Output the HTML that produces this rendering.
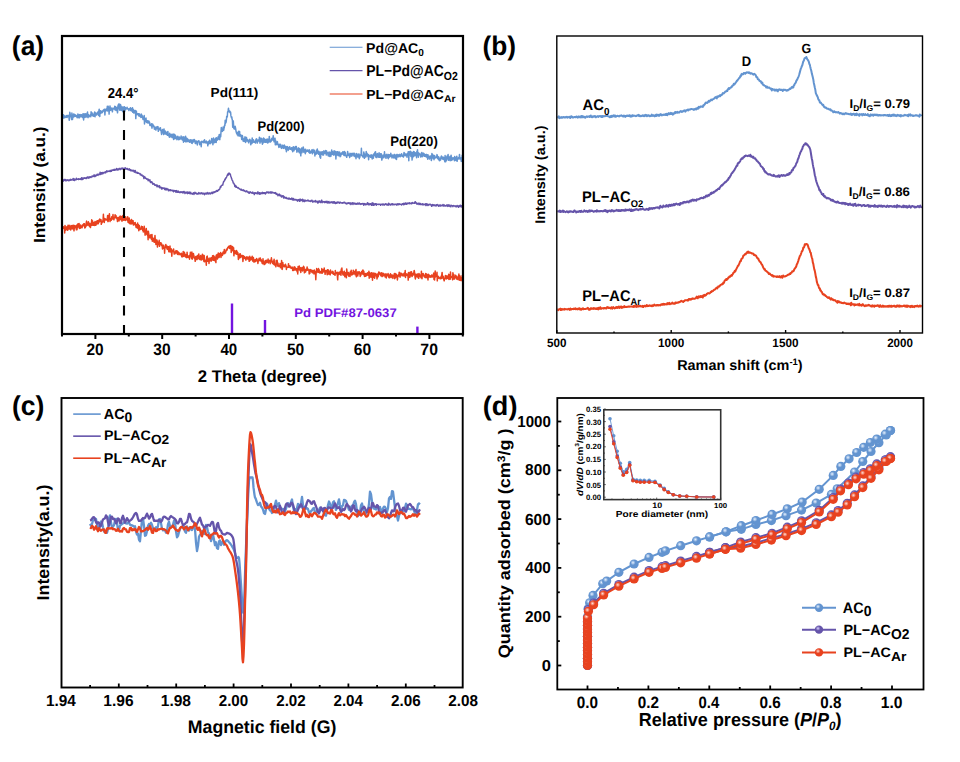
<!DOCTYPE html><html><head><meta charset="utf-8"><style>html,body{margin:0;padding:0;background:#fff;}svg{display:block;}text{font-family:"Liberation Sans",sans-serif;text-rendering:geometricPrecision;}</style></head><body>
<svg width="960" height="762" viewBox="0 0 960 762">
<rect width="960" height="762" fill="#fff"/>
<defs>
<radialGradient id="gb" cx="0.38" cy="0.35" r="0.65"><stop offset="0" stop-color="#e8f2ff"/><stop offset="0.42" stop-color="#6394d0"/><stop offset="1" stop-color="#6394d0"/></radialGradient>
<radialGradient id="gp" cx="0.38" cy="0.35" r="0.65"><stop offset="0" stop-color="#d8d0ff"/><stop offset="0.42" stop-color="#6554aa"/><stop offset="1" stop-color="#6554aa"/></radialGradient>
<radialGradient id="gr" cx="0.38" cy="0.35" r="0.65"><stop offset="0" stop-color="#ffe0d8"/><stop offset="0.42" stop-color="#e8421f"/><stop offset="1" stop-color="#e8421f"/></radialGradient>
</defs>
<path d="M62.6,117.36 L62.9,118.05 L63.2,117.78 L63.5,114.81 L63.8,118.1 L64.1,117.38 L64.4,115.88 L64.7,117.53 L65,117.18 L65.3,117.05 L65.6,116.67 L65.9,117.39 L66.2,115.44 L66.5,116.28 L66.8,115.78 L67.1,117.39 L67.4,116.53 L67.7,116.02 L68,115.27 L68.3,116.05 L68.6,116.43 L68.9,116 L69.2,120.29 L69.5,117.91 L69.8,112.33 L70.1,113.57 L70.4,116.14 L70.7,115.77 L71,116.72 L71.3,116.73 L71.6,119.58 L71.9,113.06 L72.2,115.83 L72.5,119.46 L72.8,117.37 L73.1,117.39 L73.4,115.63 L73.7,113.93 L74,116.65 L74.3,116.56 L74.6,114.56 L74.9,115.38 L75.2,116.29 L75.5,114.98 L75.8,116.25 L76.1,116.54 L76.4,116.45 L76.7,115.64 L77,117.29 L77.3,117.74 L77.6,116.88 L77.9,113.95 L78.2,117.5 L78.5,115.65 L78.8,117.72 L79.1,114.79 L79.4,117.77 L79.7,116.37 L80,114.53 L80.3,115.93 L80.6,116.47 L80.9,116.8 L81.2,114.9 L81.5,114.7 L81.8,116.65 L82.1,114.93 L82.4,116.66 L82.7,117.42 L83,113.79 L83.3,116.61 L83.6,119.88 L83.9,115.73 L84.2,113.71 L84.5,117.23 L84.8,116.45 L85.1,117.37 L85.4,115.47 L85.7,113.73 L86,115.74 L86.3,115.2 L86.6,116.99 L86.9,116.07 L87.2,113.29 L87.5,112.1 L87.8,116.97 L88.1,117.64 L88.4,114.59 L88.7,115.5 L89,116.12 L89.3,116.11 L89.6,116.68 L89.9,115.7 L90.2,115.13 L90.5,114.44 L90.8,116.75 L91.1,111.73 L91.4,114.84 L91.7,115.04 L92,112.79 L92.3,115.36 L92.6,113.82 L92.9,116.02 L93.2,114.46 L93.5,115.58 L93.8,116.33 L94.1,115 L94.4,113.03 L94.7,111.99 L95,116.81 L95.3,113.93 L95.6,112.98 L95.9,114.15 L96.2,113.56 L96.5,115.03 L96.8,113.72 L97.1,113.6 L97.4,112.42 L97.7,114.1 L98,111.76 L98.3,114.22 L98.6,115.41 L98.9,110.75 L99.2,109.24 L99.5,113.78 L99.8,116.58 L100.1,111.17 L100.4,110.7 L100.7,113.35 L101,111.1 L101.3,111.49 L101.6,111.61 L101.9,112.81 L102.2,111.28 L102.5,112.18 L102.8,111.37 L103.1,110.23 L103.4,110.89 L103.7,109.81 L104,111.11 L104.3,109.28 L104.6,109.19 L104.9,115.07 L105.2,110.4 L105.5,110.35 L105.8,111.08 L106.1,108.92 L106.4,109.72 L106.7,110.59 L107,110.26 L107.3,106.26 L107.6,110.88 L107.9,108.65 L108.2,106.28 L108.5,108.02 L108.8,108.71 L109.1,114.12 L109.4,107.42 L109.7,109.62 L110,105.89 L110.3,109.07 L110.6,110.39 L110.9,108.65 L111.2,108.04 L111.5,109.3 L111.8,109.97 L112.1,109.89 L112.4,111.83 L112.7,109.16 L113,107.93 L113.3,108.61 L113.6,108.66 L113.9,108.91 L114.2,108.68 L114.5,108.97 L114.8,106.18 L115.1,109.91 L115.4,107.78 L115.7,106.87 L116,109.57 L116.3,110.57 L116.6,109.32 L116.9,108.81 L117.2,107.16 L117.5,112.85 L117.8,109.86 L118.1,105.11 L118.4,107.35 L118.7,108.64 L119,103.84 L119.3,108.76 L119.6,107.81 L119.9,110.34 L120.2,109.94 L120.5,104.44 L120.8,108.57 L121.1,106.09 L121.4,110.19 L121.7,108.79 L122,109.37 L122.3,106.97 L122.6,111.33 L122.9,111.63 L123.2,107.03 L123.5,109.21 L123.8,107.66 L124.1,108.67 L124.4,106.83 L124.7,111.56 L125,107.34 L125.3,107.94 L125.6,109.62 L125.9,107.94 L126.2,108.59 L126.5,108.15 L126.8,108.83 L127.1,107.32 L127.4,108.47 L127.7,108.87 L128,108.73 L128.3,109.36 L128.6,108.89 L128.9,110.52 L129.2,108.96 L129.5,109.3 L129.8,108.56 L130.1,108.83 L130.4,107.81 L130.7,110.6 L131,108.24 L131.3,108.99 L131.6,110.82 L131.9,111.08 L132.2,109.48 L132.5,107.86 L132.8,112.37 L133.1,112.11 L133.4,109.44 L133.7,112.95 L134,110.96 L134.3,110.54 L134.6,112.58 L134.9,112.37 L135.2,113.13 L135.5,110.6 L135.8,118.62 L136.1,112.46 L136.4,111.24 L136.7,114.65 L137,113.37 L137.3,114.57 L137.6,113.75 L137.9,114.35 L138.2,114.99 L138.5,113.69 L138.8,116.02 L139.1,113.78 L139.4,114.09 L139.7,115.82 L140,116.47 L140.3,115.67 L140.6,114.94 L140.9,117.39 L141.2,114.04 L141.5,115.37 L141.8,117.22 L142.1,115.36 L142.4,117.68 L142.7,117.81 L143,119.49 L143.3,117.01 L143.6,117.7 L143.9,119.39 L144.2,115.45 L144.5,124.04 L144.8,118.59 L145.1,118.79 L145.4,121.42 L145.7,120.33 L146,117.97 L146.3,121.84 L146.6,122.44 L146.9,120.75 L147.2,121.26 L147.5,122.67 L147.8,120.84 L148.1,123.12 L148.4,123.01 L148.7,121.95 L149,121.13 L149.3,122.78 L149.6,122.38 L149.9,125.43 L150.2,124.37 L150.5,125.55 L150.8,124.79 L151.1,125.2 L151.4,123.85 L151.7,126.24 L152,128.12 L152.3,125.19 L152.6,124.08 L152.9,125.58 L153.2,125.53 L153.5,125.4 L153.8,126.85 L154.1,126.4 L154.4,129.19 L154.7,127.21 L155,127.89 L155.3,129.01 L155.6,127.31 L155.9,130.09 L156.2,127.17 L156.5,127.07 L156.8,127.91 L157.1,128.45 L157.4,126.69 L157.7,128.9 L158,126.62 L158.3,131.37 L158.6,129.32 L158.9,128.65 L159.2,128.41 L159.5,129.35 L159.8,129.76 L160.1,128.69 L160.4,127.66 L160.7,130.3 L161,129.96 L161.3,132.31 L161.6,134.47 L161.9,131.25 L162.2,132.09 L162.5,129.54 L162.8,132.65 L163.1,131.81 L163.4,132.73 L163.7,134.56 L164,128.89 L164.3,132.85 L164.6,130.96 L164.9,133.64 L165.2,130.93 L165.5,132.29 L165.8,133.48 L166.1,134.24 L166.4,133.57 L166.7,132.41 L167,132.07 L167.3,135.2 L167.6,133.99 L167.9,131.61 L168.2,135.53 L168.5,135.02 L168.8,135.83 L169.1,134.14 L169.4,137.25 L169.7,133.29 L170,135.85 L170.3,134.38 L170.6,136.24 L170.9,136.85 L171.2,134.35 L171.5,135.49 L171.8,135.79 L172.1,137.57 L172.4,136.96 L172.7,134.17 L173,136.8 L173.3,137.33 L173.6,139.51 L173.9,133.91 L174.2,135.72 L174.5,138.63 L174.8,134.7 L175.1,135.03 L175.4,137.71 L175.7,138.56 L176,136.12 L176.3,138.03 L176.6,137.49 L176.9,139.69 L177.2,137.5 L177.5,139.08 L177.8,136.33 L178.1,137.49 L178.4,137.71 L178.7,139.65 L179,138.9 L179.3,136.98 L179.6,139.22 L179.9,139.43 L180.2,138.19 L180.5,138.04 L180.8,138.22 L181.1,136.04 L181.4,138.94 L181.7,139.09 L182,137.51 L182.3,140 L182.6,136.9 L182.9,138.2 L183.2,138.39 L183.5,142.16 L183.8,136.85 L184.1,140.16 L184.4,140.79 L184.7,140.02 L185,141.29 L185.3,138.08 L185.6,136.23 L185.9,142.01 L186.2,137.98 L186.5,139.35 L186.8,138.13 L187.1,141.54 L187.4,141.32 L187.7,139 L188,141.49 L188.3,140.38 L188.6,140.04 L188.9,140.39 L189.2,140.06 L189.5,142.26 L189.8,140.93 L190.1,139.99 L190.4,142.08 L190.7,139.71 L191,141.11 L191.3,141.36 L191.6,143 L191.9,140.08 L192.2,143.51 L192.5,141.21 L192.8,140.42 L193.1,140.05 L193.4,141.99 L193.7,141.24 L194,139.57 L194.3,139.58 L194.6,140.49 L194.9,140.36 L195.2,143.06 L195.5,143.53 L195.8,142.82 L196.1,142.63 L196.4,140.96 L196.7,141.72 L197,143.01 L197.3,144.91 L197.6,143.12 L197.9,141.36 L198.2,141.86 L198.5,141.1 L198.8,140.68 L199.1,141.59 L199.4,142.17 L199.7,144.65 L200,141.98 L200.3,143.94 L200.6,144.56 L200.9,142.03 L201.2,146.74 L201.5,143 L201.8,141.3 L202.1,142.33 L202.4,141.97 L202.7,141.6 L203,141.65 L203.3,142.17 L203.6,142.61 L203.9,140.63 L204.2,141.95 L204.5,139.68 L204.8,142.36 L205.1,142.91 L205.4,142.22 L205.7,142.84 L206,142.87 L206.3,140.99 L206.6,141.63 L206.9,142.76 L207.2,143.49 L207.5,142.59 L207.8,145.82 L208.1,141.86 L208.4,143.5 L208.7,143.9 L209,141.8 L209.3,140.77 L209.6,140.23 L209.9,142.24 L210.2,143.66 L210.5,142.39 L210.8,142.21 L211.1,141.34 L211.4,142.7 L211.7,138.59 L212,142.06 L212.3,141.67 L212.6,139.48 L212.9,144.7 L213.2,139.25 L213.5,137.99 L213.8,139.3 L214.1,142.65 L214.4,139.52 L214.7,141.73 L215,142.36 L215.3,140.85 L215.6,138.34 L215.9,139.2 L216.2,142.43 L216.5,137.76 L216.8,138.21 L217.1,138.96 L217.4,140.14 L217.7,139.02 L218,139.45 L218.3,136.41 L218.6,139.09 L218.9,138.17 L219.2,134.56 L219.5,138.88 L219.8,139.61 L220.1,134.61 L220.4,135.36 L220.7,136.82 L221,131.88 L221.3,127.47 L221.6,130.78 L221.9,131.14 L222.2,130.36 L222.5,131.37 L222.8,130.1 L223.1,127.08 L223.4,129.04 L223.7,130.23 L224,128.42 L224.3,127.29 L224.6,125 L224.9,125.6 L225.2,120.35 L225.5,123.47 L225.8,121.3 L226.1,122.17 L226.4,120.02 L226.7,116.36 L227,116.76 L227.3,116.94 L227.6,112.01 L227.9,111.58 L228.2,110.16 L228.5,108.24 L228.8,111.44 L229.1,111.89 L229.4,111.4 L229.7,111.11 L230,111.42 L230.3,112.75 L230.6,112.25 L230.9,115.64 L231.2,116.83 L231.5,117.82 L231.8,116.94 L232.1,119.24 L232.4,120.24 L232.7,127.14 L233,123.17 L233.3,121.08 L233.6,125.49 L233.9,128.67 L234.2,127.8 L234.5,128.98 L234.8,128.55 L235.1,126.33 L235.4,127.29 L235.7,128.8 L236,131.06 L236.3,132.25 L236.6,133.33 L236.9,132.28 L237.2,134.7 L237.5,132.88 L237.8,133.09 L238.1,135.82 L238.4,132.18 L238.7,131.18 L239,132.43 L239.3,136.05 L239.6,131.56 L239.9,135.89 L240.2,135.65 L240.5,134.71 L240.8,134.82 L241.1,136.54 L241.4,136.58 L241.7,139.46 L242,138.29 L242.3,135.5 L242.6,136.73 L242.9,139.21 L243.2,141.12 L243.5,138.98 L243.8,138.99 L244.1,141.44 L244.4,138.73 L244.7,138.42 L245,136.88 L245.3,138.35 L245.6,142.5 L245.9,137.22 L246.2,139.5 L246.5,137.47 L246.8,140.08 L247.1,141.13 L247.4,139.54 L247.7,141.11 L248,141.19 L248.3,140.87 L248.6,142.86 L248.9,141.54 L249.2,139.98 L249.5,139.49 L249.8,139.3 L250.1,141.33 L250.4,140.18 L250.7,144.81 L251,143.52 L251.3,140.48 L251.6,140.36 L251.9,143.43 L252.2,138.12 L252.5,140.31 L252.8,142.45 L253.1,139.7 L253.4,139.68 L253.7,140.62 L254,142.18 L254.3,141.43 L254.6,141.86 L254.9,142.18 L255.2,141.37 L255.5,143.02 L255.8,140.29 L256.1,139.26 L256.4,138.77 L256.7,139.03 L257,140.66 L257.3,143.05 L257.6,141.79 L257.9,140.64 L258.2,139.95 L258.5,140.78 L258.8,140.98 L259.1,140.74 L259.4,137.3 L259.7,140.89 L260,143.13 L260.3,138.34 L260.6,141.23 L260.9,138.39 L261.2,141.83 L261.5,140.41 L261.8,138.38 L262.1,141.63 L262.4,144.17 L262.7,141.57 L263,143.11 L263.3,141.21 L263.6,138.04 L263.9,141.96 L264.2,139.93 L264.5,138.94 L264.8,142.26 L265.1,141.46 L265.4,140.2 L265.7,142.24 L266,139.58 L266.3,141.81 L266.6,139.38 L266.9,142.35 L267.2,139.06 L267.5,142.91 L267.8,141.02 L268.1,142.75 L268.4,139.34 L268.7,139.84 L269,141.79 L269.3,136.4 L269.6,138.9 L269.9,142.05 L270.2,141.2 L270.5,141.98 L270.8,140.07 L271.1,141.42 L271.4,139.52 L271.7,138.61 L272,138.18 L272.3,139.96 L272.6,140.04 L272.9,139.99 L273.2,135.7 L273.5,138.11 L273.8,140.4 L274.1,141.73 L274.4,139.66 L274.7,140.18 L275,138.14 L275.3,144.76 L275.6,140.23 L275.9,144.6 L276.2,144.63 L276.5,142.94 L276.8,141.94 L277.1,143.27 L277.4,141.62 L277.7,144.43 L278,143.95 L278.3,145.02 L278.6,145.93 L278.9,147.38 L279.2,144.45 L279.5,146.83 L279.8,144.29 L280.1,144.32 L280.4,144.9 L280.7,144.53 L281,147.64 L281.3,147.72 L281.6,148.41 L281.9,146.62 L282.2,147.22 L282.5,145.22 L282.8,145.37 L283.1,147.9 L283.4,148.16 L283.7,145.81 L284,148.46 L284.3,145.08 L284.6,147.52 L284.9,145.98 L285.2,147.16 L285.5,146.4 L285.8,149.53 L286.1,149.02 L286.4,151.78 L286.7,148.49 L287,146.41 L287.3,147.85 L287.6,146.69 L287.9,149.2 L288.2,150.39 L288.5,149.11 L288.8,147.77 L289.1,148.16 L289.4,149.07 L289.7,146.64 L290,149.08 L290.3,149.2 L290.6,148.13 L290.9,148.36 L291.2,149.28 L291.5,147.84 L291.8,147.87 L292.1,150.32 L292.4,149.52 L292.7,151.75 L293,147.79 L293.3,146.64 L293.6,150.77 L293.9,150.83 L294.2,148.33 L294.5,147.28 L294.8,149.46 L295.1,146.95 L295.4,149.11 L295.7,146.4 L296,148.96 L296.3,146.58 L296.6,149.45 L296.9,152.13 L297.2,149.5 L297.5,151.11 L297.8,149.04 L298.1,148.71 L298.4,147.85 L298.7,151.7 L299,150.1 L299.3,152.67 L299.6,148.51 L299.9,149.99 L300.2,150.49 L300.5,152.53 L300.8,155.86 L301.1,149.53 L301.4,148.85 L301.7,147.99 L302,152.64 L302.3,150.34 L302.6,149.74 L302.9,150.68 L303.2,146.96 L303.5,148.25 L303.8,152.28 L304.1,151.51 L304.4,151.17 L304.7,149.48 L305,151.9 L305.3,153.72 L305.6,149.25 L305.9,151.15 L306.2,150.5 L306.5,151.73 L306.8,151.24 L307.1,151.03 L307.4,149.96 L307.7,151.29 L308,150.43 L308.3,151.16 L308.6,151.14 L308.9,152.42 L309.2,149.64 L309.5,150.45 L309.8,153.14 L310.1,151.23 L310.4,151.2 L310.7,152.91 L311,152.05 L311.3,151.81 L311.6,152.03 L311.9,149.87 L312.2,152.45 L312.5,153.78 L312.8,152.69 L313.1,149.51 L313.4,152.3 L313.7,150.54 L314,151.59 L314.3,152.28 L314.6,150.19 L314.9,155.95 L315.2,151.93 L315.5,153.25 L315.8,153.04 L316.1,154.13 L316.4,153.93 L316.7,149.96 L317,152.26 L317.3,149.02 L317.6,151.58 L317.9,153.34 L318.2,153.67 L318.5,154.26 L318.8,151.17 L319.1,152.86 L319.4,152.55 L319.7,154.33 L320,157.17 L320.3,151.94 L320.6,158.18 L320.9,152.52 L321.2,152 L321.5,154.32 L321.8,153.73 L322.1,153.44 L322.4,151.67 L322.7,154.88 L323,152.77 L323.3,155.02 L323.6,154.83 L323.9,150.85 L324.2,151.32 L324.5,151.31 L324.8,153.21 L325.1,152.99 L325.4,153.28 L325.7,150.43 L326,153.57 L326.3,155.05 L326.6,150.97 L326.9,152.7 L327.2,153.39 L327.5,152.84 L327.8,152.76 L328.1,155.73 L328.4,155.02 L328.7,154.39 L329,152 L329.3,156.53 L329.6,153.73 L329.9,152.34 L330.2,152.72 L330.5,152.51 L330.8,156.45 L331.1,153.6 L331.4,153.41 L331.7,150.11 L332,154.46 L332.3,151.79 L332.6,151.71 L332.9,154.34 L333.2,152.15 L333.5,154.72 L333.8,155.17 L334.1,150.83 L334.4,153.33 L334.7,151.2 L335,153.49 L335.3,154.97 L335.6,151.58 L335.9,159.04 L336.2,153.21 L336.5,151.92 L336.8,153.53 L337.1,154.93 L337.4,151.7 L337.7,153.79 L338,151.75 L338.3,155.64 L338.6,154.09 L338.9,153.24 L339.2,155.46 L339.5,152 L339.8,153.36 L340.1,156.75 L340.4,153.82 L340.7,156.06 L341,154.34 L341.3,153.03 L341.6,153.73 L341.9,154.24 L342.2,153.53 L342.5,152.94 L342.8,151.82 L343.1,152 L343.4,154.41 L343.7,154.86 L344,155.42 L344.3,151.61 L344.6,155.55 L344.9,154.34 L345.2,152.25 L345.5,154.68 L345.8,155.66 L346.1,155.25 L346.4,155.58 L346.7,157.32 L347,155.88 L347.3,154.51 L347.6,151.46 L347.9,153.47 L348.2,155.17 L348.5,153.95 L348.8,155.71 L349.1,155.9 L349.4,154.8 L349.7,157.57 L350,153.31 L350.3,156.19 L350.6,154.11 L350.9,153.67 L351.2,155.74 L351.5,153.96 L351.8,156.19 L352.1,153.18 L352.4,155 L352.7,153.71 L353,154.64 L353.3,154.46 L353.6,153.35 L353.9,156.04 L354.2,153.22 L354.5,153.64 L354.8,156.46 L355.1,156.61 L355.4,156.17 L355.7,155.7 L356,158.63 L356.3,153.42 L356.6,154.14 L356.9,153.79 L357.2,156.65 L357.5,155.75 L357.8,157 L358.1,156.82 L358.4,154.68 L358.7,154.17 L359,153.93 L359.3,158.75 L359.6,156.9 L359.9,157.23 L360.2,154.98 L360.5,155.21 L360.8,155.01 L361.1,155.06 L361.4,148.33 L361.7,155.49 L362,155.03 L362.3,156.06 L362.6,155.96 L362.9,156.95 L363.2,155.67 L363.5,156.9 L363.8,151.88 L364.1,154.09 L364.4,158.35 L364.7,153.95 L365,154.94 L365.3,156.88 L365.6,154.51 L365.9,156.94 L366.2,151.56 L366.5,153.01 L366.8,153.9 L367.1,153.43 L367.4,155.9 L367.7,155.46 L368,156.44 L368.3,154.4 L368.6,159.78 L368.9,155.83 L369.2,155.81 L369.5,156.66 L369.8,155.61 L370.1,155.03 L370.4,156.11 L370.7,157.36 L371,156.98 L371.3,157.39 L371.6,155.13 L371.9,154.82 L372.2,158.99 L372.5,155.62 L372.8,156.7 L373.1,157.09 L373.4,158.11 L373.7,153.96 L374,155.26 L374.3,155.33 L374.6,155.53 L374.9,152.36 L375.2,155.84 L375.5,151.64 L375.8,156.86 L376.1,157.58 L376.4,156.88 L376.7,154.18 L377,157.42 L377.3,153.38 L377.6,154.14 L377.9,154.52 L378.2,154.71 L378.5,156.25 L378.8,157.22 L379.1,152.83 L379.4,155.18 L379.7,157.34 L380,156.29 L380.3,156.75 L380.6,153.74 L380.9,157.42 L381.2,153.65 L381.5,156.29 L381.8,160.08 L382.1,158.82 L382.4,156.77 L382.7,157.32 L383,155.09 L383.3,155.28 L383.6,157.75 L383.9,156 L384.2,155.81 L384.5,151.77 L384.8,156.23 L385.1,156.97 L385.4,154.81 L385.7,155.24 L386,158.37 L386.3,156.26 L386.6,155.56 L386.9,154.28 L387.2,155.05 L387.5,155.6 L387.8,158.03 L388.1,155.05 L388.4,158.65 L388.7,154.56 L389,155.41 L389.3,157.2 L389.6,155.57 L389.9,154.67 L390.2,155.71 L390.5,156.57 L390.8,153.31 L391.1,155.5 L391.4,155.53 L391.7,155.24 L392,158.04 L392.3,154.97 L392.6,155.27 L392.9,155.85 L393.2,156.88 L393.5,155.44 L393.8,158.03 L394.1,154.38 L394.4,157.65 L394.7,154.42 L395,155.45 L395.3,156.22 L395.6,158.74 L395.9,156.99 L396.2,155.02 L396.5,159.51 L396.8,155.27 L397.1,154.39 L397.4,156.23 L397.7,155.68 L398,156.95 L398.3,154.68 L398.6,156.63 L398.9,156.42 L399.2,155.87 L399.5,155.39 L399.8,154.37 L400.1,156.75 L400.4,155.58 L400.7,156.09 L401,154.8 L401.3,155.31 L401.6,153.71 L401.9,155.49 L402.2,156.35 L402.5,155.3 L402.8,156.41 L403.1,156.02 L403.4,157.09 L403.7,154.72 L404,152.5 L404.3,155.57 L404.6,154.63 L404.9,153.37 L405.2,155.77 L405.5,155.14 L405.8,155.37 L406.1,154.16 L406.4,154.91 L406.7,155.34 L407,157.2 L407.3,153.47 L407.6,154.44 L407.9,154.96 L408.2,151.79 L408.5,151.94 L408.8,160.81 L409.1,151.63 L409.4,155.11 L409.7,152.95 L410,153.06 L410.3,151.2 L410.6,152.8 L410.9,156.48 L411.2,152.02 L411.5,154.97 L411.8,154.52 L412.1,160.09 L412.4,152.59 L412.7,157.78 L413,155.3 L413.3,153.52 L413.6,151.44 L413.9,156.19 L414.2,151.87 L414.5,153.19 L414.8,155.23 L415.1,155.57 L415.4,152.64 L415.7,153.87 L416,153.55 L416.3,155.74 L416.6,157.75 L416.9,151.29 L417.2,155.44 L417.5,149.83 L417.8,154.18 L418.1,152.55 L418.4,157.26 L418.7,154.58 L419,153.28 L419.3,153.7 L419.6,153.65 L419.9,154.86 L420.2,154.4 L420.5,155.68 L420.8,157.07 L421.1,155.88 L421.4,153.05 L421.7,152.51 L422,153.87 L422.3,156.64 L422.6,154.62 L422.9,153.18 L423.2,155.46 L423.5,153.2 L423.8,153.69 L424.1,156.24 L424.4,155.09 L424.7,154.27 L425,156.18 L425.3,154.91 L425.6,154.83 L425.9,155.25 L426.2,156.92 L426.5,156.19 L426.8,154.38 L427.1,155.79 L427.4,157.29 L427.7,159.2 L428,154.74 L428.3,157.03 L428.6,156.19 L428.9,157.87 L429.2,158.04 L429.5,158.94 L429.8,157.55 L430.1,155.99 L430.4,156.04 L430.7,157.49 L431,157.51 L431.3,160.54 L431.6,159.49 L431.9,153.49 L432.2,157.57 L432.5,155.08 L432.8,154.62 L433.1,158.25 L433.4,157.99 L433.7,155.63 L434,159.68 L434.3,155.78 L434.6,155.52 L434.9,158.28 L435.2,157.65 L435.5,157.11 L435.8,157.27 L436.1,157.73 L436.4,157.21 L436.7,157.19 L437,154.62 L437.3,155.48 L437.6,158.43 L437.9,156.48 L438.2,158.37 L438.5,159.43 L438.8,157.06 L439.1,158.04 L439.4,160.75 L439.7,158.69 L440,160.43 L440.3,159.98 L440.6,159.96 L440.9,157.38 L441.2,156.47 L441.5,156.08 L441.8,158.49 L442.1,158.48 L442.4,157.53 L442.7,159.08 L443,156.91 L443.3,159.5 L443.6,157.91 L443.9,157.8 L444.2,157.87 L444.5,157.59 L444.8,161.63 L445.1,155.49 L445.4,158.18 L445.7,161.66 L446,159.01 L446.3,157.49 L446.6,160.57 L446.9,156.36 L447.2,156.02 L447.5,158.84 L447.8,155.81 L448.1,154.44 L448.4,159.34 L448.7,160.31 L449,159.13 L449.3,157.31 L449.6,158.33 L449.9,156.61 L450.2,160.67 L450.5,159.27 L450.8,159.2 L451.1,155.17 L451.4,159.32 L451.7,160.36 L452,159.95 L452.3,159.32 L452.6,158.14 L452.9,157.64 L453.2,159.06 L453.5,158.74 L453.8,158.53 L454.1,157.72 L454.4,160.71 L454.7,156.44 L455,158.17 L455.3,157.34 L455.6,159.76 L455.9,160.37 L456.2,160.09 L456.5,159.37 L456.8,156.13 L457.1,161.37 L457.4,159.02 L457.7,158.09 L458,158.29 L458.3,157.75 L458.6,158.9 L458.9,158.74 L459.2,157.74 L459.5,154.42 L459.8,158.23 L460.1,159 L460.4,159.08 L460.7,158.06 L461,158.97 L461.3,161.38 L461.6,157.59 L461.9,160.5 L462.2,155.37 L462.5,156.41" fill="none" stroke="#6394d0" stroke-width="1.5" stroke-linejoin="round"/>
<path d="M62.6,179.96 L62.9,180.15 L63.2,181.33 L63.5,180.44 L63.8,180.05 L64.1,179.39 L64.4,180.4 L64.7,179.62 L65,180.23 L65.3,179.84 L65.6,179.46 L65.9,180.95 L66.2,180.14 L66.5,180.59 L66.8,180.5 L67.1,179.82 L67.4,180.18 L67.7,179.96 L68,180.54 L68.3,180.29 L68.6,179.92 L68.9,180.81 L69.2,180.28 L69.5,180.24 L69.8,179.66 L70.1,180.18 L70.4,179.32 L70.7,180.17 L71,179.52 L71.3,180 L71.6,179.78 L71.9,179.98 L72.2,180.02 L72.5,179.8 L72.8,179.78 L73.1,178.44 L73.4,178.9 L73.7,180.29 L74,179.95 L74.3,179 L74.6,180.49 L74.9,179.28 L75.2,179.8 L75.5,179.73 L75.8,179.56 L76.1,179.75 L76.4,178.2 L76.7,179.39 L77,179.14 L77.3,179.38 L77.6,179.18 L77.9,178.97 L78.2,178.9 L78.5,179.59 L78.8,178.77 L79.1,179.28 L79.4,179.23 L79.7,178.99 L80,179.19 L80.3,179.2 L80.6,178.68 L80.9,179.03 L81.2,179.7 L81.5,177.83 L81.8,178.61 L82.1,178.36 L82.4,179.55 L82.7,177.98 L83,178.57 L83.3,178.94 L83.6,178.08 L83.9,178.36 L84.2,178.05 L84.5,177.71 L84.8,178.23 L85.1,178.43 L85.4,177.97 L85.7,178.17 L86,178.35 L86.3,178.52 L86.6,177.37 L86.9,178.14 L87.2,177.52 L87.5,176.89 L87.8,177.33 L88.1,177.9 L88.4,177.69 L88.7,177 L89,178.15 L89.3,177.54 L89.6,177.26 L89.9,176.73 L90.2,177.34 L90.5,176.91 L90.8,177.52 L91.1,177.07 L91.4,177.13 L91.7,176.63 L92,176.02 L92.3,176.84 L92.6,176.06 L92.9,176.38 L93.2,176.32 L93.5,175.89 L93.8,176.55 L94.1,174.77 L94.4,176.62 L94.7,175.59 L95,176.62 L95.3,176.24 L95.6,175.17 L95.9,175.13 L96.2,175.78 L96.5,175.34 L96.8,175.19 L97.1,174.24 L97.4,174.22 L97.7,175.33 L98,175.4 L98.3,174.33 L98.6,174.17 L98.9,174.55 L99.2,174.56 L99.5,174.51 L99.8,173.97 L100.1,172.33 L100.4,174.63 L100.7,173.43 L101,174.34 L101.3,172.79 L101.6,173.75 L101.9,173.26 L102.2,172.41 L102.5,173.71 L102.8,173.75 L103.1,172.81 L103.4,173.26 L103.7,172.39 L104,172.49 L104.3,172.55 L104.6,172.4 L104.9,173.03 L105.2,171.82 L105.5,172.69 L105.8,172.59 L106.1,171.96 L106.4,171.43 L106.7,170.8 L107,171.74 L107.3,171.35 L107.6,171.62 L107.9,171.02 L108.2,171.4 L108.5,171.25 L108.8,171.23 L109.1,171.27 L109.4,171.32 L109.7,171.41 L110,170.55 L110.3,171.47 L110.6,170.82 L110.9,170.49 L111.2,170.16 L111.5,171.18 L111.8,170.68 L112.1,170.16 L112.4,170.36 L112.7,170.26 L113,169.96 L113.3,169.51 L113.6,170.13 L113.9,169.93 L114.2,169.81 L114.5,170.31 L114.8,169.23 L115.1,169.33 L115.4,169.84 L115.7,170.01 L116,169.85 L116.3,169.85 L116.6,168.49 L116.9,169.64 L117.2,169.55 L117.5,169.92 L117.8,168.95 L118.1,169.42 L118.4,169.58 L118.7,169.79 L119,169.13 L119.3,168.36 L119.6,168.92 L119.9,169.13 L120.2,169.01 L120.5,169.59 L120.8,168.6 L121.1,168.19 L121.4,168.32 L121.7,168.87 L122,168.19 L122.3,168.06 L122.6,168.14 L122.9,169.04 L123.2,168.61 L123.5,168.37 L123.8,168.91 L124.1,168.86 L124.4,168.16 L124.7,169.37 L125,168.78 L125.3,167.81 L125.6,168.25 L125.9,168.96 L126.2,169.12 L126.5,168.85 L126.8,168.6 L127.1,169.23 L127.4,168.39 L127.7,169.53 L128,169.29 L128.3,169.43 L128.6,169.24 L128.9,169.98 L129.2,168.65 L129.5,169.39 L129.8,170.11 L130.1,169.62 L130.4,170.67 L130.7,170.29 L131,169.85 L131.3,170.77 L131.6,170.34 L131.9,170.73 L132.2,170.3 L132.5,170.41 L132.8,171.1 L133.1,170.94 L133.4,170.67 L133.7,170.35 L134,171.53 L134.3,172.14 L134.6,171.11 L134.9,171.9 L135.2,170.44 L135.5,171.24 L135.8,172.29 L136.1,172.83 L136.4,172.28 L136.7,172.64 L137,172.65 L137.3,173.12 L137.6,172.34 L137.9,173.24 L138.2,172.92 L138.5,173.11 L138.8,173.4 L139.1,173.47 L139.4,173.37 L139.7,173.75 L140,173.6 L140.3,174.84 L140.6,174.66 L140.9,174.34 L141.2,175.41 L141.5,175.47 L141.8,175.3 L142.1,175.05 L142.4,175.6 L142.7,175.95 L143,176.53 L143.3,176.05 L143.6,176.09 L143.9,178.63 L144.2,177.41 L144.5,177.16 L144.8,176.85 L145.1,177.7 L145.4,178.22 L145.7,178.29 L146,178.56 L146.3,178.45 L146.6,179.17 L146.9,178.63 L147.2,178.94 L147.5,179.15 L147.8,179.31 L148.1,180.7 L148.4,179.3 L148.7,180.52 L149,180.07 L149.3,180.17 L149.6,180.99 L149.9,179.78 L150.2,181.32 L150.5,182.59 L150.8,181.71 L151.1,182.21 L151.4,181.85 L151.7,182.67 L152,182.01 L152.3,182.98 L152.6,183.06 L152.9,184.31 L153.2,183.52 L153.5,183.61 L153.8,183.74 L154.1,183.66 L154.4,184.75 L154.7,185.25 L155,184.63 L155.3,185.31 L155.6,185.01 L155.9,185.52 L156.2,185.72 L156.5,185.03 L156.8,185.47 L157.1,186.8 L157.4,185.23 L157.7,186.22 L158,186.18 L158.3,186.04 L158.6,186.6 L158.9,186.83 L159.2,187.04 L159.5,185.73 L159.8,187.77 L160.1,186.9 L160.4,187.68 L160.7,187.26 L161,187.15 L161.3,187.48 L161.6,189.02 L161.9,189.1 L162.2,187.63 L162.5,187.97 L162.8,188.46 L163.1,188.31 L163.4,188.17 L163.7,188.06 L164,187.83 L164.3,188.74 L164.6,189.48 L164.9,189.58 L165.2,188.17 L165.5,189.04 L165.8,188.82 L166.1,190.06 L166.4,188.97 L166.7,188.53 L167,188.43 L167.3,189.6 L167.6,189.44 L167.9,189.96 L168.2,189.3 L168.5,190.8 L168.8,189.4 L169.1,190.03 L169.4,190.07 L169.7,190.47 L170,189.98 L170.3,189.72 L170.6,189.77 L170.9,190.66 L171.2,190.42 L171.5,190.6 L171.8,190.15 L172.1,190.66 L172.4,190.76 L172.7,191.01 L173,190.14 L173.3,190.52 L173.6,191.71 L173.9,190.82 L174.2,191.01 L174.5,190.93 L174.8,190.49 L175.1,190.73 L175.4,191.44 L175.7,190.71 L176,192.28 L176.3,190.74 L176.6,190.59 L176.9,191.33 L177.2,191.01 L177.5,192.22 L177.8,191.44 L178.1,191.91 L178.4,191.08 L178.7,192.35 L179,192.08 L179.3,192.39 L179.6,191.97 L179.9,192.37 L180.2,192.02 L180.5,192.4 L180.8,191.83 L181.1,192.3 L181.4,191.83 L181.7,192.44 L182,192.03 L182.3,191.9 L182.6,191.92 L182.9,192.92 L183.2,191.59 L183.5,191.66 L183.8,192.65 L184.1,191.49 L184.4,192.22 L184.7,192.01 L185,193.52 L185.3,192.23 L185.6,192.24 L185.9,192.43 L186.2,192.74 L186.5,192.9 L186.8,192.06 L187.1,193.16 L187.4,193.68 L187.7,192.03 L188,193.14 L188.3,193.27 L188.6,193.1 L188.9,192.91 L189.2,191.98 L189.5,193.62 L189.8,192.97 L190.1,193.06 L190.4,193.74 L190.7,192.17 L191,193.22 L191.3,193.55 L191.6,193.64 L191.9,193.62 L192.2,194.29 L192.5,193.52 L192.8,193.88 L193.1,193.78 L193.4,192.79 L193.7,193.12 L194,194.42 L194.3,193.37 L194.6,193.47 L194.9,192.31 L195.2,193.35 L195.5,192.91 L195.8,193.23 L196.1,193.75 L196.4,193.13 L196.7,193.22 L197,194.1 L197.3,193.71 L197.6,193.73 L197.9,193.95 L198.2,193.25 L198.5,193.32 L198.8,192.57 L199.1,193.83 L199.4,193.41 L199.7,193.5 L200,193.01 L200.3,193.78 L200.6,193.78 L200.9,193.58 L201.2,192.78 L201.5,193.12 L201.8,193.48 L202.1,193.12 L202.4,193.67 L202.7,193.95 L203,193.16 L203.3,193.42 L203.6,193.19 L203.9,193.96 L204.2,193.9 L204.5,194.7 L204.8,193.5 L205.1,193.08 L205.4,193.68 L205.7,193.39 L206,193.57 L206.3,194.03 L206.6,193.33 L206.9,193.76 L207.2,192.46 L207.5,193.87 L207.8,193.43 L208.1,193.23 L208.4,193.08 L208.7,193.91 L209,193.01 L209.3,193.77 L209.6,192.94 L209.9,193.17 L210.2,193.24 L210.5,193.95 L210.8,193.22 L211.1,193.05 L211.4,192.87 L211.7,192.72 L212,192.26 L212.3,193.56 L212.6,193.35 L212.9,192.31 L213.2,192.61 L213.5,191.91 L213.8,192.77 L214.1,192.55 L214.4,192.18 L214.7,191.64 L215,192.22 L215.3,192.01 L215.6,191.51 L215.9,191.77 L216.2,190.68 L216.5,190.85 L216.8,190.52 L217.1,190.82 L217.4,191.34 L217.7,190.45 L218,190.72 L218.3,189.98 L218.6,189.57 L218.9,189.93 L219.2,189.42 L219.5,189.49 L219.8,188.94 L220.1,187.77 L220.4,186.61 L220.7,187.42 L221,186.41 L221.3,185.88 L221.6,185.42 L221.9,185.36 L222.2,185.11 L222.5,184.7 L222.8,185.06 L223.1,183.01 L223.4,182.93 L223.7,181.19 L224,181.21 L224.3,181.04 L224.6,180.55 L224.9,179.16 L225.2,179.65 L225.5,178.14 L225.8,178.46 L226.1,177.5 L226.4,177.45 L226.7,176.76 L227,175.84 L227.3,175.65 L227.6,174.33 L227.9,173.88 L228.2,173.9 L228.5,174.96 L228.8,173.14 L229.1,173.06 L229.4,174.07 L229.7,173.57 L230,174.01 L230.3,174.19 L230.6,175.47 L230.9,176.56 L231.2,177.16 L231.5,178.39 L231.8,178.99 L232.1,179.99 L232.4,180.57 L232.7,180.84 L233,182 L233.3,183.13 L233.6,183.14 L233.9,183.11 L234.2,184.35 L234.5,184.71 L234.8,186.42 L235.1,185.95 L235.4,185.44 L235.7,186.16 L236,187.19 L236.3,186.28 L236.6,186.84 L236.9,187.31 L237.2,187.47 L237.5,187.49 L237.8,188.02 L238.1,187.52 L238.4,188.08 L238.7,187.97 L239,188.55 L239.3,188.71 L239.6,188.99 L239.9,188.99 L240.2,189.1 L240.5,189.74 L240.8,189.96 L241.1,190.11 L241.4,189.27 L241.7,190.02 L242,190.35 L242.3,189.99 L242.6,190.43 L242.9,190.21 L243.2,190.58 L243.5,189.82 L243.8,190.81 L244.1,190.48 L244.4,190.46 L244.7,190.76 L245,191.43 L245.3,191.52 L245.6,191.32 L245.9,191.71 L246.2,191.25 L246.5,190.99 L246.8,190.83 L247.1,191.77 L247.4,191.83 L247.7,192.02 L248,192.14 L248.3,192.76 L248.6,191.88 L248.9,192.03 L249.2,193.32 L249.5,192.86 L249.8,192.43 L250.1,191.68 L250.4,192.25 L250.7,192.5 L251,192.65 L251.3,192.81 L251.6,192.65 L251.9,193.3 L252.2,192.27 L252.5,192.71 L252.8,192.23 L253.1,193.23 L253.4,192.99 L253.7,193.29 L254,192.99 L254.3,194.66 L254.6,193.32 L254.9,192.68 L255.2,193.03 L255.5,192.87 L255.8,193.41 L256.1,193.52 L256.4,193.27 L256.7,193.03 L257,192.83 L257.3,193.86 L257.6,193.65 L257.9,191.84 L258.2,193.2 L258.5,192.8 L258.8,193.01 L259.1,193.95 L259.4,192.68 L259.7,192.72 L260,194.3 L260.3,192.98 L260.6,193.08 L260.9,193.69 L261.2,192.93 L261.5,193.16 L261.8,193.24 L262.1,193.74 L262.4,192.35 L262.7,192.68 L263,192.97 L263.3,193.4 L263.6,192.67 L263.9,193.14 L264.2,192.66 L264.5,192.68 L264.8,193.4 L265.1,192.68 L265.4,194.08 L265.7,192.88 L266,193.19 L266.3,192.98 L266.6,191.91 L266.9,191.89 L267.2,192.77 L267.5,192.03 L267.8,192.25 L268.1,192.32 L268.4,192.04 L268.7,192.97 L269,192.77 L269.3,192.49 L269.6,192.66 L269.9,191.99 L270.2,192.79 L270.5,192.02 L270.8,193.11 L271.1,192.12 L271.4,191.94 L271.7,192.98 L272,192.77 L272.3,192.07 L272.6,192.79 L272.9,192.55 L273.2,192.59 L273.5,192.89 L273.8,192.92 L274.1,193.14 L274.4,193.16 L274.7,192.91 L275,192.76 L275.3,193.53 L275.6,192.59 L275.9,193.91 L276.2,194.16 L276.5,194.31 L276.8,193.43 L277.1,194.62 L277.4,194.38 L277.7,194.54 L278,195.74 L278.3,194.65 L278.6,194.92 L278.9,194.3 L279.2,194.05 L279.5,195.36 L279.8,195.59 L280.1,195.87 L280.4,195.84 L280.7,194.96 L281,196.19 L281.3,196.68 L281.6,197.04 L281.9,196.06 L282.2,195.84 L282.5,196.17 L282.8,196.65 L283.1,195.62 L283.4,196.9 L283.7,198.05 L284,196.51 L284.3,196.73 L284.6,197.55 L284.9,197.54 L285.2,198.16 L285.5,197.6 L285.8,197.94 L286.1,197.34 L286.4,197.73 L286.7,198.58 L287,198.37 L287.3,198.36 L287.6,198.69 L287.9,198.15 L288.2,198.6 L288.5,198.75 L288.8,199.25 L289.1,197.92 L289.4,198.68 L289.7,199.09 L290,198.69 L290.3,199.04 L290.6,199.36 L290.9,199.32 L291.2,198.38 L291.5,198.66 L291.8,197.98 L292.1,199.59 L292.4,199.44 L292.7,200 L293,199.46 L293.3,198.44 L293.6,200 L293.9,198.96 L294.2,199.6 L294.5,199.45 L294.8,200.02 L295.1,200.12 L295.4,199.55 L295.7,199.45 L296,199.79 L296.3,199.59 L296.6,200.31 L296.9,200.08 L297.2,200.57 L297.5,201.15 L297.8,199.61 L298.1,199.76 L298.4,200.48 L298.7,200.44 L299,199.95 L299.3,199.36 L299.6,201.31 L299.9,200.22 L300.2,199.68 L300.5,199.15 L300.8,200.89 L301.1,200.43 L301.4,200.31 L301.7,199.86 L302,200.31 L302.3,200.2 L302.6,199.27 L302.9,201.64 L303.2,200.65 L303.5,200.32 L303.8,200.06 L304.1,200.25 L304.4,201.64 L304.7,200.75 L305,199.99 L305.3,201.03 L305.6,200.87 L305.9,200.91 L306.2,200.64 L306.5,200.65 L306.8,200.85 L307.1,200.68 L307.4,200.16 L307.7,200.37 L308,200.86 L308.3,200.15 L308.6,200.84 L308.9,200.78 L309.2,201.29 L309.5,201.05 L309.8,200.87 L310.1,200.9 L310.4,201.25 L310.7,201.51 L311,200.62 L311.3,200.44 L311.6,200.82 L311.9,200.13 L312.2,200.85 L312.5,201.61 L312.8,202.14 L313.1,201.98 L313.4,201.33 L313.7,201.4 L314,201.08 L314.3,201.14 L314.6,201.53 L314.9,201.84 L315.2,201.64 L315.5,200.55 L315.8,201.94 L316.1,201.52 L316.4,201.27 L316.7,201.63 L317,201.99 L317.3,201.73 L317.6,201.3 L317.9,203.17 L318.2,201.38 L318.5,201.9 L318.8,202.28 L319.1,200.94 L319.4,202 L319.7,200.99 L320,201.67 L320.3,201.47 L320.6,202.63 L320.9,201.23 L321.2,202.1 L321.5,201.9 L321.8,200.1 L322.1,202.71 L322.4,201.69 L322.7,201.84 L323,202.08 L323.3,201.59 L323.6,201.67 L323.9,202.02 L324.2,201.65 L324.5,202.12 L324.8,202.66 L325.1,201.65 L325.4,201.41 L325.7,202.08 L326,202.34 L326.3,202.48 L326.6,201.7 L326.9,201.14 L327.2,202.63 L327.5,202.88 L327.8,202.95 L328.1,201.84 L328.4,202.55 L328.7,202.77 L329,201.49 L329.3,202.82 L329.6,203.01 L329.9,202.64 L330.2,202.64 L330.5,202.74 L330.8,202.18 L331.1,201.79 L331.4,202.04 L331.7,202.39 L332,202.1 L332.3,202.97 L332.6,202.33 L332.9,202.48 L333.2,201.75 L333.5,202.74 L333.8,202.26 L334.1,203.28 L334.4,201.83 L334.7,202.77 L335,202.46 L335.3,202.49 L335.6,203.44 L335.9,203.12 L336.2,202.32 L336.5,203.35 L336.8,202.44 L337.1,203.11 L337.4,201.98 L337.7,202.63 L338,202.66 L338.3,202.66 L338.6,202.1 L338.9,201.98 L339.2,202.84 L339.5,203.14 L339.8,202.9 L340.1,202.74 L340.4,202.23 L340.7,202.8 L341,202.69 L341.3,202.63 L341.6,203.05 L341.9,203.06 L342.2,203.18 L342.5,202.9 L342.8,202.65 L343.1,202.96 L343.4,202.77 L343.7,202.33 L344,202.93 L344.3,202.36 L344.6,202.23 L344.9,202.76 L345.2,202.86 L345.5,203.48 L345.8,203.04 L346.1,203.43 L346.4,203.86 L346.7,203.28 L347,203.41 L347.3,202.94 L347.6,203.64 L347.9,203.31 L348.2,203.33 L348.5,202.8 L348.8,202.9 L349.1,203.04 L349.4,203.4 L349.7,203.86 L350,202.7 L350.3,203.23 L350.6,203.27 L350.9,204.45 L351.2,203.25 L351.5,203.21 L351.8,203.8 L352.1,202.98 L352.4,203.74 L352.7,202.75 L353,204.43 L353.3,203.51 L353.6,203.35 L353.9,202.96 L354.2,203.5 L354.5,203.62 L354.8,203.27 L355.1,204.14 L355.4,203.47 L355.7,203.67 L356,203.77 L356.3,204.27 L356.6,203.5 L356.9,203.71 L357.2,203.82 L357.5,203.98 L357.8,202.89 L358.1,204.24 L358.4,203.68 L358.7,203.42 L359,203.74 L359.3,202.9 L359.6,203.43 L359.9,203.87 L360.2,204.41 L360.5,203.77 L360.8,204 L361.1,203.69 L361.4,204.23 L361.7,203.67 L362,204.06 L362.3,203.72 L362.6,203.44 L362.9,203.44 L363.2,203.61 L363.5,204.43 L363.8,205.36 L364.1,203.74 L364.4,203.61 L364.7,204.19 L365,204.18 L365.3,203.73 L365.6,204.84 L365.9,204.38 L366.2,204.43 L366.5,204.04 L366.8,204.08 L367.1,204.47 L367.4,202.79 L367.7,203.69 L368,204.1 L368.3,203.41 L368.6,204.82 L368.9,203.53 L369.2,203.91 L369.5,204.26 L369.8,204.8 L370.1,204.11 L370.4,203.8 L370.7,203.73 L371,204.27 L371.3,203.91 L371.6,205.25 L371.9,204.76 L372.2,202.77 L372.5,203.79 L372.8,204.38 L373.1,205.27 L373.4,203.33 L373.7,204.04 L374,205.34 L374.3,203.95 L374.6,204.3 L374.9,204.05 L375.2,204.59 L375.5,203.8 L375.8,204.31 L376.1,203.65 L376.4,205.2 L376.7,204.6 L377,204.32 L377.3,204.36 L377.6,204.36 L377.9,204.19 L378.2,204.43 L378.5,204.53 L378.8,204.34 L379.1,204.11 L379.4,204.21 L379.7,204.19 L380,204.61 L380.3,204.48 L380.6,205.3 L380.9,204.34 L381.2,204.46 L381.5,204.15 L381.8,204.48 L382.1,204.24 L382.4,204.06 L382.7,204.52 L383,205.17 L383.3,204.07 L383.6,204.17 L383.9,204.45 L384.2,204.58 L384.5,205.06 L384.8,204.19 L385.1,204.42 L385.4,204.12 L385.7,203.69 L386,204.27 L386.3,203.98 L386.6,204.69 L386.9,204.96 L387.2,204.26 L387.5,204.17 L387.8,205.09 L388.1,204.39 L388.4,205.16 L388.7,203.19 L389,204.33 L389.3,204.03 L389.6,204 L389.9,204.85 L390.2,204.97 L390.5,204.4 L390.8,204.9 L391.1,203.97 L391.4,204.6 L391.7,204.4 L392,203.7 L392.3,204.87 L392.6,203.84 L392.9,204.64 L393.2,204.1 L393.5,204.58 L393.8,204.71 L394.1,204.42 L394.4,204.2 L394.7,204.68 L395,204.5 L395.3,204.2 L395.6,204.4 L395.9,204.34 L396.2,204.21 L396.5,204.76 L396.8,205.13 L397.1,204.11 L397.4,204.27 L397.7,203.89 L398,203.71 L398.3,204.8 L398.6,203.98 L398.9,204.42 L399.2,203.65 L399.5,203.96 L399.8,204.45 L400.1,204.44 L400.4,204.31 L400.7,204.38 L401,204.28 L401.3,204.62 L401.6,204.92 L401.9,204.4 L402.2,204.08 L402.5,203.65 L402.8,203.88 L403.1,203.94 L403.4,204.72 L403.7,203.36 L404,203.68 L404.3,203.56 L404.6,204.4 L404.9,203.68 L405.2,203.15 L405.5,203.04 L405.8,204.08 L406.1,203.18 L406.4,204.38 L406.7,204.33 L407,203.31 L407.3,203.63 L407.6,203.76 L407.9,203.04 L408.2,203.11 L408.5,203.34 L408.8,203.57 L409.1,203.67 L409.4,202.66 L409.7,203.57 L410,203.3 L410.3,203.12 L410.6,203.13 L410.9,203.76 L411.2,203.96 L411.5,203.02 L411.8,203.11 L412.1,202.44 L412.4,202.94 L412.7,203.4 L413,203.02 L413.3,203.2 L413.6,202.98 L413.9,203.05 L414.2,203.3 L414.5,203.33 L414.8,202.11 L415.1,202.89 L415.4,201.68 L415.7,203.01 L416,202.78 L416.3,202.78 L416.6,203.78 L416.9,203.27 L417.2,204.16 L417.5,203.47 L417.8,203.99 L418.1,203.17 L418.4,203.22 L418.7,203.34 L419,204.54 L419.3,203.3 L419.6,203.58 L419.9,204.24 L420.2,204.51 L420.5,203.52 L420.8,204.59 L421.1,204.08 L421.4,204.58 L421.7,204.26 L422,204.4 L422.3,203.77 L422.6,204.8 L422.9,203.9 L423.2,204.3 L423.5,204.8 L423.8,204.21 L424.1,204.45 L424.4,204.44 L424.7,204.54 L425,204.77 L425.3,203.85 L425.6,204.32 L425.9,205.51 L426.2,203.72 L426.5,204.34 L426.8,205.01 L427.1,203.84 L427.4,204.31 L427.7,204.35 L428,205.44 L428.3,204.37 L428.6,205.06 L428.9,204.52 L429.2,204.82 L429.5,204.33 L429.8,204.2 L430.1,204.67 L430.4,204.28 L430.7,204.75 L431,204.98 L431.3,205.13 L431.6,206.34 L431.9,205.62 L432.2,204.5 L432.5,204.68 L432.8,205.79 L433.1,205.02 L433.4,204.89 L433.7,205.56 L434,204.81 L434.3,205.53 L434.6,204.99 L434.9,205.72 L435.2,205.09 L435.5,205.54 L435.8,205.66 L436.1,205.93 L436.4,204.86 L436.7,205.06 L437,204.61 L437.3,204.49 L437.6,205.05 L437.9,205.36 L438.2,205.87 L438.5,205.13 L438.8,206.2 L439.1,205.52 L439.4,205.76 L439.7,205.27 L440,204.83 L440.3,206.13 L440.6,205.3 L440.9,205.95 L441.2,205.3 L441.5,205.74 L441.8,205.42 L442.1,205.35 L442.4,205.39 L442.7,205.85 L443,204.47 L443.3,205.13 L443.6,206.03 L443.9,205.27 L444.2,205.7 L444.5,205.03 L444.8,205.55 L445.1,206.16 L445.4,205.72 L445.7,205.79 L446,205.53 L446.3,205.77 L446.6,204.94 L446.9,205.02 L447.2,205.95 L447.5,204.99 L447.8,206.39 L448.1,206.19 L448.4,205.29 L448.7,204.86 L449,204.77 L449.3,206.01 L449.6,205.84 L449.9,206.51 L450.2,206.13 L450.5,206.63 L450.8,206.72 L451.1,205.1 L451.4,205.89 L451.7,205.61 L452,205.86 L452.3,205.78 L452.6,205.92 L452.9,206.65 L453.2,205.81 L453.5,205.53 L453.8,205.8 L454.1,205.88 L454.4,205.85 L454.7,206.05 L455,205.95 L455.3,206.66 L455.6,206.58 L455.9,205.84 L456.2,206.64 L456.5,206.84 L456.8,206.23 L457.1,205.47 L457.4,206.45 L457.7,206.23 L458,206.43 L458.3,205.82 L458.6,207.25 L458.9,206.23 L459.2,206.57 L459.5,205.81 L459.8,206.43 L460.1,205.34 L460.4,205.8 L460.7,205.29 L461,206.86 L461.3,205.8 L461.6,205.74 L461.9,206.96 L462.2,206.25 L462.5,206.41" fill="none" stroke="#6554aa" stroke-width="1.45" stroke-linejoin="round"/>
<path d="M62.6,226.62 L62.9,227.35 L63.2,226.74 L63.5,228.18 L63.8,228.63 L64.1,228.69 L64.4,226.92 L64.7,232.98 L65,225.51 L65.3,227.14 L65.6,230.15 L65.9,228.89 L66.2,228.83 L66.5,229.64 L66.8,226.86 L67.1,227.65 L67.4,229.4 L67.7,230.23 L68,225.25 L68.3,226.55 L68.6,227.45 L68.9,228.98 L69.2,225.31 L69.5,229.02 L69.8,226.23 L70.1,228.67 L70.4,227.81 L70.7,229.9 L71,225.59 L71.3,228.31 L71.6,226.82 L71.9,226.1 L72.2,228.9 L72.5,225.61 L72.8,228.51 L73.1,225.46 L73.4,225.18 L73.7,228.37 L74,230.85 L74.3,227.94 L74.6,225.5 L74.9,227.67 L75.2,226.55 L75.5,225.91 L75.8,227.39 L76.1,227.91 L76.4,229.79 L76.7,225.19 L77,229.71 L77.3,226.38 L77.6,224.12 L77.9,225.39 L78.2,227.01 L78.5,223.86 L78.8,227.08 L79.1,223.62 L79.4,228.42 L79.7,226.93 L80,226.15 L80.3,228.23 L80.6,224.9 L80.9,226.19 L81.2,227.41 L81.5,226.99 L81.8,226.38 L82.1,227.71 L82.4,225.26 L82.7,226.05 L83,224.51 L83.3,225.81 L83.6,223.86 L83.9,223.76 L84.2,225.58 L84.5,223.84 L84.8,228.05 L85.1,227.06 L85.4,227.25 L85.7,226.51 L86,226.01 L86.3,222.47 L86.6,221.13 L86.9,225.42 L87.2,222.92 L87.5,223.51 L87.8,224.51 L88.1,225.02 L88.4,221.71 L88.7,224.35 L89,225.68 L89.3,224.78 L89.6,226.61 L89.9,223.18 L90.2,226.08 L90.5,227.51 L90.8,224.97 L91.1,225.37 L91.4,225.32 L91.7,219.82 L92,222.25 L92.3,225.22 L92.6,221.12 L92.9,223.72 L93.2,224.06 L93.5,225.21 L93.8,222.75 L94.1,224.38 L94.4,222.79 L94.7,225.43 L95,221.57 L95.3,221.67 L95.6,223.18 L95.9,225.27 L96.2,222.78 L96.5,222.22 L96.8,221.13 L97.1,223.9 L97.4,220.86 L97.7,221.53 L98,220.86 L98.3,223.69 L98.6,220.26 L98.9,220.21 L99.2,221.9 L99.5,221.55 L99.8,218.88 L100.1,219.81 L100.4,220.15 L100.7,221.23 L101,219.65 L101.3,224.36 L101.6,221.39 L101.9,222.9 L102.2,221.33 L102.5,221.1 L102.8,221.86 L103.1,219.95 L103.4,214.23 L103.7,221.12 L104,219.02 L104.3,222.45 L104.6,218.6 L104.9,220.32 L105.2,220.03 L105.5,218.93 L105.8,219.17 L106.1,219.44 L106.4,219.97 L106.7,220.02 L107,219.59 L107.3,219.41 L107.6,215.56 L107.9,221.62 L108.2,221.47 L108.5,216.96 L108.8,216.13 L109.1,215.32 L109.4,213.84 L109.7,218 L110,221.55 L110.3,218.89 L110.6,218.91 L110.9,218.57 L111.2,220.31 L111.5,218.17 L111.8,216.72 L112.1,217.02 L112.4,219.09 L112.7,217.15 L113,214.48 L113.3,218.58 L113.6,217.96 L113.9,219.78 L114.2,217.63 L114.5,217.44 L114.8,217.21 L115.1,214.69 L115.4,217.87 L115.7,216.55 L116,215.72 L116.3,217.35 L116.6,217.75 L116.9,218.89 L117.2,218.89 L117.5,221.55 L117.8,217.45 L118.1,220.29 L118.4,218.1 L118.7,218.39 L119,221.01 L119.3,216.88 L119.6,218.28 L119.9,219.64 L120.2,216.07 L120.5,216.98 L120.8,217.86 L121.1,218.62 L121.4,220.02 L121.7,216.57 L122,221.16 L122.3,220.02 L122.6,219.9 L122.9,215.56 L123.2,219.51 L123.5,217.67 L123.8,220.29 L124.1,218.94 L124.4,218.42 L124.7,217.65 L125,218.46 L125.3,220.5 L125.6,216.66 L125.9,218.26 L126.2,219.21 L126.5,219.41 L126.8,219.07 L127.1,220.32 L127.4,220.26 L127.7,216.69 L128,222.14 L128.3,218.13 L128.6,222.68 L128.9,222.16 L129.2,217.99 L129.5,221.32 L129.8,223.6 L130.1,223.79 L130.4,221.88 L130.7,220.4 L131,223.92 L131.3,219.45 L131.6,219.62 L131.9,223.63 L132.2,220.39 L132.5,223.55 L132.8,220.94 L133.1,220.76 L133.4,225.05 L133.7,223.11 L134,224.49 L134.3,223.24 L134.6,222.95 L134.9,222.71 L135.2,222.49 L135.5,225.58 L135.8,225.17 L136.1,227.41 L136.4,225.24 L136.7,224.49 L137,225.97 L137.3,227.76 L137.6,223.04 L137.9,228.52 L138.2,224.49 L138.5,224.7 L138.8,230.65 L139.1,228.33 L139.4,225.75 L139.7,228.35 L140,229.41 L140.3,228.49 L140.6,229.41 L140.9,228.4 L141.2,228.91 L141.5,226.34 L141.8,226.79 L142.1,229.14 L142.4,226.8 L142.7,230.51 L143,229.51 L143.3,231.95 L143.6,231.75 L143.9,229.84 L144.2,226.26 L144.5,228.68 L144.8,231.44 L145.1,235.23 L145.4,232.09 L145.7,233.36 L146,232.6 L146.3,228.45 L146.6,234.32 L146.9,233.17 L147.2,231.34 L147.5,235.38 L147.8,234.41 L148.1,239.8 L148.4,231.29 L148.7,233.99 L149,235.71 L149.3,235.25 L149.6,237.27 L149.9,237.93 L150.2,237.48 L150.5,237.03 L150.8,234.8 L151.1,237.71 L151.4,239.16 L151.7,238.09 L152,234.55 L152.3,241.22 L152.6,237.74 L152.9,240.31 L153.2,238.2 L153.5,241.11 L153.8,238.94 L154.1,242.26 L154.4,242.17 L154.7,239.07 L155,235.42 L155.3,241.19 L155.6,239.14 L155.9,244.38 L156.2,241.89 L156.5,240.83 L156.8,240.06 L157.1,240.44 L157.4,247.09 L157.7,243.94 L158,242.14 L158.3,243.27 L158.6,244.49 L158.9,242.82 L159.2,240.27 L159.5,246.37 L159.8,243.2 L160.1,242.92 L160.4,244.21 L160.7,242.74 L161,242.72 L161.3,245.15 L161.6,243.76 L161.9,245.89 L162.2,246.05 L162.5,248.92 L162.8,245.29 L163.1,246.08 L163.4,245.19 L163.7,248.32 L164,247.3 L164.3,247.29 L164.6,253.27 L164.9,247.47 L165.2,247.6 L165.5,245.06 L165.8,244.47 L166.1,246.72 L166.4,247.91 L166.7,246.02 L167,246.39 L167.3,249.44 L167.6,246.39 L167.9,247.43 L168.2,247.97 L168.5,246.82 L168.8,251.78 L169.1,251.38 L169.4,250.85 L169.7,251.82 L170,245.98 L170.3,251.01 L170.6,249.19 L170.9,252.08 L171.2,248.77 L171.5,251.39 L171.8,256.25 L172.1,251.32 L172.4,250.64 L172.7,250.27 L173,251.58 L173.3,250.49 L173.6,248.96 L173.9,252.14 L174.2,254.04 L174.5,252.02 L174.8,253.31 L175.1,253.68 L175.4,251.8 L175.7,251.74 L176,250.61 L176.3,252.5 L176.6,253.08 L176.9,250.75 L177.2,251.97 L177.5,254.38 L177.8,251.57 L178.1,254.08 L178.4,253.57 L178.7,252.52 L179,254.68 L179.3,254.32 L179.6,253.28 L179.9,253.66 L180.2,254.27 L180.5,254.56 L180.8,254.56 L181.1,255.14 L181.4,253.19 L181.7,256.65 L182,254.09 L182.3,253.9 L182.6,256.7 L182.9,256.29 L183.2,251.54 L183.5,254.93 L183.8,256.22 L184.1,255.94 L184.4,252.28 L184.7,254.03 L185,254.01 L185.3,256.5 L185.6,257.01 L185.9,256.24 L186.2,255.74 L186.5,254.44 L186.8,257.73 L187.1,252.26 L187.4,257.01 L187.7,257.2 L188,256.78 L188.3,256.33 L188.6,256.65 L188.9,257.62 L189.2,255.43 L189.5,259.24 L189.8,256.69 L190.1,256.91 L190.4,252.28 L190.7,254.6 L191,256.53 L191.3,254.83 L191.6,258.56 L191.9,252.11 L192.2,259.16 L192.5,258.52 L192.8,257.57 L193.1,256.41 L193.4,253.43 L193.7,255.26 L194,256.14 L194.3,257.38 L194.6,258.58 L194.9,258.69 L195.2,261.29 L195.5,259.3 L195.8,256.42 L196.1,256.73 L196.4,259.5 L196.7,256.35 L197,259.49 L197.3,257.89 L197.6,255.5 L197.9,258.64 L198.2,258.31 L198.5,255.34 L198.8,253.95 L199.1,258.54 L199.4,258.86 L199.7,259.56 L200,258.92 L200.3,257.05 L200.6,255.48 L200.9,258.16 L201.2,260.09 L201.5,258.35 L201.8,256.51 L202.1,255.81 L202.4,254.26 L202.7,259.13 L203,259.65 L203.3,255.27 L203.6,257.99 L203.9,261.5 L204.2,255.54 L204.5,261.75 L204.8,261.25 L205.1,260.8 L205.4,260.23 L205.7,260.29 L206,260.55 L206.3,265.22 L206.6,257.63 L206.9,256.52 L207.2,256.15 L207.5,259.89 L207.8,261.23 L208.1,258.24 L208.4,260.15 L208.7,259.75 L209,263.43 L209.3,260.54 L209.6,259.96 L209.9,258.05 L210.2,258.47 L210.5,260.57 L210.8,259.27 L211.1,261.16 L211.4,257.79 L211.7,260.41 L212,258.4 L212.3,259.36 L212.6,255.66 L212.9,259.66 L213.2,255.47 L213.5,260.35 L213.8,259.71 L214.1,256.13 L214.4,260.57 L214.7,260.54 L215,260.84 L215.3,259.88 L215.6,257.07 L215.9,262.62 L216.2,255.36 L216.5,256.8 L216.8,257.8 L217.1,254.38 L217.4,259.01 L217.7,257.89 L218,256.48 L218.3,252.93 L218.6,254.29 L218.9,257.61 L219.2,257.19 L219.5,254.4 L219.8,253.57 L220.1,255.63 L220.4,253.43 L220.7,252.43 L221,257.39 L221.3,254.69 L221.6,255.02 L221.9,253.69 L222.2,255.43 L222.5,255.14 L222.8,252.92 L223.1,252.14 L223.4,251.87 L223.7,253.75 L224,252.14 L224.3,249.59 L224.6,253.56 L224.9,251.06 L225.2,251.57 L225.5,252.83 L225.8,250.94 L226.1,251.12 L226.4,249.23 L226.7,250.02 L227,250.17 L227.3,248.97 L227.6,247.82 L227.9,247.38 L228.2,246.95 L228.5,247.6 L228.8,246.19 L229.1,247.82 L229.4,246.05 L229.7,248.51 L230,247.08 L230.3,245.88 L230.6,247.82 L230.9,245.42 L231.2,252.47 L231.5,246.47 L231.8,247.5 L232.1,250.46 L232.4,246.58 L232.7,247.05 L233,247.21 L233.3,251.07 L233.6,247.68 L233.9,255.83 L234.2,251.63 L234.5,250.82 L234.8,253.61 L235.1,252.24 L235.4,252.26 L235.7,251.04 L236,251.08 L236.3,254.16 L236.6,250.6 L236.9,251.61 L237.2,251.87 L237.5,254.54 L237.8,252.51 L238.1,254.7 L238.4,259.42 L238.7,255.38 L239,258.44 L239.3,255.9 L239.6,253.93 L239.9,254.98 L240.2,253.81 L240.5,257.62 L240.8,257.48 L241.1,256.76 L241.4,255.93 L241.7,255.41 L242,256.16 L242.3,255.49 L242.6,255.77 L242.9,261.4 L243.2,258.84 L243.5,255.69 L243.8,257.59 L244.1,258.24 L244.4,257.7 L244.7,256.73 L245,258.57 L245.3,258.28 L245.6,258.96 L245.9,260.12 L246.2,257.39 L246.5,258.71 L246.8,256.74 L247.1,257.07 L247.4,257.67 L247.7,258.99 L248,257.74 L248.3,257.13 L248.6,257.57 L248.9,259.09 L249.2,261.29 L249.5,261.11 L249.8,256.34 L250.1,258.51 L250.4,260.05 L250.7,258.42 L251,258.9 L251.3,257.62 L251.6,259.5 L251.9,259.04 L252.2,256.34 L252.5,260.22 L252.8,261.13 L253.1,260.24 L253.4,257.56 L253.7,260.36 L254,262.13 L254.3,261.49 L254.6,261.69 L254.9,261.3 L255.2,259.48 L255.5,261.52 L255.8,261.1 L256.1,260.2 L256.4,260.64 L256.7,258.46 L257,260.77 L257.3,259.61 L257.6,260.19 L257.9,263.38 L258.2,261.31 L258.5,261.2 L258.8,259.7 L259.1,258.33 L259.4,258.85 L259.7,260.36 L260,260.57 L260.3,257.97 L260.6,259.88 L260.9,261.03 L261.2,259.69 L261.5,260.44 L261.8,261.29 L262.1,263.15 L262.4,261.69 L262.7,263.69 L263,258.85 L263.3,263.33 L263.6,260.89 L263.9,262.86 L264.2,264.54 L264.5,262.82 L264.8,261.95 L265.1,263.92 L265.4,260.46 L265.7,263.02 L266,261.94 L266.3,261.95 L266.6,260.31 L266.9,262.42 L267.2,261.96 L267.5,261.28 L267.8,261.94 L268.1,259.08 L268.4,263 L268.7,260.58 L269,261.89 L269.3,260.45 L269.6,260.95 L269.9,260.48 L270.2,263.7 L270.5,260.27 L270.8,260.47 L271.1,261.5 L271.4,257.79 L271.7,260.28 L272,262.45 L272.3,262.7 L272.6,263.59 L272.9,263.2 L273.2,261.13 L273.5,260.96 L273.8,264.55 L274.1,259.28 L274.4,263.31 L274.7,264.3 L275,265.23 L275.3,265.64 L275.6,265.25 L275.9,266.75 L276.2,260.62 L276.5,263.24 L276.8,264.4 L277.1,260.13 L277.4,262.74 L277.7,266.07 L278,263.09 L278.3,265.97 L278.6,265.45 L278.9,266.46 L279.2,265.96 L279.5,265.57 L279.8,265.89 L280.1,263.38 L280.4,267.74 L280.7,264.63 L281,263.76 L281.3,265.96 L281.6,260.62 L281.9,268.85 L282.2,269.44 L282.5,267.55 L282.8,262.55 L283.1,266.49 L283.4,266.29 L283.7,265.02 L284,265.5 L284.3,266.83 L284.6,265.32 L284.9,266.19 L285.2,266.4 L285.5,264.29 L285.8,265.94 L286.1,265.87 L286.4,269.39 L286.7,266.98 L287,267.53 L287.3,267.3 L287.6,266.97 L287.9,267.2 L288.2,266.94 L288.5,263.67 L288.8,267.34 L289.1,266.3 L289.4,266.92 L289.7,265.88 L290,266.02 L290.3,267.78 L290.6,266.92 L290.9,267.85 L291.2,268.22 L291.5,267.88 L291.8,268.15 L292.1,267.03 L292.4,267.72 L292.7,270.4 L293,267.92 L293.3,270.39 L293.6,268.45 L293.9,270.12 L294.2,266.84 L294.5,269 L294.8,270.01 L295.1,267.36 L295.4,269.34 L295.7,269.34 L296,268.62 L296.3,270.44 L296.6,269.52 L296.9,268.6 L297.2,271.99 L297.5,269.74 L297.8,273.9 L298.1,266.59 L298.4,269.94 L298.7,269.26 L299,269.38 L299.3,266.07 L299.6,269.63 L299.9,268.58 L300.2,270.77 L300.5,267.79 L300.8,272.52 L301.1,269.63 L301.4,268.93 L301.7,270.32 L302,267.4 L302.3,268.13 L302.6,270.89 L302.9,269.43 L303.2,270.12 L303.5,266.24 L303.8,267.75 L304.1,267.21 L304.4,272.86 L304.7,269.84 L305,272.28 L305.3,269.7 L305.6,271.93 L305.9,269.29 L306.2,269.44 L306.5,270 L306.8,270.41 L307.1,266.91 L307.4,270.13 L307.7,268.73 L308,269.19 L308.3,269.88 L308.6,269.7 L308.9,270.29 L309.2,273.88 L309.5,272.31 L309.8,273.4 L310.1,269.39 L310.4,270.34 L310.7,270.05 L311,269.83 L311.3,271.63 L311.6,271.89 L311.9,270.5 L312.2,270.96 L312.5,272.82 L312.8,270.54 L313.1,272.65 L313.4,270.85 L313.7,271.66 L314,274 L314.3,270.03 L314.6,271.57 L314.9,273.1 L315.2,271.55 L315.5,273.28 L315.8,279.72 L316.1,273.5 L316.4,271.06 L316.7,268.6 L317,271.55 L317.3,270.31 L317.6,269.97 L317.9,272.5 L318.2,272.4 L318.5,268.57 L318.8,270.47 L319.1,269.64 L319.4,272.49 L319.7,272.83 L320,273.02 L320.3,271.42 L320.6,272.37 L320.9,272.69 L321.2,271.47 L321.5,273.05 L321.8,268.58 L322.1,273.32 L322.4,269.4 L322.7,271.06 L323,272.1 L323.3,271.94 L323.6,269.42 L323.9,271.81 L324.2,268.09 L324.5,271.39 L324.8,271.02 L325.1,274.34 L325.4,271.34 L325.7,270.63 L326,270.71 L326.3,270.49 L326.6,271.92 L326.9,272.32 L327.2,274.71 L327.5,269.87 L327.8,274.01 L328.1,269.73 L328.4,271.62 L328.7,274.02 L329,274.21 L329.3,273.64 L329.6,271.29 L329.9,273.88 L330.2,274.84 L330.5,270.03 L330.8,271.46 L331.1,272.56 L331.4,272.86 L331.7,273.01 L332,272.17 L332.3,271.44 L332.6,273.45 L332.9,271.38 L333.2,272.35 L333.5,274.27 L333.8,273.45 L334.1,274.19 L334.4,274.29 L334.7,273.96 L335,275.36 L335.3,270.62 L335.6,273.23 L335.9,273.69 L336.2,272.56 L336.5,272.96 L336.8,273.62 L337.1,272.45 L337.4,276.45 L337.7,279.86 L338,272.3 L338.3,274.86 L338.6,274.56 L338.9,273.56 L339.2,272.88 L339.5,274.07 L339.8,273.49 L340.1,271.59 L340.4,274.73 L340.7,273.56 L341,275.15 L341.3,269.1 L341.6,272 L341.9,268.11 L342.2,272.63 L342.5,271.4 L342.8,274.29 L343.1,275.02 L343.4,273.51 L343.7,274.87 L344,272.19 L344.3,271.3 L344.6,275.68 L344.9,276.8 L345.2,274.62 L345.5,272.85 L345.8,275.13 L346.1,274.46 L346.4,277.83 L346.7,269 L347,271.42 L347.3,274.89 L347.6,274.72 L347.9,274.03 L348.2,273.19 L348.5,272.4 L348.8,276.26 L349.1,275.43 L349.4,274.1 L349.7,275.01 L350,276.4 L350.3,271.89 L350.6,271.64 L350.9,273.38 L351.2,270.2 L351.5,275.06 L351.8,274.79 L352.1,274.83 L352.4,273.23 L352.7,272.64 L353,274.33 L353.3,270.14 L353.6,271.06 L353.9,271.94 L354.2,271.32 L354.5,273.74 L354.8,271.73 L355.1,274.78 L355.4,273.49 L355.7,270.9 L356,269.54 L356.3,276.81 L356.6,274.2 L356.9,274.42 L357.2,272.87 L357.5,272.06 L357.8,275.96 L358.1,271.74 L358.4,273.03 L358.7,273.74 L359,272.27 L359.3,271.91 L359.6,272.86 L359.9,272.94 L360.2,276.39 L360.5,273.95 L360.8,275.48 L361.1,272.35 L361.4,272.91 L361.7,271.7 L362,271.21 L362.3,273.9 L362.6,271.5 L362.9,269.92 L363.2,273.93 L363.5,274.45 L363.8,271.25 L364.1,274.24 L364.4,276.02 L364.7,276.48 L365,275.59 L365.3,273.56 L365.6,276.25 L365.9,273.64 L366.2,273.63 L366.5,275.8 L366.8,274.82 L367.1,275.06 L367.4,272.84 L367.7,273.81 L368,274.83 L368.3,275.2 L368.6,275.28 L368.9,271.36 L369.2,278.18 L369.5,275.77 L369.8,273.05 L370.1,276.46 L370.4,274.28 L370.7,273.87 L371,277.32 L371.3,272.69 L371.6,272.89 L371.9,273.15 L372.2,273.66 L372.5,280.16 L372.8,273.93 L373.1,273.01 L373.4,275.03 L373.7,277.34 L374,276.92 L374.3,273.35 L374.6,278.15 L374.9,275.52 L375.2,273.41 L375.5,273.58 L375.8,275.73 L376.1,274.96 L376.4,274.23 L376.7,275.23 L377,278.96 L377.3,277.47 L377.6,274.19 L377.9,273.84 L378.2,276.76 L378.5,273.28 L378.8,271.96 L379.1,273.46 L379.4,272.85 L379.7,272.58 L380,274.7 L380.3,273.75 L380.6,274.53 L380.9,275.73 L381.2,274.23 L381.5,272.66 L381.8,273.56 L382.1,276.6 L382.4,273.32 L382.7,273.23 L383,275.88 L383.3,273.58 L383.6,273.58 L383.9,275.61 L384.2,274.96 L384.5,274.24 L384.8,274.49 L385.1,277.02 L385.4,275.76 L385.7,274.01 L386,273.75 L386.3,277.9 L386.6,274.82 L386.9,275.8 L387.2,275.73 L387.5,274.35 L387.8,275.5 L388.1,273.61 L388.4,274.77 L388.7,277.2 L389,274.95 L389.3,277.84 L389.6,275.58 L389.9,276.11 L390.2,275.45 L390.5,273.74 L390.8,277.06 L391.1,277.65 L391.4,275.76 L391.7,275.26 L392,274.83 L392.3,276.09 L392.6,277.07 L392.9,278.37 L393.2,275.7 L393.5,275.29 L393.8,275.49 L394.1,274.98 L394.4,273.43 L394.7,278.68 L395,273.86 L395.3,273.63 L395.6,277.66 L395.9,276.08 L396.2,276.16 L396.5,274.34 L396.8,275.21 L397.1,276.56 L397.4,279.94 L397.7,277.1 L398,275.47 L398.3,276.37 L398.6,275.32 L398.9,273.91 L399.2,272.2 L399.5,276.08 L399.8,272.76 L400.1,277.25 L400.4,274.31 L400.7,274.41 L401,273.15 L401.3,273.34 L401.6,274.03 L401.9,275.64 L402.2,274.28 L402.5,274.82 L402.8,274.15 L403.1,275.92 L403.4,275.71 L403.7,275.82 L404,273.27 L404.3,273.64 L404.6,272.75 L404.9,276.15 L405.2,270.46 L405.5,277.5 L405.8,274.39 L406.1,273.78 L406.4,275.17 L406.7,274.39 L407,274.21 L407.3,275.46 L407.6,275.79 L407.9,273.89 L408.2,280.11 L408.5,272.51 L408.8,276.18 L409.1,275.49 L409.4,272.95 L409.7,277.51 L410,276.9 L410.3,271.98 L410.6,275.65 L410.9,274.46 L411.2,275 L411.5,271.76 L411.8,275.63 L412.1,276.57 L412.4,275.05 L412.7,273.4 L413,273.97 L413.3,275.09 L413.6,274.19 L413.9,272.21 L414.2,270.43 L414.5,271.99 L414.8,274.58 L415.1,277.64 L415.4,278.95 L415.7,274.14 L416,274.2 L416.3,276.15 L416.6,275.74 L416.9,276.75 L417.2,275.39 L417.5,274 L417.8,275.71 L418.1,277.73 L418.4,275.25 L418.7,278.34 L419,273.39 L419.3,274.41 L419.6,275.37 L419.9,274.84 L420.2,276.63 L420.5,275.66 L420.8,276.29 L421.1,277.77 L421.4,271.19 L421.7,274.83 L422,278.75 L422.3,274.84 L422.6,273.64 L422.9,274.07 L423.2,273.58 L423.5,275.01 L423.8,276.05 L424.1,276.22 L424.4,276.97 L424.7,275.15 L425,277.13 L425.3,277.67 L425.6,273.43 L425.9,274.15 L426.2,276.65 L426.5,273.89 L426.8,277.74 L427.1,274.92 L427.4,274.89 L427.7,276.23 L428,279.97 L428.3,274.13 L428.6,275.85 L428.9,274.82 L429.2,277.09 L429.5,275.89 L429.8,276.06 L430.1,276.97 L430.4,275.81 L430.7,276.29 L431,277.14 L431.3,276.23 L431.6,275.88 L431.9,274.85 L432.2,277.07 L432.5,276.6 L432.8,276.17 L433.1,275.36 L433.4,275.63 L433.7,273.12 L434,279.49 L434.3,277.58 L434.6,279.94 L434.9,273.64 L435.2,271.11 L435.5,277.09 L435.8,276.3 L436.1,275.84 L436.4,275.62 L436.7,276.23 L437,272.31 L437.3,280.85 L437.6,276.16 L437.9,276.39 L438.2,278.37 L438.5,276.49 L438.8,277.36 L439.1,278.03 L439.4,278.16 L439.7,277.78 L440,278.76 L440.3,278.81 L440.6,277.18 L440.9,277.91 L441.2,276.12 L441.5,278.4 L441.8,274.85 L442.1,272.42 L442.4,275.78 L442.7,277.95 L443,276.13 L443.3,276.58 L443.6,279.27 L443.9,279.95 L444.2,280.89 L444.5,279.1 L444.8,278.38 L445.1,278.15 L445.4,275.46 L445.7,277.56 L446,277.13 L446.3,279.11 L446.6,278.25 L446.9,275.77 L447.2,276.85 L447.5,278.28 L447.8,277.67 L448.1,276.34 L448.4,278.83 L448.7,274.2 L449,279.44 L449.3,275.93 L449.6,274.87 L449.9,276.8 L450.2,279.28 L450.5,272.1 L450.8,277.06 L451.1,277.35 L451.4,276.6 L451.7,276.66 L452,277.16 L452.3,277.71 L452.6,279.84 L452.9,272.74 L453.2,278.26 L453.5,278.89 L453.8,274.43 L454.1,278.47 L454.4,279.04 L454.7,276.73 L455,277.85 L455.3,276.42 L455.6,275.33 L455.9,276.51 L456.2,276.28 L456.5,279.02 L456.8,276.37 L457.1,278.58 L457.4,278.97 L457.7,279.48 L458,277.63 L458.3,278.34 L458.6,276.15 L458.9,274.06 L459.2,280.19 L459.5,279.31 L459.8,275.78 L460.1,276.04 L460.4,280.4 L460.7,278.01 L461,279.5 L461.3,280.05 L461.6,277.27 L461.9,280.65 L462.2,275.55 L462.5,277.46" fill="none" stroke="#e8421f" stroke-width="1.5" stroke-linejoin="round"/>
<line x1="124" y1="110.5" x2="124" y2="333" stroke="#000" stroke-width="2.1" stroke-dasharray="10,9.5"/>
<line x1="232" y1="303.5" x2="232" y2="333" stroke="#7314e0" stroke-width="2.4"/>
<line x1="265" y1="320" x2="265" y2="333" stroke="#7314e0" stroke-width="2.4"/>
<line x1="417.4" y1="326.6" x2="417.4" y2="333" stroke="#7314e0" stroke-width="2.4"/>
<rect x="62" y="36" width="401" height="298" fill="none" stroke="#000" stroke-width="2.2"/>
<line x1="62" y1="334" x2="62" y2="336.5" stroke="#000" stroke-width="2"/>
<line x1="95.4" y1="334" x2="95.4" y2="339" stroke="#000" stroke-width="2"/>
<line x1="128.8" y1="334" x2="128.8" y2="336.5" stroke="#000" stroke-width="2"/>
<line x1="162.2" y1="334" x2="162.2" y2="339" stroke="#000" stroke-width="2"/>
<line x1="195.6" y1="334" x2="195.6" y2="336.5" stroke="#000" stroke-width="2"/>
<line x1="229" y1="334" x2="229" y2="339" stroke="#000" stroke-width="2"/>
<line x1="262.4" y1="334" x2="262.4" y2="336.5" stroke="#000" stroke-width="2"/>
<line x1="295.8" y1="334" x2="295.8" y2="339" stroke="#000" stroke-width="2"/>
<line x1="329.2" y1="334" x2="329.2" y2="336.5" stroke="#000" stroke-width="2"/>
<line x1="362.6" y1="334" x2="362.6" y2="339" stroke="#000" stroke-width="2"/>
<line x1="396" y1="334" x2="396" y2="336.5" stroke="#000" stroke-width="2"/>
<line x1="429.4" y1="334" x2="429.4" y2="339" stroke="#000" stroke-width="2"/>
<line x1="462.8" y1="334" x2="462.8" y2="336.5" stroke="#000" stroke-width="2"/>
<line x1="329.7" y1="47.2" x2="362.5" y2="47.2" stroke="#6394d0" stroke-width="1.1"/>
<line x1="329.7" y1="70.6" x2="362.5" y2="70.6" stroke="#6554aa" stroke-width="1.1"/>
<line x1="329.7" y1="94" x2="362.5" y2="94" stroke="#e8421f" stroke-width="1.1"/>
<path d="M557.3,117.58 L557.8,117.24 L558.3,117.28 L558.8,116.35 L559.3,118.24 L559.8,117.93 L560.3,117.26 L560.8,117.74 L561.3,117.5 L561.8,117.11 L562.3,117.78 L562.8,117.19 L563.3,117.17 L563.8,116.94 L564.3,117.49 L564.8,117.23 L565.3,117.5 L565.8,116.97 L566.3,117.29 L566.8,116.81 L567.3,117.58 L567.8,117.27 L568.3,117.32 L568.8,117.34 L569.3,116.69 L569.8,117.48 L570.3,118.04 L570.8,116.37 L571.3,116.31 L571.8,116.4 L572.3,117.44 L572.8,117.11 L573.3,117.52 L573.8,117.35 L574.3,117.1 L574.8,117.12 L575.3,116.91 L575.8,117.36 L576.3,116.45 L576.8,116.75 L577.3,117.04 L577.8,117.73 L578.3,116.56 L578.8,116.41 L579.3,116.63 L579.8,117.3 L580.3,116.75 L580.8,117.44 L581.3,115.99 L581.8,117.32 L582.3,117.27 L582.8,116.15 L583.3,116.85 L583.8,117.31 L584.3,116.79 L584.8,117.19 L585.3,117.8 L585.8,116.84 L586.3,116.58 L586.8,116.34 L587.3,116.97 L587.8,116.58 L588.3,116.57 L588.8,116.6 L589.3,116.92 L589.8,116.14 L590.3,115.92 L590.8,115.5 L591.3,117.12 L591.8,116.61 L592.3,117.24 L592.8,116.54 L593.3,116.2 L593.8,116.74 L594.3,116.48 L594.8,115.94 L595.3,116.09 L595.8,117.28 L596.3,116.63 L596.8,116.65 L597.3,116.32 L597.8,116.13 L598.3,116.83 L598.8,116.37 L599.3,116.06 L599.8,116.33 L600.3,115.97 L600.8,116.46 L601.3,116.87 L601.8,115.97 L602.3,116.98 L602.8,116.03 L603.3,116.39 L603.8,115.93 L604.3,116.2 L604.8,116.31 L605.3,116.08 L605.8,115.95 L606.3,115.95 L606.8,115.88 L607.3,115.53 L607.8,116.11 L608.3,116.4 L608.8,116.62 L609.3,116.49 L609.8,117.29 L610.3,116.32 L610.8,115.96 L611.3,117 L611.8,115.68 L612.3,116.58 L612.8,115.7 L613.3,116.28 L613.8,115.23 L614.3,116.51 L614.8,116.02 L615.3,115.65 L615.8,116.83 L616.3,116.41 L616.8,116.08 L617.3,115.72 L617.8,116.02 L618.3,115.96 L618.8,116.35 L619.3,116.38 L619.8,115.71 L620.3,115.76 L620.8,115.76 L621.3,115.39 L621.8,115.72 L622.3,115.94 L622.8,116.29 L623.3,116.56 L623.8,115.6 L624.3,116.21 L624.8,115.75 L625.3,116.88 L625.8,115.92 L626.3,116.16 L626.8,115.51 L627.3,115.56 L627.8,116.01 L628.3,115.74 L628.8,116.07 L629.3,115.2 L629.8,116.2 L630.3,115.49 L630.8,116.66 L631.3,115.75 L631.8,116.37 L632.3,115.25 L632.8,116.06 L633.3,115.46 L633.8,115.64 L634.3,115.86 L634.8,115.7 L635.3,115.96 L635.8,116.17 L636.3,116.12 L636.8,115.79 L637.3,115.21 L637.8,115.45 L638.3,115.72 L638.8,114.85 L639.3,116.13 L639.8,115.68 L640.3,115.67 L640.8,116.2 L641.3,116.07 L641.8,115.86 L642.3,115.3 L642.8,115.88 L643.3,115.89 L643.8,115.33 L644.3,116.19 L644.8,115.94 L645.3,114.82 L645.8,115.75 L646.3,115.11 L646.8,116.19 L647.3,116.03 L647.8,115.16 L648.3,115.25 L648.8,115.68 L649.3,115.51 L649.8,116.3 L650.3,115.93 L650.8,115.46 L651.3,115.83 L651.8,114.65 L652.3,115.69 L652.8,115.92 L653.3,115.44 L653.8,115.19 L654.3,115.75 L654.8,116.35 L655.3,115.54 L655.8,114.92 L656.3,116.05 L656.8,114.52 L657.3,115.56 L657.8,115.03 L658.3,115.67 L658.8,114.83 L659.3,115.76 L659.8,115.26 L660.3,114.29 L660.8,114.13 L661.3,114.82 L661.8,115.49 L662.3,114.91 L662.8,114.82 L663.3,114.62 L663.8,115 L664.3,114.77 L664.8,114.66 L665.3,114.03 L665.8,114.93 L666.3,114.94 L666.8,113.67 L667.3,115.22 L667.8,114.44 L668.3,113.82 L668.8,113.11 L669.3,114.18 L669.8,114.06 L670.3,113.47 L670.8,112.85 L671.3,114.09 L671.8,113.24 L672.3,113.22 L672.8,114.63 L673.3,114.23 L673.8,113.63 L674.3,112.92 L674.8,113.33 L675.3,111.93 L675.8,112.91 L676.3,112.43 L676.8,112.09 L677.3,111.86 L677.8,112.71 L678.3,112.4 L678.8,112.33 L679.3,112.53 L679.8,111.66 L680.3,111.37 L680.8,111.01 L681.3,111.55 L681.8,111.92 L682.3,111.4 L682.8,111.64 L683.3,110.7 L683.8,110.91 L684.3,110.66 L684.8,110.33 L685.3,111.62 L685.8,111.05 L686.3,110.22 L686.8,110.11 L687.3,110.32 L687.8,109.59 L688.3,110.34 L688.8,109.46 L689.3,109.79 L689.8,109.41 L690.3,109.57 L690.8,109.1 L691.3,108.91 L691.8,109.11 L692.3,109.16 L692.8,109.25 L693.3,109.33 L693.8,109.9 L694.3,109.5 L694.8,108.93 L695.3,109.27 L695.8,108.53 L696.3,109.39 L696.8,108.87 L697.3,107.89 L697.8,108.71 L698.3,108.6 L698.8,106.88 L699.3,107.57 L699.8,107.48 L700.3,106.57 L700.8,106.67 L701.3,106.41 L701.8,106.73 L702.3,106.28 L702.8,106.95 L703.3,105.2 L703.8,105.5 L704.3,104.61 L704.8,104.29 L705.3,103.23 L705.8,102.49 L706.3,102.61 L706.8,102.91 L707.3,102.91 L707.8,102.12 L708.3,101.75 L708.8,100.84 L709.3,101.63 L709.8,101.27 L710.3,100.16 L710.8,100.12 L711.3,99.45 L711.8,100.32 L712.3,99.6 L712.8,99.15 L713.3,99.15 L713.8,98.94 L714.3,98.33 L714.8,97.73 L715.3,97.49 L715.8,97.06 L716.3,97.82 L716.8,98.38 L717.3,96.38 L717.8,96.97 L718.3,96.84 L718.8,95.96 L719.3,96.23 L719.8,95.37 L720.3,96.12 L720.8,95.01 L721.3,95.01 L721.8,94.95 L722.3,94.1 L722.8,93.12 L723.3,93.3 L723.8,93.49 L724.3,92.7 L724.8,92.42 L725.3,91.41 L725.8,91.53 L726.3,91.36 L726.8,90.62 L727.3,91.03 L727.8,89.65 L728.3,88.85 L728.8,88.16 L729.3,88.97 L729.8,87.99 L730.3,88.03 L730.8,87.34 L731.3,87.42 L731.8,86.8 L732.3,85.61 L732.8,85.44 L733.3,85.33 L733.8,83.81 L734.3,84.53 L734.8,83.93 L735.3,83.32 L735.8,82.28 L736.3,81.98 L736.8,80.78 L737.3,80.68 L737.8,79.71 L738.3,79.32 L738.8,78.34 L739.3,77.98 L739.8,77.7 L740.3,75.92 L740.8,76.31 L741.3,74.46 L741.8,73.92 L742.3,74.46 L742.8,74.24 L743.3,74.17 L743.8,72.97 L744.3,73.44 L744.8,73.3 L745.3,73.61 L745.8,72.83 L746.3,72.98 L746.8,72.21 L747.3,72.52 L747.8,72.4 L748.3,72.95 L748.8,72.23 L749.3,72.37 L749.8,73.09 L750.3,73.74 L750.8,73.22 L751.3,73.32 L751.8,73.17 L752.3,73.98 L752.8,73.9 L753.3,74.61 L753.8,74.17 L754.3,73.86 L754.8,74.41 L755.3,74.71 L755.8,75.15 L756.3,76.91 L756.8,77.38 L757.3,77.17 L757.8,79.24 L758.3,79.25 L758.8,79.39 L759.3,80.64 L759.8,81.01 L760.3,81.21 L760.8,81.2 L761.3,82.62 L761.8,83.27 L762.3,82.5 L762.8,84.42 L763.3,84.94 L763.8,84.92 L764.3,85.63 L764.8,85.85 L765.3,85.97 L765.8,86.5 L766.3,87.53 L766.8,86.51 L767.3,87.5 L767.8,87.7 L768.3,87.52 L768.8,87.85 L769.3,87.62 L769.8,88.06 L770.3,88.64 L770.8,88.96 L771.3,88.57 L771.8,90.51 L772.3,89.02 L772.8,89.47 L773.3,89.44 L773.8,89.47 L774.3,90.34 L774.8,89.62 L775.3,90.51 L775.8,90.48 L776.3,89.53 L776.8,90.5 L777.3,89.78 L777.8,91.34 L778.3,89.96 L778.8,89.74 L779.3,89.33 L779.8,89.64 L780.3,89.98 L780.8,89.82 L781.3,89.74 L781.8,90 L782.3,90.24 L782.8,91 L783.3,89.59 L783.8,90.12 L784.3,89.95 L784.8,89.71 L785.3,89.83 L785.8,89.99 L786.3,90.72 L786.8,90.27 L787.3,90.02 L787.8,90.38 L788.3,90.03 L788.8,89.55 L789.3,89.53 L789.8,88.66 L790.3,88.96 L790.8,88.51 L791.3,87.72 L791.8,86.94 L792.3,87.75 L792.8,86.67 L793.3,87.46 L793.8,85.16 L794.3,85.12 L794.8,83.75 L795.3,83.2 L795.8,82.55 L796.3,80.85 L796.8,80.16 L797.3,79.24 L797.8,78.13 L798.3,77.06 L798.8,75.82 L799.3,74.21 L799.8,72.38 L800.3,70.56 L800.8,68.72 L801.3,67.54 L801.8,66.23 L802.3,65.25 L802.8,63.21 L803.3,61.3 L803.8,60.75 L804.3,58.92 L804.8,58.05 L805.3,57.79 L805.8,58.04 L806.3,57 L806.8,58.09 L807.3,59.36 L807.8,59.95 L808.3,60.65 L808.8,61.75 L809.3,63.84 L809.8,64.59 L810.3,66.99 L810.8,69.1 L811.3,70.75 L811.8,73.39 L812.3,75.19 L812.8,77.3 L813.3,79.47 L813.8,82.95 L814.3,85 L814.8,87.49 L815.3,89.61 L815.8,93.03 L816.3,94.23 L816.8,95.28 L817.3,96.36 L817.8,97.21 L818.3,99.16 L818.8,100.17 L819.3,100.3 L819.8,102.24 L820.3,102.75 L820.8,102.59 L821.3,103.37 L821.8,103.98 L822.3,104.76 L822.8,105.11 L823.3,104.89 L823.8,106.72 L824.3,106.6 L824.8,107.4 L825.3,107.75 L825.8,107.42 L826.3,107.98 L826.8,108.47 L827.3,108.78 L827.8,108.66 L828.3,108.74 L828.8,109.32 L829.3,109.22 L829.8,109.6 L830.3,109.19 L830.8,110.4 L831.3,110.14 L831.8,110.58 L832.3,111.03 L832.8,111.41 L833.3,112.32 L833.8,111.75 L834.3,111.2 L834.8,112.06 L835.3,111.89 L835.8,112.47 L836.3,112.11 L836.8,112.21 L837.3,112.39 L837.8,112.42 L838.3,111.97 L838.8,112.57 L839.3,112.94 L839.8,113.57 L840.3,112.97 L840.8,113.01 L841.3,113.51 L841.8,113.56 L842.3,114.1 L842.8,113.71 L843.3,113.5 L843.8,114.17 L844.3,114.31 L844.8,113.46 L845.3,113.8 L845.8,113.03 L846.3,113.67 L846.8,113.48 L847.3,113.83 L847.8,113.76 L848.3,113.94 L848.8,114.01 L849.3,114.32 L849.8,114.24 L850.3,113.91 L850.8,113.62 L851.3,114.79 L851.8,114.9 L852.3,114.09 L852.8,114.57 L853.3,113.66 L853.8,113.67 L854.3,114.27 L854.8,115.08 L855.3,113.97 L855.8,114.09 L856.3,115.21 L856.8,113.65 L857.3,114.82 L857.8,114.77 L858.3,114.47 L858.8,114.67 L859.3,115.79 L859.8,114.12 L860.3,114.5 L860.8,114.56 L861.3,114.37 L861.8,114.1 L862.3,115.43 L862.8,114.83 L863.3,113.96 L863.8,114.45 L864.3,114.97 L864.8,114.99 L865.3,114.17 L865.8,114.79 L866.3,114.97 L866.8,115.04 L867.3,115.06 L867.8,114.08 L868.3,115.74 L868.8,115.02 L869.3,115.75 L869.8,116.24 L870.3,114.9 L870.8,114.43 L871.3,115.38 L871.8,114.93 L872.3,114.82 L872.8,114.57 L873.3,115.8 L873.8,114.86 L874.3,114.44 L874.8,114.88 L875.3,114.57 L875.8,115.17 L876.3,114.92 L876.8,114.65 L877.3,115.4 L877.8,114.85 L878.3,115.48 L878.8,115.73 L879.3,115.01 L879.8,114.89 L880.3,115.28 L880.8,115.6 L881.3,115.2 L881.8,115.28 L882.3,115.21 L882.8,115.37 L883.3,115.52 L883.8,114.92 L884.3,115.03 L884.8,115.28 L885.3,114.96 L885.8,115.33 L886.3,115.52 L886.8,115.27 L887.3,115.01 L887.8,114.94 L888.3,116.08 L888.8,115.7 L889.3,114.8 L889.8,114.93 L890.3,116.16 L890.8,116 L891.3,115.38 L891.8,115.85 L892.3,114.67 L892.8,115.34 L893.3,115.68 L893.8,114.51 L894.3,115 L894.8,115.71 L895.3,115.87 L895.8,115.1 L896.3,115.5 L896.8,116.1 L897.3,115.21 L897.8,114.78 L898.3,115.36 L898.8,115.21 L899.3,115.98 L899.8,115.47 L900.3,115.04 L900.8,116.49 L901.3,115.19 L901.8,115.63 L902.3,115.72 L902.8,115.78 L903.3,115.5 L903.8,115.69 L904.3,115.4 L904.8,114.8 L905.3,115.34 L905.8,115.35 L906.3,115.37 L906.8,115.51 L907.3,115.17 L907.8,116.05 L908.3,116.16 L908.8,114.47 L909.3,115.47 L909.8,115.15 L910.3,114.3 L910.8,115.66 L911.3,115.2 L911.8,115.31 L912.3,115.19 L912.8,115.97 L913.3,116.04 L913.8,115.61 L914.3,115.8 L914.8,115.44 L915.3,115.55 L915.8,115.16 L916.3,115.51 L916.8,115.17 L917.3,115.66 L917.8,115.87 L918.3,115.64 L918.8,116.03 L919.3,116.71 L919.8,114.55 L920.3,115.51 L920.8,115.24 L921.3,115.29 L921.8,114.89" fill="none" stroke="#6394d0" stroke-width="2" stroke-linejoin="round"/>
<path d="M557.3,211.62 L557.8,211.48 L558.3,211.31 L558.8,211.48 L559.3,211.33 L559.8,210.54 L560.3,212.08 L560.8,211.46 L561.3,211.17 L561.8,211.73 L562.3,211.29 L562.8,210.61 L563.3,211.98 L563.8,210.83 L564.3,211.48 L564.8,211.63 L565.3,212.18 L565.8,212.11 L566.3,211.64 L566.8,211.22 L567.3,211.37 L567.8,212.05 L568.3,212.36 L568.8,211.79 L569.3,211.25 L569.8,212 L570.3,211.37 L570.8,211.35 L571.3,211.4 L571.8,211.79 L572.3,211.64 L572.8,211.96 L573.3,212.09 L573.8,211.73 L574.3,210.44 L574.8,210.72 L575.3,211.55 L575.8,211.45 L576.3,212.44 L576.8,211.45 L577.3,211.39 L577.8,211.88 L578.3,211.92 L578.8,211.33 L579.3,211.65 L579.8,210.92 L580.3,210.99 L580.8,211.97 L581.3,210.77 L581.8,211.81 L582.3,211.7 L582.8,211.73 L583.3,211.79 L583.8,211.62 L584.3,210.4 L584.8,210.9 L585.3,211.08 L585.8,211.75 L586.3,210.82 L586.8,211.01 L587.3,211.15 L587.8,211.9 L588.3,210.65 L588.8,210.68 L589.3,211.57 L589.8,210.32 L590.3,211.42 L590.8,211.06 L591.3,210.54 L591.8,211.06 L592.3,210.79 L592.8,211.3 L593.3,211.38 L593.8,211.88 L594.3,211.2 L594.8,211.24 L595.3,210.93 L595.8,211.17 L596.3,211.64 L596.8,210.29 L597.3,211.45 L597.8,210.9 L598.3,211.17 L598.8,211.27 L599.3,211.49 L599.8,211.21 L600.3,210.91 L600.8,211.22 L601.3,211.07 L601.8,210.96 L602.3,211.13 L602.8,211.42 L603.3,211.08 L603.8,211.07 L604.3,210.41 L604.8,210.92 L605.3,210.13 L605.8,211.27 L606.3,210.51 L606.8,211.5 L607.3,212.25 L607.8,210.71 L608.3,211.48 L608.8,211.04 L609.3,210.6 L609.8,210.45 L610.3,211.07 L610.8,211.43 L611.3,210.94 L611.8,210.08 L612.3,210.28 L612.8,210.63 L613.3,211.32 L613.8,210.82 L614.3,210.82 L614.8,211.2 L615.3,210.55 L615.8,210.58 L616.3,210.52 L616.8,209.78 L617.3,210.78 L617.8,210.73 L618.3,210.97 L618.8,209.97 L619.3,210.12 L619.8,210.89 L620.3,210.59 L620.8,211.04 L621.3,210.02 L621.8,210.47 L622.3,210.06 L622.8,210.48 L623.3,210.1 L623.8,210.54 L624.3,210.76 L624.8,210.56 L625.3,209.42 L625.8,210.63 L626.3,210.39 L626.8,209.69 L627.3,209.74 L627.8,210.12 L628.3,210.35 L628.8,209.86 L629.3,209.31 L629.8,210.15 L630.3,210.07 L630.8,211.07 L631.3,209.37 L631.8,211.06 L632.3,210.68 L632.8,210.01 L633.3,210.59 L633.8,209.86 L634.3,210.23 L634.8,209.44 L635.3,209.78 L635.8,209.26 L636.3,208.98 L636.8,209.54 L637.3,209.33 L637.8,209.86 L638.3,210.14 L638.8,209.46 L639.3,209.53 L639.8,209.56 L640.3,208.68 L640.8,209.53 L641.3,209.37 L641.8,209.31 L642.3,208.8 L642.8,208.37 L643.3,209.11 L643.8,209.33 L644.3,209.75 L644.8,209.61 L645.3,209.72 L645.8,209.19 L646.3,209.5 L646.8,208.84 L647.3,209.17 L647.8,209.26 L648.3,210.01 L648.8,208.86 L649.3,208.13 L649.8,209.27 L650.3,208.25 L650.8,208.52 L651.3,208.37 L651.8,208.04 L652.3,208.99 L652.8,208.6 L653.3,208 L653.8,208.25 L654.3,207.97 L654.8,208.38 L655.3,207.86 L655.8,207.61 L656.3,207.59 L656.8,207.59 L657.3,207.83 L657.8,207.2 L658.3,207.48 L658.8,207.62 L659.3,208.38 L659.8,207.61 L660.3,205.78 L660.8,206.79 L661.3,206.74 L661.8,206.96 L662.3,207.43 L662.8,206.95 L663.3,205.48 L663.8,206.56 L664.3,206.38 L664.8,206.42 L665.3,206.76 L665.8,205.57 L666.3,206.47 L666.8,205.14 L667.3,205.82 L667.8,205.88 L668.3,206.66 L668.8,205.23 L669.3,204.7 L669.8,205.68 L670.3,204.99 L670.8,205.91 L671.3,204.8 L671.8,204.64 L672.3,205.51 L672.8,204.9 L673.3,205.23 L673.8,204.04 L674.3,205.34 L674.8,204.24 L675.3,204.79 L675.8,203.87 L676.3,203.53 L676.8,204.02 L677.3,204.12 L677.8,204.65 L678.3,204 L678.8,204.06 L679.3,203.93 L679.8,204.93 L680.3,203.06 L680.8,203.88 L681.3,203.14 L681.8,203.21 L682.3,202.74 L682.8,203.4 L683.3,202.2 L683.8,202.05 L684.3,202.44 L684.8,201.9 L685.3,202.62 L685.8,202.6 L686.3,201.73 L686.8,202.31 L687.3,201.54 L687.8,201.7 L688.3,201.6 L688.8,202.33 L689.3,201.36 L689.8,200.84 L690.3,200.72 L690.8,201.55 L691.3,200.15 L691.8,200.58 L692.3,200.51 L692.8,199.47 L693.3,200.25 L693.8,200.81 L694.3,200.35 L694.8,199.73 L695.3,200.34 L695.8,200.15 L696.3,200.72 L696.8,199.36 L697.3,199.4 L697.8,199.47 L698.3,199.27 L698.8,199.24 L699.3,199.02 L699.8,198.62 L700.3,198.07 L700.8,198.39 L701.3,197.86 L701.8,197.86 L702.3,197.92 L702.8,198.22 L703.3,198.19 L703.8,197.14 L704.3,197.54 L704.8,197.55 L705.3,196.94 L705.8,195.98 L706.3,195.5 L706.8,196.57 L707.3,196.36 L707.8,195.8 L708.3,194.92 L708.8,195.76 L709.3,195.36 L709.8,194.5 L710.3,194.11 L710.8,193.02 L711.3,193.93 L711.8,192.55 L712.3,193.26 L712.8,192.96 L713.3,192.35 L713.8,192.69 L714.3,191.51 L714.8,191.59 L715.3,191.35 L715.8,190.76 L716.3,190.1 L716.8,190.48 L717.3,189.74 L717.8,189.07 L718.3,188.69 L718.8,188.42 L719.3,188.97 L719.8,187.57 L720.3,186.99 L720.8,186.18 L721.3,185.68 L721.8,184.93 L722.3,185.44 L722.8,184.89 L723.3,183.94 L723.8,183.26 L724.3,183.3 L724.8,182.71 L725.3,181.83 L725.8,182.04 L726.3,181.43 L726.8,180.78 L727.3,180.57 L727.8,179.33 L728.3,179.59 L728.8,177.85 L729.3,177.84 L729.8,177.16 L730.3,176.01 L730.8,175.53 L731.3,174.02 L731.8,173.15 L732.3,172.96 L732.8,171.96 L733.3,171.79 L733.8,170.75 L734.3,170.2 L734.8,169.23 L735.3,168.34 L735.8,167.44 L736.3,166.38 L736.8,165.5 L737.3,165.8 L737.8,163.29 L738.3,163.23 L738.8,163.03 L739.3,162.07 L739.8,161.86 L740.3,160.87 L740.8,159.45 L741.3,159.28 L741.8,158.23 L742.3,158.77 L742.8,158.5 L743.3,157.23 L743.8,157.34 L744.3,156.65 L744.8,155.93 L745.3,156.14 L745.8,155.41 L746.3,155.67 L746.8,155.87 L747.3,155.98 L747.8,156.18 L748.3,155.43 L748.8,155.73 L749.3,155.91 L749.8,156.1 L750.3,154.73 L750.8,155.87 L751.3,156.81 L751.8,156.21 L752.3,157.1 L752.8,157.67 L753.3,156.75 L753.8,157.84 L754.3,158.37 L754.8,158.6 L755.3,158.25 L755.8,159.52 L756.3,159.61 L756.8,160.79 L757.3,161.22 L757.8,161.42 L758.3,162.42 L758.8,162.71 L759.3,163.4 L759.8,163.68 L760.3,164.95 L760.8,166.05 L761.3,166.33 L761.8,166.86 L762.3,167.21 L762.8,167.9 L763.3,169.13 L763.8,168.79 L764.3,171.05 L764.8,170.74 L765.3,172.37 L765.8,172.51 L766.3,172.35 L766.8,173.37 L767.3,173.59 L767.8,174.06 L768.3,174.51 L768.8,174.13 L769.3,174.27 L769.8,174.53 L770.3,174.27 L770.8,174.92 L771.3,175.29 L771.8,175.45 L772.3,175.55 L772.8,175.41 L773.3,176.06 L773.8,174.89 L774.3,175.72 L774.8,175.83 L775.3,176.45 L775.8,176.41 L776.3,176.51 L776.8,176.18 L777.3,176.62 L777.8,175.74 L778.3,176.21 L778.8,175.21 L779.3,176.91 L779.8,176.83 L780.3,175.81 L780.8,175.65 L781.3,175.04 L781.8,175.25 L782.3,175.93 L782.8,175.74 L783.3,175.08 L783.8,175.44 L784.3,175.28 L784.8,175.71 L785.3,175.72 L785.8,175.21 L786.3,175.25 L786.8,175.09 L787.3,174.04 L787.8,174.93 L788.3,174.6 L788.8,174.67 L789.3,173.13 L789.8,173.85 L790.3,172.71 L790.8,172.55 L791.3,172.35 L791.8,170.47 L792.3,169.84 L792.8,170.13 L793.3,168.41 L793.8,167.7 L794.3,167.6 L794.8,166.42 L795.3,166.01 L795.8,164.77 L796.3,163.44 L796.8,162.6 L797.3,161.77 L797.8,159.33 L798.3,158.63 L798.8,157.1 L799.3,155.35 L799.8,154.32 L800.3,152.62 L800.8,151.63 L801.3,150.86 L801.8,149.52 L802.3,148.95 L802.8,146.67 L803.3,146.1 L803.8,145.06 L804.3,144.55 L804.8,144.61 L805.3,143.25 L805.8,144.14 L806.3,143.63 L806.8,144.04 L807.3,145.05 L807.8,145.01 L808.3,146.07 L808.8,146.54 L809.3,147.2 L809.8,148.25 L810.3,149.56 L810.8,152.51 L811.3,155.77 L811.8,158.72 L812.3,160.75 L812.8,164.42 L813.3,166.92 L813.8,168.88 L814.3,171.8 L814.8,175.2 L815.3,176.66 L815.8,179.28 L816.3,181.32 L816.8,182.78 L817.3,184.24 L817.8,185.79 L818.3,186.53 L818.8,187.87 L819.3,190.13 L819.8,189.61 L820.3,190.99 L820.8,192.12 L821.3,192.56 L821.8,194.09 L822.3,194.17 L822.8,194.99 L823.3,193.95 L823.8,196.11 L824.3,196.51 L824.8,196.04 L825.3,197.34 L825.8,197.21 L826.3,197.83 L826.8,198.53 L827.3,198.05 L827.8,197.82 L828.3,198.53 L828.8,198.21 L829.3,198.67 L829.8,198.92 L830.3,199.18 L830.8,200.25 L831.3,200.32 L831.8,199.76 L832.3,200.88 L832.8,199.82 L833.3,200.48 L833.8,200.9 L834.3,201.69 L834.8,201.66 L835.3,201.71 L835.8,202.25 L836.3,202.14 L836.8,202.58 L837.3,201.75 L837.8,201.48 L838.3,202.18 L838.8,202.85 L839.3,202.71 L839.8,203.1 L840.3,203.12 L840.8,203.14 L841.3,203.38 L841.8,202.79 L842.3,203.7 L842.8,202.85 L843.3,203.35 L843.8,202.86 L844.3,203.81 L844.8,202.97 L845.3,204.39 L845.8,203.23 L846.3,204.04 L846.8,203.93 L847.3,203.68 L847.8,204.71 L848.3,204.03 L848.8,204.95 L849.3,203.89 L849.8,204.05 L850.3,203.58 L850.8,204.78 L851.3,205 L851.8,204.74 L852.3,204.62 L852.8,204.33 L853.3,205.84 L853.8,205.16 L854.3,204.03 L854.8,204.76 L855.3,203.76 L855.8,205.68 L856.3,205.9 L856.8,205.7 L857.3,205.05 L857.8,204.84 L858.3,204.51 L858.8,205.42 L859.3,204.87 L859.8,205.07 L860.3,204.99 L860.8,205.17 L861.3,205.74 L861.8,206.13 L862.3,205.47 L862.8,205.44 L863.3,204.95 L863.8,204.93 L864.3,205.03 L864.8,205.94 L865.3,205.68 L865.8,206.03 L866.3,205.81 L866.8,205.47 L867.3,205.11 L867.8,205.53 L868.3,205.08 L868.8,206.65 L869.3,205.9 L869.8,205.63 L870.3,206.72 L870.8,205.67 L871.3,206.12 L871.8,205.81 L872.3,206.07 L872.8,205.76 L873.3,206.18 L873.8,206.62 L874.3,205.42 L874.8,205.01 L875.3,206.64 L875.8,206.12 L876.3,206.46 L876.8,205.95 L877.3,206.8 L877.8,206.94 L878.3,205.6 L878.8,206.46 L879.3,205.89 L879.8,205.45 L880.3,206.06 L880.8,206.47 L881.3,205.6 L881.8,205.65 L882.3,206.81 L882.8,206.27 L883.3,206.45 L883.8,205.76 L884.3,205.99 L884.8,206.35 L885.3,206.39 L885.8,206.38 L886.3,207.05 L886.8,206.41 L887.3,205.64 L887.8,205.95 L888.3,206.33 L888.8,206.94 L889.3,206.05 L889.8,206.19 L890.3,206.37 L890.8,206.06 L891.3,206.01 L891.8,206.29 L892.3,206.85 L892.8,206.63 L893.3,206.28 L893.8,206.6 L894.3,205.84 L894.8,206.89 L895.3,206.78 L895.8,206.58 L896.3,205.71 L896.8,207.38 L897.3,205.13 L897.8,206.02 L898.3,206.06 L898.8,206.8 L899.3,205.81 L899.8,206.6 L900.3,206.43 L900.8,206.37 L901.3,206.9 L901.8,207.17 L902.3,206.7 L902.8,206.4 L903.3,205.5 L903.8,207.21 L904.3,206.41 L904.8,205.71 L905.3,206.63 L905.8,207.22 L906.3,206.5 L906.8,206.04 L907.3,207.6 L907.8,206.86 L908.3,206.74 L908.8,207.05 L909.3,205.61 L909.8,206.57 L910.3,206.53 L910.8,207.64 L911.3,206.36 L911.8,206.37 L912.3,205.99 L912.8,206.25 L913.3,206.53 L913.8,206.75 L914.3,206.54 L914.8,207.55 L915.3,206.86 L915.8,206.93 L916.3,207.27 L916.8,206.93 L917.3,206.41 L917.8,205.94 L918.3,206.81 L918.8,206.27 L919.3,207.25 L919.8,206.3 L920.3,205.64 L920.8,206.67 L921.3,207.15 L921.8,206.56" fill="none" stroke="#6554aa" stroke-width="2" stroke-linejoin="round"/>
<path d="M557.3,309.54 L557.8,309.51 L558.3,310.22 L558.8,309.57 L559.3,309.4 L559.8,309.13 L560.3,308.65 L560.8,310.04 L561.3,309.91 L561.8,308.94 L562.3,309.64 L562.8,309.5 L563.3,309.17 L563.8,309.19 L564.3,309.67 L564.8,308.76 L565.3,309.07 L565.8,309.26 L566.3,309.28 L566.8,309.18 L567.3,309.36 L567.8,309.49 L568.3,308.83 L568.8,309.26 L569.3,308.97 L569.8,309.89 L570.3,308.55 L570.8,309.07 L571.3,309.49 L571.8,309.02 L572.3,308.99 L572.8,308.88 L573.3,309.26 L573.8,308.57 L574.3,309.05 L574.8,309.03 L575.3,308.4 L575.8,309.18 L576.3,308.83 L576.8,309.17 L577.3,309.4 L577.8,309.16 L578.3,308.45 L578.8,309.12 L579.3,308.23 L579.8,308.59 L580.3,309.69 L580.8,308.92 L581.3,309.61 L581.8,308.8 L582.3,308.88 L582.8,308.35 L583.3,309.27 L583.8,308.74 L584.3,309.1 L584.8,309 L585.3,309.03 L585.8,308.92 L586.3,308.74 L586.8,308.74 L587.3,308.41 L587.8,307.74 L588.3,308.92 L588.8,309.63 L589.3,309.15 L589.8,309.71 L590.3,308.85 L590.8,308.18 L591.3,308.15 L591.8,308.93 L592.3,308.73 L592.8,308.48 L593.3,308.88 L593.8,308.12 L594.3,308.74 L594.8,308.36 L595.3,308.54 L595.8,308.99 L596.3,308.37 L596.8,309.04 L597.3,309 L597.8,308.03 L598.3,309.42 L598.8,307.78 L599.3,308.28 L599.8,308.64 L600.3,307.24 L600.8,308.73 L601.3,308.76 L601.8,308.16 L602.3,308.32 L602.8,308.27 L603.3,308.05 L603.8,308.61 L604.3,307.93 L604.8,308.06 L605.3,308.22 L605.8,308.42 L606.3,308.51 L606.8,307.31 L607.3,307.03 L607.8,307.87 L608.3,307.88 L608.8,307.39 L609.3,307.99 L609.8,308.11 L610.3,307.98 L610.8,308.53 L611.3,307.28 L611.8,307.73 L612.3,308.58 L612.8,307.98 L613.3,307.13 L613.8,307.71 L614.3,308.13 L614.8,308.51 L615.3,307.83 L615.8,308.04 L616.3,306.97 L616.8,307.34 L617.3,307.97 L617.8,306.95 L618.3,307.34 L618.8,306.48 L619.3,307.98 L619.8,307.22 L620.3,307.51 L620.8,306.54 L621.3,306.6 L621.8,308 L622.3,306.98 L622.8,306.86 L623.3,307.32 L623.8,307.31 L624.3,306.13 L624.8,306.56 L625.3,307 L625.8,306.95 L626.3,307.08 L626.8,306.7 L627.3,306.74 L627.8,306.94 L628.3,306.5 L628.8,306.4 L629.3,306.51 L629.8,306.73 L630.3,306.63 L630.8,306.46 L631.3,306.53 L631.8,306.6 L632.3,306.74 L632.8,306.74 L633.3,305.96 L633.8,306.96 L634.3,305.76 L634.8,306.72 L635.3,306.12 L635.8,306.68 L636.3,306.88 L636.8,305.51 L637.3,306.62 L637.8,306.45 L638.3,306.09 L638.8,306.45 L639.3,306.03 L639.8,306.29 L640.3,305.74 L640.8,306.55 L641.3,306.44 L641.8,306.49 L642.3,305.83 L642.8,306.94 L643.3,306.98 L643.8,306.02 L644.3,305.85 L644.8,305.83 L645.3,306.3 L645.8,306.43 L646.3,305.6 L646.8,305 L647.3,306.1 L647.8,305.85 L648.3,305.92 L648.8,306.05 L649.3,305.28 L649.8,305.79 L650.3,305.59 L650.8,305.87 L651.3,306.22 L651.8,305.64 L652.3,305.22 L652.8,306.14 L653.3,305.86 L653.8,305.41 L654.3,304.65 L654.8,305.03 L655.3,305.45 L655.8,305.6 L656.3,305.07 L656.8,305.46 L657.3,304.93 L657.8,304.98 L658.3,305.37 L658.8,304.95 L659.3,305.09 L659.8,305.37 L660.3,305.43 L660.8,304.6 L661.3,304.7 L661.8,304.16 L662.3,304.11 L662.8,304.78 L663.3,304.35 L663.8,303.69 L664.3,304.7 L664.8,304.02 L665.3,304.19 L665.8,304.46 L666.3,304.39 L666.8,304.11 L667.3,303.17 L667.8,304.26 L668.3,303.66 L668.8,303.22 L669.3,302.79 L669.8,304.31 L670.3,303.71 L670.8,303.62 L671.3,303.77 L671.8,303.38 L672.3,302.67 L672.8,303.57 L673.3,303.63 L673.8,303.33 L674.3,303.71 L674.8,303.8 L675.3,302.49 L675.8,302.57 L676.3,303.08 L676.8,302.68 L677.3,302.61 L677.8,302.85 L678.3,302.67 L678.8,302.03 L679.3,302.19 L679.8,301.7 L680.3,301.82 L680.8,301.29 L681.3,300.79 L681.8,301.33 L682.3,301.16 L682.8,301.7 L683.3,301.88 L683.8,301.05 L684.3,301.12 L684.8,300.48 L685.3,300.22 L685.8,300.37 L686.3,300.23 L686.8,300.36 L687.3,300.14 L687.8,300.7 L688.3,299.73 L688.8,298.95 L689.3,299.62 L689.8,299.14 L690.3,299.4 L690.8,299.7 L691.3,298.78 L691.8,298.92 L692.3,299.07 L692.8,298.3 L693.3,298.72 L693.8,298.75 L694.3,298.76 L694.8,298.78 L695.3,298.43 L695.8,298.24 L696.3,297.33 L696.8,296.63 L697.3,297.28 L697.8,298.24 L698.3,297.53 L698.8,296.33 L699.3,297.02 L699.8,297.24 L700.3,296.1 L700.8,297.05 L701.3,296.12 L701.8,296.95 L702.3,296.32 L702.8,297.53 L703.3,295.35 L703.8,295.88 L704.3,294.89 L704.8,295.85 L705.3,295.17 L705.8,295.29 L706.3,294.68 L706.8,293.85 L707.3,293.83 L707.8,293.3 L708.3,293.11 L708.8,293.36 L709.3,293.49 L709.8,293.1 L710.3,292.65 L710.8,291.86 L711.3,292.03 L711.8,291.1 L712.3,291.26 L712.8,291.22 L713.3,290.44 L713.8,289.98 L714.3,289.67 L714.8,289.81 L715.3,289.06 L715.8,288.21 L716.3,288.31 L716.8,287.65 L717.3,288.42 L717.8,287.37 L718.3,286.3 L718.8,286.68 L719.3,286.47 L719.8,285.9 L720.3,285.14 L720.8,284.94 L721.3,284.56 L721.8,284.44 L722.3,283.71 L722.8,284.11 L723.3,282.54 L723.8,282.86 L724.3,281.73 L724.8,280.49 L725.3,280.27 L725.8,279.51 L726.3,279.09 L726.8,279.94 L727.3,278.64 L727.8,278.74 L728.3,277.62 L728.8,277.57 L729.3,276.66 L729.8,277.08 L730.3,276.13 L730.8,275.59 L731.3,275.25 L731.8,275.82 L732.3,274.55 L732.8,274.21 L733.3,272.74 L733.8,272.44 L734.3,272.27 L734.8,270.68 L735.3,271.43 L735.8,270.17 L736.3,269.16 L736.8,268.14 L737.3,267.14 L737.8,266 L738.3,265.83 L738.8,264.52 L739.3,263.8 L739.8,262.2 L740.3,261.1 L740.8,261.22 L741.3,259.18 L741.8,258.56 L742.3,258.28 L742.8,257.61 L743.3,255.76 L743.8,255.53 L744.3,255.06 L744.8,254.5 L745.3,253.79 L745.8,254.11 L746.3,253.22 L746.8,253.04 L747.3,251.87 L747.8,252.62 L748.3,251.67 L748.8,252.81 L749.3,252.75 L749.8,252.36 L750.3,252.77 L750.8,252.89 L751.3,252.95 L751.8,253.38 L752.3,253.39 L752.8,253.49 L753.3,253.62 L753.8,255.01 L754.3,254.65 L754.8,254.86 L755.3,255.54 L755.8,255.5 L756.3,256.08 L756.8,257.21 L757.3,258.1 L757.8,258.72 L758.3,258.56 L758.8,260.07 L759.3,260.83 L759.8,261.81 L760.3,261.94 L760.8,262.64 L761.3,263.87 L761.8,264.36 L762.3,265.12 L762.8,266.41 L763.3,267.69 L763.8,268.14 L764.3,269.35 L764.8,269.13 L765.3,270.54 L765.8,270.8 L766.3,270.9 L766.8,271.55 L767.3,271.79 L767.8,272.5 L768.3,272.68 L768.8,273.97 L769.3,273.62 L769.8,273.51 L770.3,274.39 L770.8,274.96 L771.3,274.93 L771.8,275.7 L772.3,275.14 L772.8,275.35 L773.3,276.61 L773.8,276.01 L774.3,276.35 L774.8,276.42 L775.3,276.55 L775.8,276.4 L776.3,276.38 L776.8,277.02 L777.3,276.39 L777.8,276.72 L778.3,277.03 L778.8,276.6 L779.3,276.14 L779.8,277.06 L780.3,277.36 L780.8,277.01 L781.3,276.15 L781.8,277.16 L782.3,277.7 L782.8,276.08 L783.3,275.46 L783.8,276.43 L784.3,276.43 L784.8,276.58 L785.3,276.42 L785.8,275.9 L786.3,275.88 L786.8,275.56 L787.3,275.23 L787.8,274.9 L788.3,274.6 L788.8,274.72 L789.3,274.31 L789.8,273.67 L790.3,274.06 L790.8,272.93 L791.3,272.77 L791.8,272.52 L792.3,271.16 L792.8,271.32 L793.3,271.31 L793.8,270.7 L794.3,269.18 L794.8,268.67 L795.3,267.81 L795.8,267.24 L796.3,266.21 L796.8,264.3 L797.3,263.81 L797.8,262.3 L798.3,260.81 L798.8,259.13 L799.3,257.96 L799.8,255.96 L800.3,255.62 L800.8,254.37 L801.3,252.98 L801.8,251.26 L802.3,251.13 L802.8,249.92 L803.3,247.54 L803.8,247.59 L804.3,246.49 L804.8,244.28 L805.3,244.75 L805.8,244.19 L806.3,244.02 L806.8,244.03 L807.3,244.29 L807.8,245.27 L808.3,246.87 L808.8,248.45 L809.3,249.1 L809.8,250.59 L810.3,252.41 L810.8,252.81 L811.3,255.82 L811.8,257.57 L812.3,258.87 L812.8,262.39 L813.3,263.88 L813.8,266.82 L814.3,269.41 L814.8,270.82 L815.3,273.5 L815.8,276.65 L816.3,278.37 L816.8,281.67 L817.3,283.25 L817.8,284.99 L818.3,285.02 L818.8,287.1 L819.3,288.31 L819.8,288.33 L820.3,290.44 L820.8,290.28 L821.3,291.72 L821.8,291.74 L822.3,293.24 L822.8,294.15 L823.3,293.9 L823.8,294.32 L824.3,295.29 L824.8,294.9 L825.3,295.47 L825.8,296.14 L826.3,296.29 L826.8,297.09 L827.3,297.21 L827.8,297.81 L828.3,297.22 L828.8,297.99 L829.3,297.4 L829.8,298.42 L830.3,299.06 L830.8,299.59 L831.3,298.27 L831.8,299.01 L832.3,299.66 L832.8,299.21 L833.3,300.09 L833.8,300.33 L834.3,300.11 L834.8,300.32 L835.3,300.37 L835.8,301.11 L836.3,301.73 L836.8,301.49 L837.3,302.75 L837.8,301.04 L838.3,301.57 L838.8,302.25 L839.3,301.57 L839.8,302.34 L840.3,302.65 L840.8,302.48 L841.3,302.41 L841.8,303.03 L842.3,302.9 L842.8,303.13 L843.3,303.15 L843.8,302.71 L844.3,302.61 L844.8,303.02 L845.3,303.35 L845.8,303.27 L846.3,303.86 L846.8,303.63 L847.3,304.02 L847.8,303.72 L848.3,303.43 L848.8,304.19 L849.3,304.11 L849.8,303.58 L850.3,303.84 L850.8,305.32 L851.3,302.65 L851.8,304.7 L852.3,304.29 L852.8,304.29 L853.3,304.24 L853.8,304.2 L854.3,305.52 L854.8,304.33 L855.3,304.44 L855.8,304.97 L856.3,304.83 L856.8,304.62 L857.3,304.62 L857.8,304.19 L858.3,305.3 L858.8,304.39 L859.3,303.82 L859.8,305.4 L860.3,305.31 L860.8,305.16 L861.3,304.82 L861.8,305.61 L862.3,304.64 L862.8,304.18 L863.3,305.26 L863.8,305.59 L864.3,305.54 L864.8,306.22 L865.3,305.71 L865.8,305.27 L866.3,305.32 L866.8,305.84 L867.3,305.44 L867.8,305.45 L868.3,304.75 L868.8,305.43 L869.3,305.02 L869.8,305.74 L870.3,305.72 L870.8,306.01 L871.3,306.52 L871.8,305.67 L872.3,306.43 L872.8,305.3 L873.3,305.91 L873.8,306.29 L874.3,306.77 L874.8,305.42 L875.3,305.83 L875.8,306.03 L876.3,305.94 L876.8,305.58 L877.3,305.3 L877.8,305.5 L878.3,306.03 L878.8,305.49 L879.3,306.9 L879.8,306.68 L880.3,305.29 L880.8,305.93 L881.3,306.76 L881.8,306.83 L882.3,306.7 L882.8,305.56 L883.3,306.05 L883.8,306.8 L884.3,306.28 L884.8,306.04 L885.3,306.47 L885.8,306.69 L886.3,306.32 L886.8,306.37 L887.3,306.74 L887.8,306 L888.3,305.85 L888.8,306.6 L889.3,305.72 L889.8,306.48 L890.3,305.93 L890.8,306.63 L891.3,305.72 L891.8,306.77 L892.3,306.38 L892.8,306.12 L893.3,305.87 L893.8,306.19 L894.3,305.84 L894.8,305.72 L895.3,306.74 L895.8,306.52 L896.3,306.81 L896.8,305.65 L897.3,305.38 L897.8,305.54 L898.3,306.55 L898.8,306.61 L899.3,305.42 L899.8,306.71 L900.3,306.05 L900.8,305.71 L901.3,306.21 L901.8,306.5 L902.3,306.15 L902.8,306.17 L903.3,305.87 L903.8,305.61 L904.3,306.08 L904.8,305.51 L905.3,306.51 L905.8,305.86 L906.3,306.83 L906.8,305.53 L907.3,306.87 L907.8,305.84 L908.3,305.84 L908.8,306.37 L909.3,306.64 L909.8,306.22 L910.3,306.07 L910.8,307.13 L911.3,306.46 L911.8,305.69 L912.3,306.11 L912.8,306.99 L913.3,306.38 L913.8,306.6 L914.3,307.14 L914.8,305.96 L915.3,306.39 L915.8,305.92 L916.3,306.22 L916.8,306.46 L917.3,305.62 L917.8,306.28 L918.3,306.28 L918.8,306.69 L919.3,305.94 L919.8,305.63 L920.3,306.38 L920.8,305.7 L921.3,306.28 L921.8,306.46" fill="none" stroke="#e8421f" stroke-width="2" stroke-linejoin="round"/>
<rect x="556.8" y="36" width="365.7" height="297" fill="none" stroke="#000" stroke-width="1.4"/>
<line x1="556.8" y1="333" x2="556.8" y2="330" stroke="#000" stroke-width="1.4"/>
<line x1="614" y1="333" x2="614" y2="331.4" stroke="#000" stroke-width="1.4"/>
<line x1="671.2" y1="333" x2="671.2" y2="330" stroke="#000" stroke-width="1.4"/>
<line x1="728.4" y1="333" x2="728.4" y2="331.4" stroke="#000" stroke-width="1.4"/>
<line x1="785.6" y1="333" x2="785.6" y2="330" stroke="#000" stroke-width="1.4"/>
<line x1="842.8" y1="333" x2="842.8" y2="331.4" stroke="#000" stroke-width="1.4"/>
<line x1="900" y1="333" x2="900" y2="330" stroke="#000" stroke-width="1.4"/>
<path d="M90,523.95 L91,525.67 L92,524 L93,520.28 L94,520.04 L95,518.46 L96,519.01 L97,524.34 L98,530.76 L99,529.84 L100,524.19 L101,521.55 L102,522.58 L103,527.25 L104,531.41 L105,530.7 L106,531.41 L107,532.77 L108,529.26 L109,518.19 L110,515.34 L111,522.56 L112,527.56 L113,526.64 L114,525.03 L115,520.53 L116,518.85 L117,523.06 L118,529.93 L119,530.02 L120,525.55 L121,524.86 L122,524.12 L123,523.42 L124,522.13 L125,522.99 L126,523.28 L127,523.64 L128,522.45 L129,522.48 L130,524.67 L131,525.25 L132,525.37 L133,525.88 L134,526.73 L135,526.26 L136,531.62 L137,534.51 L138,533.54 L139,539.82 L140,541.21 L141,530.33 L142,519.95 L143,518.44 L144,525.99 L145,535.84 L146,535.32 L147,531.3 L148,525.84 L149,523.96 L150,524.41 L151,522.77 L152,524.81 L153,528.43 L154,529.03 L155,528.44 L156,527.25 L157,529.05 L158,525.84 L159,519.54 L160,518.9 L161,523.12 L162,528.68 L163,530.39 L164,529.78 L165,530.36 L166,532.68 L167,531.39 L168,524.2 L169,521.78 L170,526.25 L171,527.43 L172,526.7 L173,524.49 L174,520.68 L175,522.08 L176,531.27 L177,537.27 L178,535.88 L179,532.06 L180,529.11 L181,527.15 L182,526.9 L183,525.95 L184,526.47 L185,531.62 L186,532.83 L187,526.37 L188,529.19 L189,530.66 L190,527.19 L191,529.14 L192,530.03 L193,528.06 L194,526.33 L195,528.98 L196,542.71 L197,551.06 L198,545.79 L199,536.74 L200,534.87 L201,533.63 L202,530.89 L203,532.15 L204,533.93 L205,529.88 L206,524.93 L207,526.87 L208,532.09 L209,533.46 L210,536.12 L211,541.09 L212,537.64 L213,534.49 L214,539.67 L215,545.2 L216,542.25 L217,548.14 L218,548.87 L219,541.32 L220,540.48 L221,545.1 L222,542.46 L223,541.25 L224,544.7 L225,542.4 L226,540.5 L227,540.2 L228,540.93 L228.5,541.54 L229,542.15 L229.5,542.72 L230,543.3 L230.5,543.91 L231,544.6 L231.5,545.36 L232,546.18 L232.5,547.07 L233,548 L233.5,548.98 L234,550 L234.5,551.31 L235,553 L235.5,554.78 L236,556.39 L236.5,557.55 L237,558 L237.5,557.79 L238,557.37 L238.5,557.04 L239,557.94 L239.5,562.81 L240,570 L240.5,577.43 L241,583.97 L241.5,591.77 L242,599.93 L242.5,607.12 L243,612.02 L243.5,613.16 L244,605.9 L244.5,591.71 L245,574.96 L245.5,560 L246,546.94 L246.5,533.62 L247,520.99 L247.5,510 L248,499.38 L248.5,488.83 L249,480.73 L249.5,477.5 L250,477.5 L250.5,477.5 L251,477.5 L251.5,477.5 L252,477.5 L252.5,477.5 L253,480.94 L253.5,487.43 L254,491.2 L254.5,494.86 L255,497.63 L255.5,498.1 L256,499.66 L257,502.57 L258,505.14 L259,504.51 L260,502.72 L261,506.41 L262,507.44 L263,509.42 L264,513.11 L265,513.99 L266,509.27 L267,503.61 L268,506.72 L269,508.75 L270,510.44 L271,510.85 L272,512.95 L273,511.44 L274,508.38 L275,504.48 L276,500.55 L277,505.52 L278,505.86 L279,503.16 L280,507.12 L281,509.19 L282,508.83 L283,508.78 L284,511.03 L285,511.26 L286,508.54 L287,505.67 L288,503.14 L289,504 L290,506.31 L291,501.94 L292,499.53 L293,506.76 L294,510.38 L295,509.27 L296,510.06 L297,508.02 L298,503.8 L299,505.69 L300,507.07 L301,503.12 L302,496.81 L303,505.5 L304,508.62 L305,506.57 L306,508.63 L307,508.22 L308,508.99 L309,512.39 L310,513.42 L311,511.08 L312,510.25 L313,508.47 L314,507.99 L315,512.67 L316,512.64 L317,510.91 L318,511.75 L319,509.74 L320,507.65 L321,509.61 L322,509.87 L323,511.14 L324,513.34 L325,515.34 L326,515.65 L327,510.5 L328,505.02 L329,501.55 L330,503.63 L331,508.37 L332,507.59 L333,502.21 L334,501.26 L335,506.44 L336,509.81 L337,506.36 L338,502.81 L339,499.43 L340,504.92 L341,509 L342,506.34 L343,505.3 L344,499.96 L345,500.23 L346,501 L347,503.79 L348,507.17 L349,509.8 L350,509.36 L351,507.19 L352,505.6 L353,505.67 L354,502.2 L355,500.64 L356,504.12 L357,511.63 L358,516.11 L359,513.98 L360,512.14 L361,505.35 L362,503.57 L363,508.66 L364,511.51 L365,513.55 L366,513.87 L367,511.09 L368,510.51 L369,503.55 L370,491.56 L371,494.09 L372,501.56 L373,506.96 L374,508.63 L375,508.98 L376,509.45 L377,505.59 L378,506.73 L379,508.18 L380,506.93 L381,511.23 L382,512 L383,508.25 L384,506.66 L385,506.85 L386,509.13 L387,511.96 L388,508.14 L389,498.34 L390,496.96 L391,498.86 L392,491.16 L393,491.59 L394,499.68 L395,507.74 L396,512.57 L397,516.21 L398,520.6 L399,515.68 L400,512.84 L401,512.06 L402,510.25 L403,511.35 L404,510.87 L405,507.66 L406,503.73 L407,505.23 L408,508.73 L409,508.77 L410,509.1 L411,509.43 L412,508.73 L413,508.65 L414,510.76 L415,513.37 L416,514.08 L417,510.05 L418,504.28 L419,503.43 L420,504.27" fill="none" stroke="#6394d0" stroke-width="2.3" stroke-linejoin="round"/>
<path d="M90,520.44 L91,520.14 L92,518.76 L93,517.48 L94,517.23 L95,518.95 L96,522.07 L97,523.63 L98,522.24 L99,522.78 L100,526.57 L101,525.85 L102,522.52 L103,519.4 L104,518.86 L105,518.2 L106,515.35 L107,516.65 L108,522.2 L109,525.7 L110,522.03 L111,516.79 L112,516.58 L113,518.99 L114,518.56 L115,520.32 L116,523.43 L117,521.41 L118,518.43 L119,519.18 L120,522.99 L121,522.9 L122,518.07 L123,515.8 L124,519.13 L125,522.56 L126,520.78 L127,518.11 L128,519.81 L129,521.44 L130,520.64 L131,519.89 L132,518.94 L133,517.28 L134,515.41 L135,513.62 L136,512.86 L137,514.39 L138,518.71 L139,520.93 L140,520.8 L141,520.54 L142,519.2 L143,517.99 L144,518.44 L145,518.05 L146,515.83 L147,513.65 L148,515.92 L149,518.6 L150,517.52 L151,514.85 L152,513.86 L153,517.19 L154,520.81 L155,520.7 L156,520.83 L157,520.63 L158,520.8 L159,519.98 L160,520.73 L161,521.88 L162,520.51 L163,517.65 L164,516.62 L165,516.77 L166,517.74 L167,518.4 L168,519.25 L169,519.34 L170,517 L171,516.05 L172,516.9 L173,517.57 L174,518.14 L175,519.13 L176,520.25 L177,523.2 L178,523.51 L179,521.92 L180,518.93 L181,519.01 L182,522.34 L183,525.04 L184,524.72 L185,523.92 L186,522.66 L187,522.44 L188,518.45 L189,513.9 L190,514.39 L191,518.57 L192,520.87 L193,521.66 L194,522.45 L195,524.61 L196,525.8 L197,523.69 L198,521.81 L199,519.29 L200,517.71 L201,521.16 L202,524.61 L203,525.41 L204,528.01 L205,527.53 L206,526.28 L207,525.97 L208,524.85 L209,525.25 L210,525.83 L211,523.48 L212,521.82 L213,522.3 L214,527.77 L215,533.68 L216,531.03 L217,524.38 L218,522.94 L219,527.4 L220,529.95 L221,530.64 L222,533.34 L223,534.05 L224,534.26 L225,534.55 L226,533.9 L227,532.87 L228,533.11 L228.5,533.42 L229,533.46 L229.5,533.71 L230,534 L230.5,534.36 L231,534.81 L231.5,535.38 L232,536.09 L232.5,536.95 L233,538 L233.5,540.1 L234,543.67 L234.5,548.02 L235,552.47 L235.5,556.35 L236,559.27 L236.5,561.7 L237,564.05 L237.5,566.69 L238,570 L238.5,574.43 L239,580.02 L239.5,586.55 L240,593.81 L240.5,601.72 L241,613.54 L241.5,627.69 L242,640.05 L242.5,646.49 L243,644.16 L243.5,635.37 L244,623.03 L244.5,610 L245,595.24 L245.5,577.22 L246,558.09 L246.5,540 L247,522.54 L247.5,504.87 L248,488.52 L248.5,475 L249,462.76 L249.5,451.51 L250,444.7 L250.5,444.33 L251,446.1 L251.5,448.87 L252,452.04 L252.5,455 L253,457.86 L253.5,461.17 L254,464.48 L254.5,467.34 L255,470.4 L255.5,473.36 L256,474.88 L257,478.58 L258,483.47 L259,488.9 L260,492.46 L261,495.79 L262,497.74 L263,500.28 L264,502.23 L265,502.11 L266,503.26 L267,506.03 L268,506.82 L269,507.78 L270,507.23 L271,506.12 L272,508.47 L273,508.47 L274,506.65 L275,505.87 L276,506.76 L277,510.2 L278,512.47 L279,508.87 L280,505.78 L281,508.68 L282,512.83 L283,513.13 L284,512.08 L285,507.77 L286,504.35 L287,503.42 L288,504.52 L289,506.6 L290,505.98 L291,503.01 L292,502.77 L293,504.68 L294,508.2 L295,512.74 L296,514.03 L297,512.15 L298,509.82 L299,507.37 L300,505.81 L301,504.27 L302,506.26 L303,509.22 L304,509.98 L305,508.31 L306,505.88 L307,502.38 L308,500.11 L309,500.76 L310,501.42 L311,503.5 L312,503.91 L313,501.57 L314,501.21 L315,503.93 L316,506.29 L317,509.14 L318,512.16 L319,513.46 L320,510.85 L321,507.32 L322,508.95 L323,511.06 L324,508.04 L325,507.91 L326,510.74 L327,509.92 L328,507.6 L329,507.31 L330,507.76 L331,509 L332,508.58 L333,507.78 L334,505.82 L335,503.4 L336,505.57 L337,508.2 L338,507.85 L339,507.06 L340,509.07 L341,511.87 L342,510.77 L343,509.07 L344,510.12 L345,509 L346,505.4 L347,503.93 L348,505.79 L349,506.53 L350,509.1 L351,511.5 L352,509.49 L353,505.44 L354,505.72 L355,509.68 L356,511.33 L357,509.89 L358,510.7 L359,514.4 L360,514.62 L361,511.01 L362,508.76 L363,508.02 L364,506.64 L365,508.05 L366,510.65 L367,511.97 L368,509.43 L369,507.64 L370,510.96 L371,509.02 L372,503.16 L373,503.19 L374,506.3 L375,506.8 L376,507.25 L377,505.16 L378,505.96 L379,512.08 L380,514.11 L381,512.4 L382,512.82 L383,511.97 L384,510.44 L385,510.06 L386,512.25 L387,515.24 L388,517.2 L389,518.3 L390,516.88 L391,512.87 L392,510.4 L393,511.45 L394,511.02 L395,507.73 L396,504.97 L397,503.86 L398,503.47 L399,505.68 L400,509.95 L401,512.34 L402,510.47 L403,507.92 L404,507.7 L405,509.84 L406,511.69 L407,508.86 L408,505.21 L409,504.75 L410,503.96 L411,505.27 L412,506.98 L413,507.05 L414,508.96 L415,510.59 L416,510.02 L417,511.83 L418,512.84 L419,510.96 L420,509.43" fill="none" stroke="#6554aa" stroke-width="2.3" stroke-linejoin="round"/>
<path d="M90,527.37 L91,528.09 L92,525.87 L93,526.71 L94,529.7 L95,528.44 L96,526.26 L97,529.11 L98,531.27 L99,528.14 L100,529.91 L101,530.77 L102,529.64 L103,529.55 L104,529.44 L105,532.73 L106,532.75 L107,528.63 L108,528.13 L109,528.65 L110,528.23 L111,528.54 L112,527.85 L113,529.23 L114,529 L115,529.32 L116,530.73 L117,530.64 L118,528.8 L119,530.73 L120,531.51 L121,530.97 L122,531.57 L123,528.66 L124,528.05 L125,529.15 L126,529.43 L127,531.75 L128,532.09 L129,532.01 L130,528.08 L131,527.86 L132,530.39 L133,529.22 L134,530.11 L135,528.96 L136,530.28 L137,531.72 L138,529.34 L139,526.98 L140,528.54 L141,531.38 L142,531.26 L143,531.12 L144,530.43 L145,529.94 L146,528.6 L147,527.87 L148,529.77 L149,528.67 L150,525.97 L151,528.84 L152,532.69 L153,532.89 L154,528.62 L155,529.25 L156,531.14 L157,530.88 L158,529.19 L159,529.65 L160,529.02 L161,528.73 L162,528.66 L163,529.39 L164,529.22 L165,529.78 L166,530.37 L167,532.49 L168,533.26 L169,530.04 L170,527.78 L171,527.78 L172,526.7 L173,525.57 L174,527.47 L175,528.71 L176,530.22 L177,530.06 L178,531.08 L179,530.5 L180,528.08 L181,527.21 L182,526.98 L183,527.86 L184,529.26 L185,527.76 L186,526.79 L187,527.71 L188,530.26 L189,528.78 L190,527.46 L191,527.03 L192,527.84 L193,526.81 L194,525.32 L195,523.24 L196,524.52 L197,528.79 L198,529.84 L199,527.59 L200,529.78 L201,533.57 L202,536.42 L203,531.63 L204,529.44 L205,530.55 L206,534.2 L207,535.38 L208,534.8 L209,537.71 L210,538.41 L211,535.06 L212,534.65 L213,533.81 L214,532.89 L215,533.29 L216,533.47 L217,533.11 L218,535.7 L219,537.51 L220,535.94 L221,535.94 L222,537.26 L223,540.23 L224,542.28 L225,544.15 L226,544.56 L227,545.85 L228,548.22 L228.5,549.17 L229,550 L229.5,550.84 L230,551.62 L230.5,552.4 L231,553.22 L231.5,554.13 L232,555.19 L232.5,556.44 L233,558.02 L233.5,560.28 L234,563.11 L234.5,566.33 L235,569.79 L235.5,573.3 L236,576.81 L236.5,580.46 L237,584.29 L237.5,588.36 L238,592.71 L238.5,597.41 L239,602.49 L239.5,608 L240,614.53 L240.5,622.26 L241,630.63 L241.5,639.11 L242,648.28 L242.5,658.73 L243,662.28 L243.5,655.94 L244,644.47 L244.5,627.39 L245,604.09 L245.5,586.08 L246,569.37 L246.5,545.66 L247,510.71 L247.5,488.13 L248,471.92 L248.5,460 L249,450.12 L249.5,441.18 L250,434.7 L250.5,432.2 L251,432.91 L251.5,434.74 L252,437.26 L252.5,440 L253,443.47 L253.5,448.01 L254,453.02 L254.5,458.52 L255,462.73 L255.5,467.89 L256,472.41 L257,479.67 L258,484.98 L259,487.49 L260,490.09 L261,494.05 L262,494.92 L263,497.96 L264,504.2 L265,507.69 L266,508.14 L267,507.85 L268,507.06 L269,507.26 L270,505.44 L271,503.97 L272,508.57 L273,511.76 L274,512.21 L275,510.76 L276,512.53 L277,510.85 L278,509.43 L279,511.78 L280,514.26 L281,513.93 L282,513.33 L283,512.34 L284,514.33 L285,514.98 L286,512.9 L287,512.73 L288,511.5 L289,512.01 L290,511.39 L291,513.42 L292,513.29 L293,512.09 L294,513.06 L295,512.43 L296,512.82 L297,512.79 L298,514.09 L299,514.6 L300,516.86 L301,516.46 L302,514.47 L303,510.42 L304,508.68 L305,512.33 L306,516.22 L307,514.79 L308,516.82 L309,517.01 L310,514.03 L311,514.41 L312,516.26 L313,514.37 L314,512.85 L315,512.82 L316,513.84 L317,514.99 L318,516.71 L319,516.52 L320,516.74 L321,516.88 L322,518.84 L323,515.77 L324,513.26 L325,511.2 L326,509.7 L327,511.31 L328,513.11 L329,513 L330,513.66 L331,510.42 L332,510.07 L333,513.63 L334,514.26 L335,513.3 L336,516.5 L337,517.84 L338,515.11 L339,513.1 L340,515.37 L341,514.47 L342,514.08 L343,514.53 L344,514.42 L345,516.15 L346,515.07 L347,516.55 L348,517.91 L349,518.69 L350,517.27 L351,516.05 L352,514 L353,513.13 L354,513.47 L355,514.79 L356,514.77 L357,516.53 L358,514.27 L359,511.6 L360,513 L361,515.59 L362,514.65 L363,513.93 L364,512.18 L365,514.63 L366,516.52 L367,516.5 L368,515.44 L369,511.81 L370,509.57 L371,511.26 L372,515.24 L373,516.35 L374,515.91 L375,514.57 L376,514.4 L377,512.39 L378,513.25 L379,512.44 L380,513.43 L381,516 L382,516.49 L383,514.71 L384,514.86 L385,517.55 L386,517 L387,514.35 L388,514.51 L389,515.12 L390,516.62 L391,516.51 L392,515.84 L393,514.77 L394,514.55 L395,516.45 L396,514.39 L397,510.34 L398,512.29 L399,514.07 L400,512.65 L401,511.84 L402,512.88 L403,514 L404,513.4 L405,515.68 L406,518.18 L407,518.21 L408,517.17 L409,515.94 L410,516.79 L411,516.18 L412,515.54 L413,514.1 L414,515.69 L415,514.5 L416,515.1 L417,516.56 L418,515.04 L419,513.69 L420,514.82" fill="none" stroke="#e8421f" stroke-width="2.3" stroke-linejoin="round"/>
<rect x="61.5" y="398" width="401.2" height="289.5" fill="none" stroke="#000" stroke-width="1.9"/>
<line x1="90.1" y1="687.5" x2="90.1" y2="685.0" stroke="#000" stroke-width="1.8"/>
<line x1="118.8" y1="687.5" x2="118.8" y2="683.5" stroke="#000" stroke-width="1.8"/>
<line x1="147.5" y1="687.5" x2="147.5" y2="685.0" stroke="#000" stroke-width="1.8"/>
<line x1="176.2" y1="687.5" x2="176.2" y2="683.5" stroke="#000" stroke-width="1.8"/>
<line x1="204.9" y1="687.5" x2="204.9" y2="685.0" stroke="#000" stroke-width="1.8"/>
<line x1="233.6" y1="687.5" x2="233.6" y2="683.5" stroke="#000" stroke-width="1.8"/>
<line x1="262.3" y1="687.5" x2="262.3" y2="685.0" stroke="#000" stroke-width="1.8"/>
<line x1="291" y1="687.5" x2="291" y2="683.5" stroke="#000" stroke-width="1.8"/>
<line x1="319.7" y1="687.5" x2="319.7" y2="685.0" stroke="#000" stroke-width="1.8"/>
<line x1="348.4" y1="687.5" x2="348.4" y2="683.5" stroke="#000" stroke-width="1.8"/>
<line x1="377.1" y1="687.5" x2="377.1" y2="685.0" stroke="#000" stroke-width="1.8"/>
<line x1="405.8" y1="687.5" x2="405.8" y2="683.5" stroke="#000" stroke-width="1.8"/>
<line x1="434.5" y1="687.5" x2="434.5" y2="685.0" stroke="#000" stroke-width="1.8"/>
<line x1="73.2" y1="414.1" x2="100.75" y2="414.1" stroke="#6394d0" stroke-width="1.6"/>
<line x1="73.2" y1="436.15" x2="100.75" y2="436.15" stroke="#6554aa" stroke-width="1.6"/>
<line x1="73.2" y1="458.2" x2="100.75" y2="458.2" stroke="#e8421f" stroke-width="1.6"/>
<path d="M587.5,665.5 L587.5,658.18 L587.5,650.86 L587.5,643.54 L587.5,636.22 L587.5,628.9 L587.5,622.8 L587.5,616.7 L588.11,608.65 L589.63,602.79 L592.98,595.47 L602.73,583.76 L606.68,581.08 L618.86,572.29 L634.09,564 L649.01,557.41 L662.1,552.28 L665.45,550.82 L680.68,545.7 L696.51,540.82 L709.6,536.91 L726.05,531.79 L741.27,529.35 L755.89,524.47 L771.42,520.56 L786.03,515.68 L801.56,510.07 L816.18,503 L831.4,494.46 L837.19,488.84 L854.55,472.01 L862.77,461.52 L870.99,451.51 L878.91,442.73 L886.21,434.92 L890.48,430.53" fill="none" stroke="#6394d0" stroke-width="2"/>
<path d="M890.48,430.53 L885.3,434.19 L876.77,439.07 L870.38,442.48 L863.68,447.36 L856.68,452.49 L849.07,458.83 L840.84,466.4 L833.23,475.42 L819.22,489.33 L802.17,502.02 L787.25,508.85 L772.03,514.46 L755.89,520.56 L741.27,525.69 L726.05,531.79 L709.6,536.91" fill="none" stroke="#6394d0" stroke-width="2"/>
<circle cx="587.5" cy="665.5" r="4.6" fill="url(#gb)"/>
<circle cx="587.5" cy="658.18" r="4.6" fill="url(#gb)"/>
<circle cx="587.5" cy="650.86" r="4.6" fill="url(#gb)"/>
<circle cx="587.5" cy="643.54" r="4.6" fill="url(#gb)"/>
<circle cx="587.5" cy="636.22" r="4.6" fill="url(#gb)"/>
<circle cx="587.5" cy="628.9" r="4.6" fill="url(#gb)"/>
<circle cx="587.5" cy="622.8" r="4.6" fill="url(#gb)"/>
<circle cx="587.5" cy="616.7" r="4.6" fill="url(#gb)"/>
<circle cx="588.11" cy="608.65" r="4.6" fill="url(#gb)"/>
<circle cx="589.63" cy="602.79" r="4.6" fill="url(#gb)"/>
<circle cx="592.98" cy="595.47" r="4.6" fill="url(#gb)"/>
<circle cx="602.73" cy="583.76" r="4.6" fill="url(#gb)"/>
<circle cx="606.68" cy="581.08" r="4.6" fill="url(#gb)"/>
<circle cx="618.86" cy="572.29" r="4.6" fill="url(#gb)"/>
<circle cx="634.09" cy="564" r="4.6" fill="url(#gb)"/>
<circle cx="649.01" cy="557.41" r="4.6" fill="url(#gb)"/>
<circle cx="662.1" cy="552.28" r="4.6" fill="url(#gb)"/>
<circle cx="665.45" cy="550.82" r="4.6" fill="url(#gb)"/>
<circle cx="680.68" cy="545.7" r="4.6" fill="url(#gb)"/>
<circle cx="696.51" cy="540.82" r="4.6" fill="url(#gb)"/>
<circle cx="709.6" cy="536.91" r="4.6" fill="url(#gb)"/>
<circle cx="726.05" cy="531.79" r="4.6" fill="url(#gb)"/>
<circle cx="741.27" cy="529.35" r="4.6" fill="url(#gb)"/>
<circle cx="755.89" cy="524.47" r="4.6" fill="url(#gb)"/>
<circle cx="771.42" cy="520.56" r="4.6" fill="url(#gb)"/>
<circle cx="786.03" cy="515.68" r="4.6" fill="url(#gb)"/>
<circle cx="801.56" cy="510.07" r="4.6" fill="url(#gb)"/>
<circle cx="816.18" cy="503" r="4.6" fill="url(#gb)"/>
<circle cx="831.4" cy="494.46" r="4.6" fill="url(#gb)"/>
<circle cx="837.19" cy="488.84" r="4.6" fill="url(#gb)"/>
<circle cx="854.55" cy="472.01" r="4.6" fill="url(#gb)"/>
<circle cx="862.77" cy="461.52" r="4.6" fill="url(#gb)"/>
<circle cx="870.99" cy="451.51" r="4.6" fill="url(#gb)"/>
<circle cx="878.91" cy="442.73" r="4.6" fill="url(#gb)"/>
<circle cx="886.21" cy="434.92" r="4.6" fill="url(#gb)"/>
<circle cx="890.48" cy="430.53" r="4.6" fill="url(#gb)"/>
<circle cx="890.48" cy="430.53" r="4.6" fill="url(#gb)"/>
<circle cx="885.3" cy="434.19" r="4.6" fill="url(#gb)"/>
<circle cx="876.77" cy="439.07" r="4.6" fill="url(#gb)"/>
<circle cx="870.38" cy="442.48" r="4.6" fill="url(#gb)"/>
<circle cx="863.68" cy="447.36" r="4.6" fill="url(#gb)"/>
<circle cx="856.68" cy="452.49" r="4.6" fill="url(#gb)"/>
<circle cx="849.07" cy="458.83" r="4.6" fill="url(#gb)"/>
<circle cx="840.84" cy="466.4" r="4.6" fill="url(#gb)"/>
<circle cx="833.23" cy="475.42" r="4.6" fill="url(#gb)"/>
<circle cx="819.22" cy="489.33" r="4.6" fill="url(#gb)"/>
<circle cx="802.17" cy="502.02" r="4.6" fill="url(#gb)"/>
<circle cx="787.25" cy="508.85" r="4.6" fill="url(#gb)"/>
<circle cx="772.03" cy="514.46" r="4.6" fill="url(#gb)"/>
<circle cx="755.89" cy="520.56" r="4.6" fill="url(#gb)"/>
<circle cx="741.27" cy="525.69" r="4.6" fill="url(#gb)"/>
<circle cx="726.05" cy="531.79" r="4.6" fill="url(#gb)"/>
<circle cx="709.6" cy="536.91" r="4.6" fill="url(#gb)"/>
<path d="M587.5,665.5 L587.5,661.84 L587.5,658.18 L587.5,654.52 L587.5,650.86 L587.5,647.2 L587.5,643.54 L587.5,639.88 L587.5,636.22 L587.5,632.56 L587.5,628.9 L587.5,625.24 L587.5,621.58 L587.5,617.92 L588.41,609.62 L593.59,603.04 L603.64,593.28 L618.86,584.49 L634.09,577.17 L649.01,570.58 L662.1,566.68 L665.45,565.7 L680.68,561.07 L696.51,556.43 L709.6,552.28 L725.44,547.65 L740.66,546.43 L755.89,542.77 L771.42,538.38 L786.03,533.98 L801.56,528.86 L816.18,522.76 L831.4,514.95 L838.1,510.56 L847.24,503.24 L854.55,494.94 L862.77,485.92 L870.99,476.64 L878.91,468.1 L886.21,459.81 L890.48,456.88" fill="none" stroke="#6554aa" stroke-width="2"/>
<path d="M890.48,456.88 L885.3,459.81 L876.77,463.96 L870.38,468.84 L863.68,472.5 L856.07,477.13 L848.46,482.99 L840.54,489.09 L833.23,497.63 L819.22,510.32 L801.56,520.81 L787.25,527.15 L772.03,533.25 L755.89,537.64 L740.66,542.04 L725.44,547.65 L709.6,552.28" fill="none" stroke="#6554aa" stroke-width="2"/>
<circle cx="587.5" cy="665.5" r="4.6" fill="url(#gp)"/>
<circle cx="587.5" cy="661.84" r="4.6" fill="url(#gp)"/>
<circle cx="587.5" cy="658.18" r="4.6" fill="url(#gp)"/>
<circle cx="587.5" cy="654.52" r="4.6" fill="url(#gp)"/>
<circle cx="587.5" cy="650.86" r="4.6" fill="url(#gp)"/>
<circle cx="587.5" cy="647.2" r="4.6" fill="url(#gp)"/>
<circle cx="587.5" cy="643.54" r="4.6" fill="url(#gp)"/>
<circle cx="587.5" cy="639.88" r="4.6" fill="url(#gp)"/>
<circle cx="587.5" cy="636.22" r="4.6" fill="url(#gp)"/>
<circle cx="587.5" cy="632.56" r="4.6" fill="url(#gp)"/>
<circle cx="587.5" cy="628.9" r="4.6" fill="url(#gp)"/>
<circle cx="587.5" cy="625.24" r="4.6" fill="url(#gp)"/>
<circle cx="587.5" cy="621.58" r="4.6" fill="url(#gp)"/>
<circle cx="587.5" cy="617.92" r="4.6" fill="url(#gp)"/>
<circle cx="588.41" cy="609.62" r="4.6" fill="url(#gp)"/>
<circle cx="593.59" cy="603.04" r="4.6" fill="url(#gp)"/>
<circle cx="603.64" cy="593.28" r="4.6" fill="url(#gp)"/>
<circle cx="618.86" cy="584.49" r="4.6" fill="url(#gp)"/>
<circle cx="634.09" cy="577.17" r="4.6" fill="url(#gp)"/>
<circle cx="649.01" cy="570.58" r="4.6" fill="url(#gp)"/>
<circle cx="662.1" cy="566.68" r="4.6" fill="url(#gp)"/>
<circle cx="665.45" cy="565.7" r="4.6" fill="url(#gp)"/>
<circle cx="680.68" cy="561.07" r="4.6" fill="url(#gp)"/>
<circle cx="696.51" cy="556.43" r="4.6" fill="url(#gp)"/>
<circle cx="709.6" cy="552.28" r="4.6" fill="url(#gp)"/>
<circle cx="725.44" cy="547.65" r="4.6" fill="url(#gp)"/>
<circle cx="740.66" cy="546.43" r="4.6" fill="url(#gp)"/>
<circle cx="755.89" cy="542.77" r="4.6" fill="url(#gp)"/>
<circle cx="771.42" cy="538.38" r="4.6" fill="url(#gp)"/>
<circle cx="786.03" cy="533.98" r="4.6" fill="url(#gp)"/>
<circle cx="801.56" cy="528.86" r="4.6" fill="url(#gp)"/>
<circle cx="816.18" cy="522.76" r="4.6" fill="url(#gp)"/>
<circle cx="831.4" cy="514.95" r="4.6" fill="url(#gp)"/>
<circle cx="838.1" cy="510.56" r="4.6" fill="url(#gp)"/>
<circle cx="847.24" cy="503.24" r="4.6" fill="url(#gp)"/>
<circle cx="854.55" cy="494.94" r="4.6" fill="url(#gp)"/>
<circle cx="862.77" cy="485.92" r="4.6" fill="url(#gp)"/>
<circle cx="870.99" cy="476.64" r="4.6" fill="url(#gp)"/>
<circle cx="878.91" cy="468.1" r="4.6" fill="url(#gp)"/>
<circle cx="886.21" cy="459.81" r="4.6" fill="url(#gp)"/>
<circle cx="890.48" cy="456.88" r="4.6" fill="url(#gp)"/>
<circle cx="890.48" cy="456.88" r="4.6" fill="url(#gp)"/>
<circle cx="885.3" cy="459.81" r="4.6" fill="url(#gp)"/>
<circle cx="876.77" cy="463.96" r="4.6" fill="url(#gp)"/>
<circle cx="870.38" cy="468.84" r="4.6" fill="url(#gp)"/>
<circle cx="863.68" cy="472.5" r="4.6" fill="url(#gp)"/>
<circle cx="856.07" cy="477.13" r="4.6" fill="url(#gp)"/>
<circle cx="848.46" cy="482.99" r="4.6" fill="url(#gp)"/>
<circle cx="840.54" cy="489.09" r="4.6" fill="url(#gp)"/>
<circle cx="833.23" cy="497.63" r="4.6" fill="url(#gp)"/>
<circle cx="819.22" cy="510.32" r="4.6" fill="url(#gp)"/>
<circle cx="801.56" cy="520.81" r="4.6" fill="url(#gp)"/>
<circle cx="787.25" cy="527.15" r="4.6" fill="url(#gp)"/>
<circle cx="772.03" cy="533.25" r="4.6" fill="url(#gp)"/>
<circle cx="755.89" cy="537.64" r="4.6" fill="url(#gp)"/>
<circle cx="740.66" cy="542.04" r="4.6" fill="url(#gp)"/>
<circle cx="725.44" cy="547.65" r="4.6" fill="url(#gp)"/>
<circle cx="709.6" cy="552.28" r="4.6" fill="url(#gp)"/>
<path d="M587.5,665.5 L587.5,661.84 L587.5,658.18 L587.5,654.52 L587.5,650.86 L587.5,647.2 L587.5,643.54 L587.5,639.88 L587.5,636.22 L587.5,632.56 L587.5,628.9 L587.5,625.24 L587.5,621.58 L587.5,617.92 L588.41,611.33 L593.59,604.74 L603.64,594.98 L618.86,586.2 L634.09,578.88 L649.01,572.29 L662.1,568.39 L665.45,567.41 L680.68,562.78 L696.51,558.14 L709.6,553.99 L725.44,549.36 L740.66,548.14 L755.89,544.48 L771.42,540.08 L786.03,535.69 L801.56,530.57 L816.18,524.47 L831.4,516.66 L838.1,512.27 L847.24,504.95 L854.55,496.65 L862.77,487.62 L870.99,478.35 L878.91,469.81 L886.21,461.52 L890.48,458.59" fill="none" stroke="#e8421f" stroke-width="2"/>
<path d="M890.48,458.59 L885.3,461.52 L876.77,465.66 L870.38,470.54 L863.68,474.2 L856.07,478.84 L848.46,484.7 L840.54,490.8 L833.23,499.34 L819.22,512.02 L801.56,522.52 L787.25,528.86 L772.03,534.96 L755.89,539.35 L740.66,543.74 L725.44,549.36 L709.6,553.99" fill="none" stroke="#e8421f" stroke-width="2"/>
<circle cx="587.5" cy="665.5" r="4.6" fill="url(#gr)"/>
<circle cx="587.5" cy="661.84" r="4.6" fill="url(#gr)"/>
<circle cx="587.5" cy="658.18" r="4.6" fill="url(#gr)"/>
<circle cx="587.5" cy="654.52" r="4.6" fill="url(#gr)"/>
<circle cx="587.5" cy="650.86" r="4.6" fill="url(#gr)"/>
<circle cx="587.5" cy="647.2" r="4.6" fill="url(#gr)"/>
<circle cx="587.5" cy="643.54" r="4.6" fill="url(#gr)"/>
<circle cx="587.5" cy="639.88" r="4.6" fill="url(#gr)"/>
<circle cx="587.5" cy="636.22" r="4.6" fill="url(#gr)"/>
<circle cx="587.5" cy="632.56" r="4.6" fill="url(#gr)"/>
<circle cx="587.5" cy="628.9" r="4.6" fill="url(#gr)"/>
<circle cx="587.5" cy="625.24" r="4.6" fill="url(#gr)"/>
<circle cx="587.5" cy="621.58" r="4.6" fill="url(#gr)"/>
<circle cx="587.5" cy="617.92" r="4.6" fill="url(#gr)"/>
<circle cx="588.41" cy="611.33" r="4.6" fill="url(#gr)"/>
<circle cx="593.59" cy="604.74" r="4.6" fill="url(#gr)"/>
<circle cx="603.64" cy="594.98" r="4.6" fill="url(#gr)"/>
<circle cx="618.86" cy="586.2" r="4.6" fill="url(#gr)"/>
<circle cx="634.09" cy="578.88" r="4.6" fill="url(#gr)"/>
<circle cx="649.01" cy="572.29" r="4.6" fill="url(#gr)"/>
<circle cx="662.1" cy="568.39" r="4.6" fill="url(#gr)"/>
<circle cx="665.45" cy="567.41" r="4.6" fill="url(#gr)"/>
<circle cx="680.68" cy="562.78" r="4.6" fill="url(#gr)"/>
<circle cx="696.51" cy="558.14" r="4.6" fill="url(#gr)"/>
<circle cx="709.6" cy="553.99" r="4.6" fill="url(#gr)"/>
<circle cx="725.44" cy="549.36" r="4.6" fill="url(#gr)"/>
<circle cx="740.66" cy="548.14" r="4.6" fill="url(#gr)"/>
<circle cx="755.89" cy="544.48" r="4.6" fill="url(#gr)"/>
<circle cx="771.42" cy="540.08" r="4.6" fill="url(#gr)"/>
<circle cx="786.03" cy="535.69" r="4.6" fill="url(#gr)"/>
<circle cx="801.56" cy="530.57" r="4.6" fill="url(#gr)"/>
<circle cx="816.18" cy="524.47" r="4.6" fill="url(#gr)"/>
<circle cx="831.4" cy="516.66" r="4.6" fill="url(#gr)"/>
<circle cx="838.1" cy="512.27" r="4.6" fill="url(#gr)"/>
<circle cx="847.24" cy="504.95" r="4.6" fill="url(#gr)"/>
<circle cx="854.55" cy="496.65" r="4.6" fill="url(#gr)"/>
<circle cx="862.77" cy="487.62" r="4.6" fill="url(#gr)"/>
<circle cx="870.99" cy="478.35" r="4.6" fill="url(#gr)"/>
<circle cx="878.91" cy="469.81" r="4.6" fill="url(#gr)"/>
<circle cx="886.21" cy="461.52" r="4.6" fill="url(#gr)"/>
<circle cx="890.48" cy="458.59" r="4.6" fill="url(#gr)"/>
<circle cx="890.48" cy="458.59" r="4.6" fill="url(#gr)"/>
<circle cx="885.3" cy="461.52" r="4.6" fill="url(#gr)"/>
<circle cx="876.77" cy="465.66" r="4.6" fill="url(#gr)"/>
<circle cx="870.38" cy="470.54" r="4.6" fill="url(#gr)"/>
<circle cx="863.68" cy="474.2" r="4.6" fill="url(#gr)"/>
<circle cx="856.07" cy="478.84" r="4.6" fill="url(#gr)"/>
<circle cx="848.46" cy="484.7" r="4.6" fill="url(#gr)"/>
<circle cx="840.54" cy="490.8" r="4.6" fill="url(#gr)"/>
<circle cx="833.23" cy="499.34" r="4.6" fill="url(#gr)"/>
<circle cx="819.22" cy="512.02" r="4.6" fill="url(#gr)"/>
<circle cx="801.56" cy="522.52" r="4.6" fill="url(#gr)"/>
<circle cx="787.25" cy="528.86" r="4.6" fill="url(#gr)"/>
<circle cx="772.03" cy="534.96" r="4.6" fill="url(#gr)"/>
<circle cx="755.89" cy="539.35" r="4.6" fill="url(#gr)"/>
<circle cx="740.66" cy="543.74" r="4.6" fill="url(#gr)"/>
<circle cx="725.44" cy="549.36" r="4.6" fill="url(#gr)"/>
<circle cx="709.6" cy="553.99" r="4.6" fill="url(#gr)"/>
<rect x="557.3" y="398" width="366.2" height="291.5" fill="none" stroke="#000" stroke-width="1.8"/>
<line x1="557.3" y1="665.5" x2="561.3" y2="665.5" stroke="#000" stroke-width="1.8"/>
<line x1="557.3" y1="641.1" x2="559.8" y2="641.1" stroke="#000" stroke-width="1.8"/>
<line x1="557.3" y1="616.7" x2="561.3" y2="616.7" stroke="#000" stroke-width="1.8"/>
<line x1="557.3" y1="592.3" x2="559.8" y2="592.3" stroke="#000" stroke-width="1.8"/>
<line x1="557.3" y1="567.9" x2="561.3" y2="567.9" stroke="#000" stroke-width="1.8"/>
<line x1="557.3" y1="543.5" x2="559.8" y2="543.5" stroke="#000" stroke-width="1.8"/>
<line x1="557.3" y1="519.1" x2="561.3" y2="519.1" stroke="#000" stroke-width="1.8"/>
<line x1="557.3" y1="494.7" x2="559.8" y2="494.7" stroke="#000" stroke-width="1.8"/>
<line x1="557.3" y1="470.3" x2="561.3" y2="470.3" stroke="#000" stroke-width="1.8"/>
<line x1="557.3" y1="445.9" x2="559.8" y2="445.9" stroke="#000" stroke-width="1.8"/>
<line x1="557.3" y1="421.5" x2="561.3" y2="421.5" stroke="#000" stroke-width="1.8"/>
<line x1="587.5" y1="689.5" x2="587.5" y2="685.5" stroke="#000" stroke-width="1.8"/>
<line x1="617.95" y1="689.5" x2="617.95" y2="687.0" stroke="#000" stroke-width="1.8"/>
<line x1="648.4" y1="689.5" x2="648.4" y2="685.5" stroke="#000" stroke-width="1.8"/>
<line x1="678.85" y1="689.5" x2="678.85" y2="687.0" stroke="#000" stroke-width="1.8"/>
<line x1="709.3" y1="689.5" x2="709.3" y2="685.5" stroke="#000" stroke-width="1.8"/>
<line x1="739.75" y1="689.5" x2="739.75" y2="687.0" stroke="#000" stroke-width="1.8"/>
<line x1="770.2" y1="689.5" x2="770.2" y2="685.5" stroke="#000" stroke-width="1.8"/>
<line x1="800.65" y1="689.5" x2="800.65" y2="687.0" stroke="#000" stroke-width="1.8"/>
<line x1="831.1" y1="689.5" x2="831.1" y2="685.5" stroke="#000" stroke-width="1.8"/>
<line x1="861.55" y1="689.5" x2="861.55" y2="687.0" stroke="#000" stroke-width="1.8"/>
<line x1="892" y1="689.5" x2="892" y2="685.5" stroke="#000" stroke-width="1.8"/>
<line x1="802" y1="607.8" x2="836" y2="607.8" stroke="#6394d0" stroke-width="2"/>
<circle cx="819" cy="607.8" r="4.2" fill="url(#gb)"/>
<line x1="802" y1="629.65" x2="836" y2="629.65" stroke="#6554aa" stroke-width="2"/>
<circle cx="819" cy="629.65" r="4.2" fill="url(#gp)"/>
<line x1="802" y1="652.4" x2="836" y2="652.4" stroke="#e8421f" stroke-width="2"/>
<circle cx="819" cy="652.4" r="4.2" fill="url(#gr)"/>
<rect x="603.8" y="409.8" width="116.9" height="89.8" fill="#fff" stroke="#333" stroke-width="1.6"/>
<path d="M610,418.7 L613.7,435.8 L617.2,451.3 L620.3,463.3 L623.3,471.7 L626.7,469.2 L629.7,462.5 L633,479.2 L636.7,480 L640.3,480.3 L644.2,480.3 L649.2,480.3 L655,481.3 L660,485 L664.2,488.3 L668.3,491.7 L673.3,494.7 L679.7,496 L686.7,496.3 L696.7,496.7 L713.7,497" fill="none" stroke="#6394d0" stroke-width="0.9"/>
<circle cx="610" cy="418.7" r="1.8" fill="#6394d0"/>
<circle cx="613.7" cy="435.8" r="1.8" fill="#6394d0"/>
<circle cx="617.2" cy="451.3" r="1.8" fill="#6394d0"/>
<circle cx="620.3" cy="463.3" r="1.8" fill="#6394d0"/>
<circle cx="623.3" cy="471.7" r="1.8" fill="#6394d0"/>
<circle cx="626.7" cy="469.2" r="1.8" fill="#6394d0"/>
<circle cx="629.7" cy="462.5" r="1.8" fill="#6394d0"/>
<circle cx="633" cy="479.2" r="1.8" fill="#6394d0"/>
<circle cx="636.7" cy="480" r="1.8" fill="#6394d0"/>
<circle cx="640.3" cy="480.3" r="1.8" fill="#6394d0"/>
<circle cx="644.2" cy="480.3" r="1.8" fill="#6394d0"/>
<circle cx="649.2" cy="480.3" r="1.8" fill="#6394d0"/>
<circle cx="655" cy="481.3" r="1.8" fill="#6394d0"/>
<circle cx="660" cy="485" r="1.8" fill="#6394d0"/>
<circle cx="664.2" cy="488.3" r="1.8" fill="#6394d0"/>
<circle cx="668.3" cy="491.7" r="1.8" fill="#6394d0"/>
<circle cx="673.3" cy="494.7" r="1.8" fill="#6394d0"/>
<circle cx="679.7" cy="496" r="1.8" fill="#6394d0"/>
<circle cx="686.7" cy="496.3" r="1.8" fill="#6394d0"/>
<circle cx="696.7" cy="496.7" r="1.8" fill="#6394d0"/>
<circle cx="713.7" cy="497" r="1.8" fill="#6394d0"/>
<path d="M610,426.57 L613.7,441.72 L617.2,455.95 L620.3,467.05 L623.3,474.4 L626.7,471.68 L629.7,464.6 L633,480.4 L636.7,481.27 L640.3,481.72 L644.2,481.72 L649.2,481.72 L655,482.2 L660,485.6 L664.2,489.35 L668.3,492.3 L673.3,494.7 L679.7,496 L686.7,496.3 L696.7,496.93 L713.7,497" fill="none" stroke="#6554aa" stroke-width="0.9"/>
<circle cx="610" cy="426.57" r="1.8" fill="#6554aa"/>
<circle cx="613.7" cy="441.72" r="1.8" fill="#6554aa"/>
<circle cx="617.2" cy="455.95" r="1.8" fill="#6554aa"/>
<circle cx="620.3" cy="467.05" r="1.8" fill="#6554aa"/>
<circle cx="623.3" cy="474.4" r="1.8" fill="#6554aa"/>
<circle cx="626.7" cy="471.68" r="1.8" fill="#6554aa"/>
<circle cx="629.7" cy="464.6" r="1.8" fill="#6554aa"/>
<circle cx="633" cy="480.4" r="1.8" fill="#6554aa"/>
<circle cx="636.7" cy="481.27" r="1.8" fill="#6554aa"/>
<circle cx="640.3" cy="481.72" r="1.8" fill="#6554aa"/>
<circle cx="644.2" cy="481.72" r="1.8" fill="#6554aa"/>
<circle cx="649.2" cy="481.72" r="1.8" fill="#6554aa"/>
<circle cx="655" cy="482.2" r="1.8" fill="#6554aa"/>
<circle cx="660" cy="485.6" r="1.8" fill="#6554aa"/>
<circle cx="664.2" cy="489.35" r="1.8" fill="#6554aa"/>
<circle cx="668.3" cy="492.3" r="1.8" fill="#6554aa"/>
<circle cx="673.3" cy="494.7" r="1.8" fill="#6554aa"/>
<circle cx="679.7" cy="496" r="1.8" fill="#6554aa"/>
<circle cx="686.7" cy="496.3" r="1.8" fill="#6554aa"/>
<circle cx="696.7" cy="496.93" r="1.8" fill="#6554aa"/>
<circle cx="713.7" cy="497" r="1.8" fill="#6554aa"/>
<path d="M610,429.2 L613.7,443.7 L617.2,457.5 L620.3,468.3 L623.3,475.3 L626.7,472.5 L629.7,465.3 L633,480.8 L636.7,481.7 L640.3,482.2 L644.2,482.2 L649.2,482.2 L655,482.5 L660,485.8 L664.2,489.7 L668.3,492.5 L673.3,494.7 L679.7,496 L686.7,496.3 L696.7,497 L713.7,497" fill="none" stroke="#e8421f" stroke-width="0.9"/>
<circle cx="610" cy="429.2" r="1.8" fill="#e8421f"/>
<circle cx="613.7" cy="443.7" r="1.8" fill="#e8421f"/>
<circle cx="617.2" cy="457.5" r="1.8" fill="#e8421f"/>
<circle cx="620.3" cy="468.3" r="1.8" fill="#e8421f"/>
<circle cx="623.3" cy="475.3" r="1.8" fill="#e8421f"/>
<circle cx="626.7" cy="472.5" r="1.8" fill="#e8421f"/>
<circle cx="629.7" cy="465.3" r="1.8" fill="#e8421f"/>
<circle cx="633" cy="480.8" r="1.8" fill="#e8421f"/>
<circle cx="636.7" cy="481.7" r="1.8" fill="#e8421f"/>
<circle cx="640.3" cy="482.2" r="1.8" fill="#e8421f"/>
<circle cx="644.2" cy="482.2" r="1.8" fill="#e8421f"/>
<circle cx="649.2" cy="482.2" r="1.8" fill="#e8421f"/>
<circle cx="655" cy="482.5" r="1.8" fill="#e8421f"/>
<circle cx="660" cy="485.8" r="1.8" fill="#e8421f"/>
<circle cx="664.2" cy="489.7" r="1.8" fill="#e8421f"/>
<circle cx="668.3" cy="492.5" r="1.8" fill="#e8421f"/>
<circle cx="673.3" cy="494.7" r="1.8" fill="#e8421f"/>
<circle cx="679.7" cy="496" r="1.8" fill="#e8421f"/>
<circle cx="686.7" cy="496.3" r="1.8" fill="#e8421f"/>
<circle cx="696.7" cy="497" r="1.8" fill="#e8421f"/>
<circle cx="713.7" cy="497" r="1.8" fill="#e8421f"/>
<line x1="603.8" y1="497.2" x2="605.8" y2="497.2" stroke="#333" stroke-width="0.8"/>
<line x1="603.8" y1="490.9" x2="605" y2="490.9" stroke="#333" stroke-width="0.8"/>
<line x1="603.8" y1="484.6" x2="605.8" y2="484.6" stroke="#333" stroke-width="0.8"/>
<line x1="603.8" y1="478.3" x2="605" y2="478.3" stroke="#333" stroke-width="0.8"/>
<line x1="603.8" y1="472" x2="605.8" y2="472" stroke="#333" stroke-width="0.8"/>
<line x1="603.8" y1="465.7" x2="605" y2="465.7" stroke="#333" stroke-width="0.8"/>
<line x1="603.8" y1="459.4" x2="605.8" y2="459.4" stroke="#333" stroke-width="0.8"/>
<line x1="603.8" y1="453.1" x2="605" y2="453.1" stroke="#333" stroke-width="0.8"/>
<line x1="603.8" y1="446.8" x2="605.8" y2="446.8" stroke="#333" stroke-width="0.8"/>
<line x1="603.8" y1="440.5" x2="605" y2="440.5" stroke="#333" stroke-width="0.8"/>
<line x1="603.8" y1="434.2" x2="605.8" y2="434.2" stroke="#333" stroke-width="0.8"/>
<line x1="603.8" y1="427.9" x2="605" y2="427.9" stroke="#333" stroke-width="0.8"/>
<line x1="603.8" y1="421.6" x2="605.8" y2="421.6" stroke="#333" stroke-width="0.8"/>
<line x1="603.8" y1="415.3" x2="605" y2="415.3" stroke="#333" stroke-width="0.8"/>
<line x1="603.8" y1="409" x2="605.8" y2="409" stroke="#333" stroke-width="0.8"/>
<line x1="656.7" y1="499.6" x2="656.7" y2="497.6" stroke="#333" stroke-width="0.8"/>
<line x1="720.7" y1="499.6" x2="720.7" y2="497.6" stroke="#333" stroke-width="0.8"/>
<line x1="611.97" y1="499.6" x2="611.97" y2="498.40000000000003" stroke="#333" stroke-width="0.7"/>
<line x1="623.24" y1="499.6" x2="623.24" y2="498.40000000000003" stroke="#333" stroke-width="0.7"/>
<line x1="631.23" y1="499.6" x2="631.23" y2="498.40000000000003" stroke="#333" stroke-width="0.7"/>
<line x1="637.43" y1="499.6" x2="637.43" y2="498.40000000000003" stroke="#333" stroke-width="0.7"/>
<line x1="642.5" y1="499.6" x2="642.5" y2="498.40000000000003" stroke="#333" stroke-width="0.7"/>
<line x1="646.79" y1="499.6" x2="646.79" y2="498.40000000000003" stroke="#333" stroke-width="0.7"/>
<line x1="650.5" y1="499.6" x2="650.5" y2="498.40000000000003" stroke="#333" stroke-width="0.7"/>
<line x1="653.77" y1="499.6" x2="653.77" y2="498.40000000000003" stroke="#333" stroke-width="0.7"/>
<line x1="675.97" y1="499.6" x2="675.97" y2="498.40000000000003" stroke="#333" stroke-width="0.7"/>
<line x1="687.24" y1="499.6" x2="687.24" y2="498.40000000000003" stroke="#333" stroke-width="0.7"/>
<line x1="695.23" y1="499.6" x2="695.23" y2="498.40000000000003" stroke="#333" stroke-width="0.7"/>
<line x1="701.43" y1="499.6" x2="701.43" y2="498.40000000000003" stroke="#333" stroke-width="0.7"/>
<line x1="706.5" y1="499.6" x2="706.5" y2="498.40000000000003" stroke="#333" stroke-width="0.7"/>
<line x1="710.79" y1="499.6" x2="710.79" y2="498.40000000000003" stroke="#333" stroke-width="0.7"/>
<line x1="714.5" y1="499.6" x2="714.5" y2="498.40000000000003" stroke="#333" stroke-width="0.7"/>
<line x1="717.77" y1="499.6" x2="717.77" y2="498.40000000000003" stroke="#333" stroke-width="0.7"/>
<text transform="translate(11.81 54.73) scale(0.9810 1.0110)" font-size="27" fill="#000" font-weight="bold">(a)</text>
<text transform="translate(107.8 98.23) scale(0.9680 1.0738)" font-size="13.5" fill="#000" font-weight="bold">24.4°</text>
<text transform="translate(210.59 96.65) scale(1.0089 0.9687)" font-size="13.5" fill="#000" font-weight="bold">Pd(111)</text>
<text transform="translate(257.49 130.65) scale(0.9640 1.0157)" font-size="13.5" fill="#000" font-weight="bold">Pd(200)</text>
<text transform="translate(390.22 145.69) scale(0.9756 1.0103)" font-size="13.5" fill="#000" font-weight="bold">Pd(220)</text>
<text transform="translate(294.26 317.24) scale(1.0133 0.9586)" font-size="13" fill="#7314e0" font-weight="bold">Pd PDF#87-0637</text>
<text transform="translate(86.54 354.87) scale(0.9950 1.0638)" font-size="15.5" fill="#000" font-weight="bold">20</text>
<text transform="translate(153.34 354.93) scale(1.0025 1.0723)" font-size="15.5" fill="#000" font-weight="bold">30</text>
<text transform="translate(220.47 354.91) scale(0.9729 1.0660)" font-size="15.5" fill="#000" font-weight="bold">40</text>
<text transform="translate(286.9 354.91) scale(1.0046 1.0660)" font-size="15.5" fill="#000" font-weight="bold">50</text>
<text transform="translate(353.74 354.93) scale(1.0064 1.0723)" font-size="15.5" fill="#000" font-weight="bold">60</text>
<text transform="translate(420.35 354.91) scale(1.0196 1.0660)" font-size="15.5" fill="#000" font-weight="bold">70</text>
<text transform="translate(197.75 382.26) scale(1.0130 1.0248)" font-size="16.5" fill="#000" font-weight="bold">2 Theta (degree)</text>
<text transform="translate(45.11 243.1) rotate(-90) scale(1.0435 0.9744)" font-size="16.5" fill="#000" font-weight="bold">Intensity (a.u.)</text>
<text transform="translate(366.1 53.12) scale(1.0076 1.0107)" font-size="14" fill="#000" font-weight="bold">Pd@AC<tspan font-size="10" dy="3">0</tspan></text>
<text transform="translate(366.21 75.91) scale(0.9975 1.1138)" font-size="14" fill="#000" font-weight="bold">PL−Pd@AC<tspan font-size="10.5" dy="3.5">O2</tspan></text>
<text transform="translate(366.3 99.14) scale(0.9972 0.9375)" font-size="14" fill="#000" font-weight="bold">PL−Pd@AC<tspan font-size="10.5" dy="3.5">Ar</tspan></text>
<text transform="translate(482.42 55.45) scale(0.9740 0.9993)" font-size="27" fill="#000" font-weight="bold">(b)</text>
<text transform="translate(741.81 66.37) scale(1.0370 1.1037)" font-size="12.5" fill="#000" font-weight="bold">D</text>
<text transform="translate(801.55 53.26) scale(0.9952 1.0701)" font-size="12.5" fill="#000" font-weight="bold">G</text>
<text transform="translate(582.54 110.33) scale(0.9868 1.0156)" font-size="15" fill="#000" font-weight="bold">AC<tspan font-size="10" dy="4.5">0</tspan></text>
<text transform="translate(581.99 202.46) scale(0.9817 1.0259)" font-size="15" fill="#000" font-weight="bold">PL−AC<tspan font-size="9.5" dy="4">O2</tspan></text>
<text transform="translate(582.15 300.62) scale(0.9745 1.0280)" font-size="15" fill="#000" font-weight="bold">PL−AC<tspan font-size="9.5" dy="4">Ar</tspan></text>
<text transform="translate(849.51 107.64) scale(1.0060 0.9735)" font-size="13" fill="#000" font-weight="bold">I<tspan font-size="8.5" dy="3">D</tspan><tspan dy="-3">/I</tspan><tspan font-size="8.5" dy="3">G</tspan><tspan dy="-3">= 0.79</tspan></text>
<text transform="translate(848.76 196.37) scale(1.0158 0.9760)" font-size="13" fill="#000" font-weight="bold">I<tspan font-size="8.5" dy="3">D</tspan><tspan dy="-3">/I</tspan><tspan font-size="8.5" dy="3">G</tspan><tspan dy="-3">= 0.86</tspan></text>
<text transform="translate(849.19 297.1) scale(1.0111 0.9499)" font-size="13" fill="#000" font-weight="bold">I<tspan font-size="8.5" dy="3">D</tspan><tspan dy="-3">/I</tspan><tspan font-size="8.5" dy="3">G</tspan><tspan dy="-3">= 0.87</tspan></text>
<text transform="translate(547.08 346.54) scale(0.9697 1.0107)" font-size="12" fill="#000" font-weight="bold">500</text>
<text transform="translate(658.03 346.59) scale(0.9813 1.0241)" font-size="12" fill="#000" font-weight="bold">1000</text>
<text transform="translate(772.37 346.54) scale(0.9809 1.0107)" font-size="12" fill="#000" font-weight="bold">1500</text>
<text transform="translate(887.13 346.57) scale(0.9675 1.0066)" font-size="12" fill="#000" font-weight="bold">2000</text>
<text transform="translate(677.18 370.22) scale(0.9950 0.9820)" font-size="14.5" fill="#000" font-weight="bold">Raman shift (cm<tspan font-size="9.5" dy="-5.7">-1</tspan><tspan dy="5.7">)</tspan></text>
<text transform="translate(545.01 223.87) rotate(-90) scale(1.0366 1.0016)" font-size="14" fill="#000" font-weight="bold">Intensity (a.u.)</text>
<text transform="translate(11.91 415) scale(0.9829 1.0110)" font-size="27" fill="#000" font-weight="bold">(c)</text>
<text transform="translate(103.83 418.5) scale(0.9893 1.0036)" font-size="14.5" fill="#000" font-weight="bold">AC<tspan font-size="14" dy="3.5">0</tspan></text>
<text transform="translate(103.92 440.25) scale(0.9794 0.9456)" font-size="14.5" fill="#000" font-weight="bold">PL−AC<tspan font-size="14" dy="4">O2</tspan></text>
<text transform="translate(103.86 462.87) scale(0.9857 0.9771)" font-size="14.5" fill="#000" font-weight="bold">PL−AC<tspan font-size="14" dy="4">Ar</tspan></text>
<text transform="translate(46.01 705.75) scale(0.9605 0.9935)" font-size="16" fill="#000" font-weight="bold">1.94</text>
<text transform="translate(103.35 705.55) scale(0.9695 0.9935)" font-size="16" fill="#000" font-weight="bold">1.96</text>
<text transform="translate(160.76 705.51) scale(0.9714 0.9908)" font-size="16" fill="#000" font-weight="bold">1.98</text>
<text transform="translate(218.73 705.75) scale(0.9476 0.9935)" font-size="16" fill="#000" font-weight="bold">2.00</text>
<text transform="translate(276.24 705.75) scale(0.9464 0.9935)" font-size="16" fill="#000" font-weight="bold">2.02</text>
<text transform="translate(333.52 705.77) scale(0.9439 0.9963)" font-size="16" fill="#000" font-weight="bold">2.04</text>
<text transform="translate(390.96 705.51) scale(0.9517 0.9908)" font-size="16" fill="#000" font-weight="bold">2.06</text>
<text transform="translate(448.29 705.51) scale(0.9536 0.9908)" font-size="16" fill="#000" font-weight="bold">2.08</text>
<text transform="translate(187.79 732.73) scale(1.0416 1.0648)" font-size="17" fill="#000" font-weight="bold">Magnetic field (G)</text>
<text transform="translate(49.4 600.45) rotate(-90) scale(1.0481 1.0082)" font-size="17" fill="#000" font-weight="bold">Intensity(a.u.)</text>
<text transform="translate(482.83 415.12) scale(1.0030 1.0014)" font-size="27" fill="#000" font-weight="bold">(d)</text>
<text transform="translate(541.73 670.66) scale(1.0340 0.9935)" font-size="16" fill="#000" font-weight="bold">0</text>
<text transform="translate(525.05 622.07) scale(0.9630 0.9935)" font-size="16" fill="#000" font-weight="bold">200</text>
<text transform="translate(525.24 573.46) scale(0.9608 0.9935)" font-size="16" fill="#000" font-weight="bold">400</text>
<text transform="translate(524.89 524.61) scale(0.9701 0.9991)" font-size="16" fill="#000" font-weight="bold">600</text>
<text transform="translate(525.05 475.05) scale(0.9666 0.9908)" font-size="16" fill="#000" font-weight="bold">800</text>
<text transform="translate(517.24 426.66) scale(0.9434 0.9935)" font-size="16" fill="#000" font-weight="bold">1000</text>
<text transform="translate(576.73 707.58) scale(0.9550 1.0217)" font-size="16" fill="#000" font-weight="bold">0.0</text>
<text transform="translate(637.67 707.58) scale(0.9539 1.0217)" font-size="16" fill="#000" font-weight="bold">0.2</text>
<text transform="translate(698.52 707.65) scale(0.9292 1.0215)" font-size="16" fill="#000" font-weight="bold">0.4</text>
<text transform="translate(759.38 707.59) scale(0.9593 1.0219)" font-size="16" fill="#000" font-weight="bold">0.6</text>
<text transform="translate(820.35 707.59) scale(0.9469 1.0218)" font-size="16" fill="#000" font-weight="bold">0.8</text>
<text transform="translate(880.82 707.58) scale(0.9765 1.0217)" font-size="16" fill="#000" font-weight="bold">1.0</text>
<text transform="translate(638.84 726.23) scale(1.0588 1.1064)" font-size="17" fill="#000" font-weight="bold">Relative pressure (<tspan font-style="italic">P</tspan>/<tspan font-style="italic">P<tspan font-size="11" dy="3.5">0</tspan></tspan><tspan dy="-3.5">)</tspan></text>
<text transform="translate(510.45 658.31) rotate(-90) scale(1.0006 0.9150)" font-size="18" fill="#000" font-weight="bold">Quantity adsorbed (cm<tspan font-size="12" dy="-6.5">3</tspan><tspan dy="6.5">/g )</tspan></text>
<text transform="translate(842.77 612.79) scale(0.9959 1.0497)" font-size="14.5" fill="#000" font-weight="bold">AC<tspan font-size="14" dy="3.5">0</tspan></text>
<text transform="translate(843.42 634.95) scale(0.9899 1.0163)" font-size="14.5" fill="#000" font-weight="bold">PL−AC<tspan font-size="14" dy="4">O2</tspan></text>
<text transform="translate(843.42 657.08) scale(0.9905 0.9426)" font-size="14.5" fill="#000" font-weight="bold">PL−AC<tspan font-size="14" dy="4">Ar</tspan></text>
<text transform="translate(586.02 500.02) scale(1.0320 1.0373)" font-size="7.5" fill="#000" font-weight="bold">0.00</text>
<text transform="translate(586.25 487.83) scale(1.0184 1.0251)" font-size="7.5" fill="#000" font-weight="bold">0.05</text>
<text transform="translate(585.66 474.55) scale(1.0812 1.0192)" font-size="7.5" fill="#000" font-weight="bold">0.10</text>
<text transform="translate(585.97 462.41) scale(1.0334 1.0264)" font-size="7.5" fill="#000" font-weight="bold">0.15</text>
<text transform="translate(585.74 449.46) scale(1.0715 1.0243)" font-size="7.5" fill="#000" font-weight="bold">0.20</text>
<text transform="translate(586.13 437.02) scale(1.0276 1.0297)" font-size="7.5" fill="#000" font-weight="bold">0.25</text>
<text transform="translate(586.2 424.83) scale(1.0317 1.0355)" font-size="7.5" fill="#000" font-weight="bold">0.30</text>
<text transform="translate(585.99 411.58) scale(1.0275 1.0298)" font-size="7.5" fill="#000" font-weight="bold">0.35</text>
<text transform="translate(652.22 507.85) scale(1.1831 1.0718)" font-size="7.5" fill="#000" font-weight="bold">10</text>
<text transform="translate(714.07 507.92) scale(1.0415 0.9628)" font-size="7.5" fill="#000" font-weight="bold">100</text>
<text transform="translate(615.85 517.35) scale(1.0121 0.8918)" font-size="10" fill="#000" font-weight="bold">Pore diameter (nm)</text>
<text transform="translate(582.5 496.05) rotate(-90) scale(1.1070 0.9816)" font-size="9" fill="#000" font-weight="bold"><tspan font-style="italic">dV</tspan>/<tspan font-style="italic">dD</tspan> (cm<tspan font-size="6" dy="-3.5">3</tspan><tspan dy="3.5">/g/nm)</tspan></text>
</svg></body></html>
